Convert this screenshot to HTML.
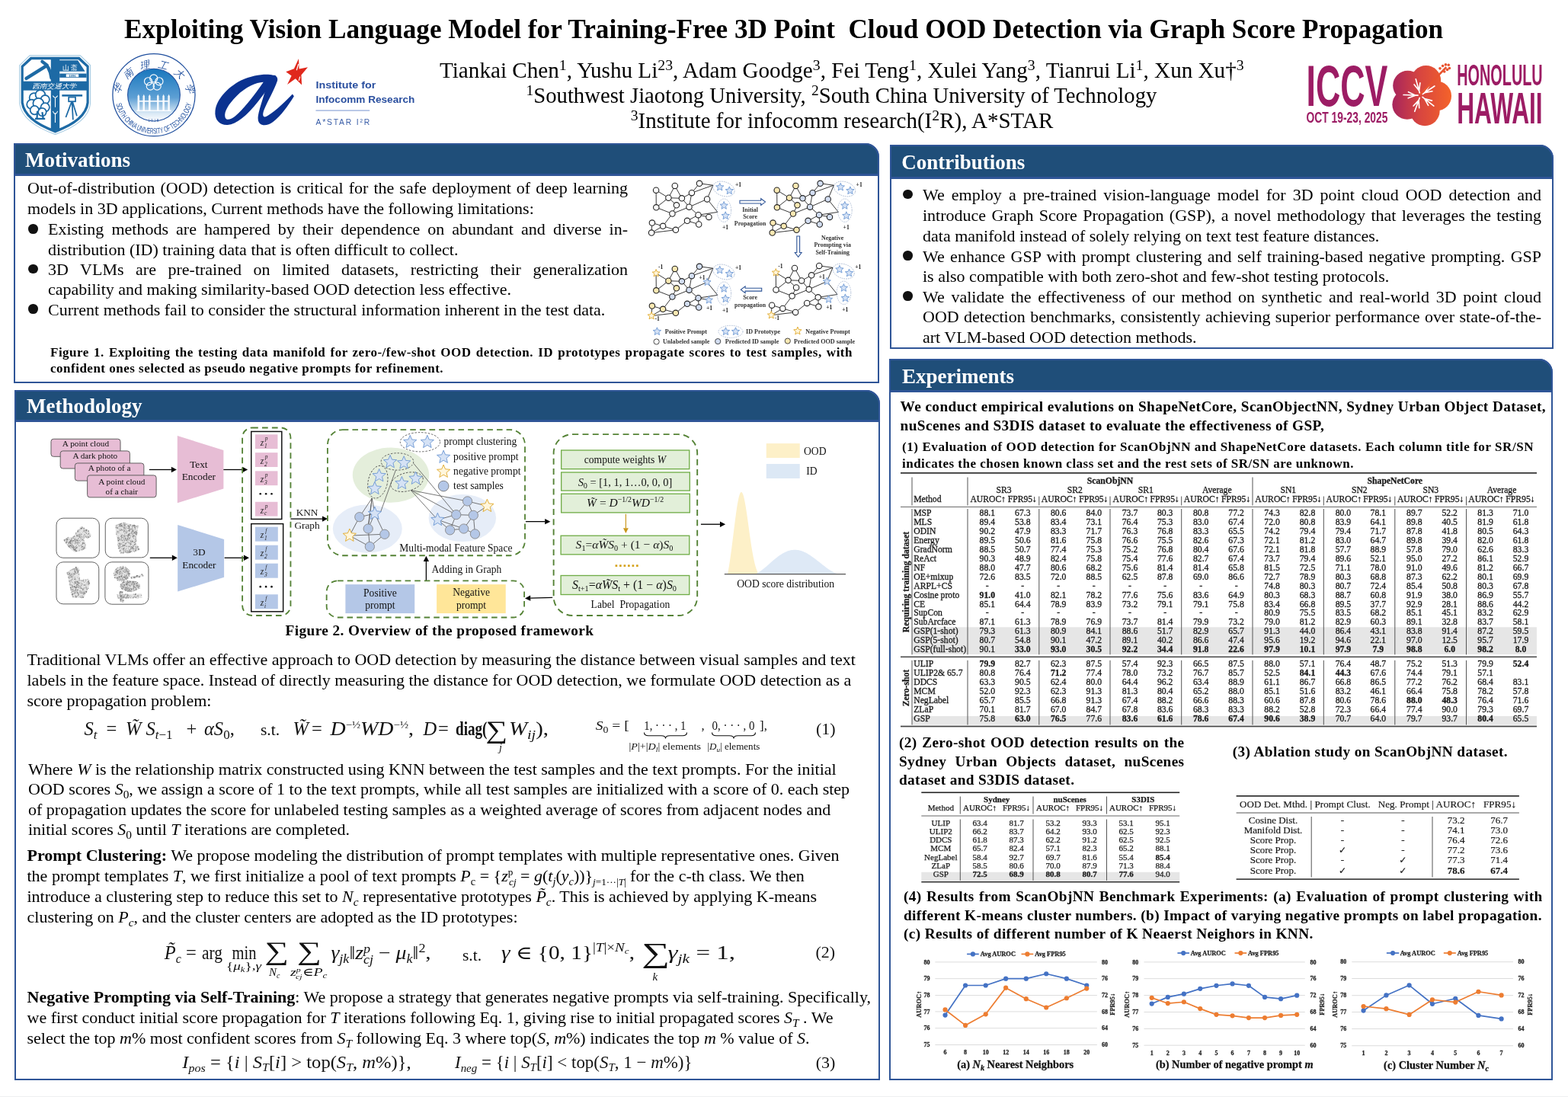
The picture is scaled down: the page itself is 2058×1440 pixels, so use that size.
<!DOCTYPE html><html><head><meta charset="utf-8"><title>GSP poster</title><style>

*{box-sizing:border-box;margin:0;padding:0}
html,body{width:2058px;height:1440px;overflow:hidden;background:#fff}
body{position:relative;font-family:"Liberation Serif", "DejaVu Serif", serif;color:#000}
.l{position:absolute;white-space:nowrap;line-height:1}
.box{position:absolute;border:2px solid #2f5597;background:#fff}
.hdr{position:absolute;background:#1f4e79;border:2px solid #2f5597;border-bottom-width:3px}
.bul{position:absolute;width:12.6px;height:12.6px;border-radius:50%;background:#111}
sub,sup{line-height:0}
.sv{position:absolute;overflow:visible}
i{font-style:italic}
.tbt1 text{stroke:#1a1a1a;stroke-width:0.3px}
.tbt2 text{stroke:#1a1a1a;stroke-width:0.25px}
.tbt3 text{stroke:#1a1a1a;stroke-width:0.2px}

</style></head><body>
<div class="l" style="left:163.0px;top:20.62px;font-size:35.2px;font-weight:bold;">Exploiting Vision Language Model for Training-Free 3D Point&nbsp; Cloud OOD Detection via Graph Score Propagation</div>
<div class="l" style="left:577.0px;top:78.29px;font-size:29.15px;">Tiankai Chen<sup style="font-size:0.68em;vertical-align:0.5em">1</sup>, Yushu Li<sup style="font-size:0.68em;vertical-align:0.5em">23</sup>, Adam Goodge<sup style="font-size:0.68em;vertical-align:0.5em">3</sup>, Fei Teng<sup style="font-size:0.68em;vertical-align:0.5em">1</sup>, Xulei Yang<sup style="font-size:0.68em;vertical-align:0.5em">3</sup>, Tianrui Li<sup style="font-size:0.68em;vertical-align:0.5em">1</sup>, Xun Xu&dagger;<sup style="font-size:0.68em;vertical-align:0.5em">3</sup></div>
<div class="l" style="left:690.5px;top:111.36px;font-size:28.7px;"><sup style="font-size:0.68em;vertical-align:0.5em">1</sup>Southwest Jiaotong University, <sup style="font-size:0.68em;vertical-align:0.5em">2</sup>South China University of Technology</div>
<div class="l" style="left:0.0px;top:143.51px;font-size:29.0px;width:2210.0px;text-align:center;"><sup style="font-size:0.68em;vertical-align:0.5em">3</sup>Institute for infocomm research(I<sup style="font-size:0.68em;vertical-align:0.5em">2</sup>R), A*STAR</div>
<div class="box" style="left:18px;top:188px;width:1136px;height:315px;border-top-right-radius:18px"></div>
<div class="hdr" style="left:18px;top:188px;width:1136px;height:43px;border-top-right-radius:18px"></div>
<div class="l" style="left:33.0px;top:197.29px;font-size:27px;font-weight:bold;color:#fff;">Motivations</div>
<div class="box" style="left:19px;top:512px;width:1136px;height:906px;border-top-right-radius:18px"></div>
<div class="hdr" style="left:19px;top:512px;width:1136px;height:42px;border-top-right-radius:18px"></div>
<div class="l" style="left:35.0px;top:519.69px;font-size:27px;font-weight:bold;color:#fff;">Methodology</div>
<div class="box" style="left:1168px;top:190px;width:871px;height:268px;border-top-right-radius:18px"></div>
<div class="hdr" style="left:1168px;top:190px;width:871px;height:45px;border-top-right-radius:18px"></div>
<div class="l" style="left:1183.2px;top:200.09px;font-size:27px;font-weight:bold;color:#fff;">Contributions</div>
<div class="box" style="left:1167px;top:471px;width:871px;height:947px;border-top-right-radius:18px"></div>
<div class="hdr" style="left:1167px;top:471px;width:871px;height:44px;border-top-right-radius:18px"></div>
<div class="l" style="left:1184.0px;top:480.89px;font-size:27px;font-weight:bold;color:#fff;">Experiments</div>
<div class="l" style="left:36.0px;top:236.38px;font-size:22px;width:788.0px;text-align:justify;text-align-last:justify;">Out-of-distribution (OOD) detection is critical for the safe deployment of deep learning</div>
<div class="l" style="left:36.0px;top:263.38px;font-size:22px;">models in 3D applications, Current methods have the following limitations:</div>
<div class="bul" style="left:37.3px;top:294.0px"></div>
<div class="l" style="left:63.0px;top:290.47px;font-size:22px;width:761.0px;text-align:justify;text-align-last:justify;">Existing methods are hampered by their dependence on abundant and diverse in-</div>
<div class="l" style="left:63.0px;top:316.57px;font-size:22px;">distribution (ID) training data that is often difficult to collect.</div>
<div class="bul" style="left:37.3px;top:346.6px"></div>
<div class="l" style="left:63.0px;top:343.07px;font-size:22px;width:761.0px;text-align:justify;text-align-last:justify;">3D VLMs are pre-trained on limited datasets, restricting their generalization</div>
<div class="l" style="left:63.0px;top:369.27px;font-size:22px;">capability and making similarity-based OOD detection less effective.</div>
<div class="bul" style="left:37.3px;top:399.4px"></div>
<div class="l" style="left:63.0px;top:395.88px;font-size:22px;">Current methods fail to consider the structural information inherent in the test data.</div>
<div class="l" style="left:66.0px;top:454.26px;font-size:17.0px;width:1053.0px;text-align:justify;text-align-last:justify;font-weight:bold;letter-spacing:0.5px;">Figure 1. Exploiting the testing data manifold for zero-/few-shot OOD detection. ID prototypes propagate scores to test samples, with</div>
<div class="l" style="left:66.0px;top:475.26px;font-size:17.0px;font-weight:bold;letter-spacing:0.5px;">confident ones selected as pseudo negative prompts for refinement.</div>
<div class="bul" style="left:1185px;top:248.9px"></div>
<div class="l" style="left:1211.0px;top:245.38px;font-size:22px;width:812.0px;text-align:justify;text-align-last:justify;">We employ a pre-trained vision-language model for 3D point cloud OOD detection and</div>
<div class="l" style="left:1211.0px;top:272.18px;font-size:22px;width:812.0px;text-align:justify;text-align-last:justify;">introduce Graph Score Propagation (GSP), a novel methodology that leverages the testing</div>
<div class="l" style="left:1211.0px;top:298.88px;font-size:22px;">data manifold instead of solely relying on text test feature distances.</div>
<div class="bul" style="left:1185px;top:329.1px"></div>
<div class="l" style="left:1211.0px;top:325.57px;font-size:22px;width:812.0px;text-align:justify;text-align-last:justify;">We enhance GSP with prompt clustering and self training-based negative prompting. GSP</div>
<div class="l" style="left:1211.0px;top:352.18px;font-size:22px;">is also compatible with both zero-shot and few-shot testing protocols.</div>
<div class="bul" style="left:1185px;top:382.1px"></div>
<div class="l" style="left:1211.0px;top:378.57px;font-size:22px;width:812.0px;text-align:justify;text-align-last:justify;">We validate the effectiveness of our method on synthetic and real-world 3D point cloud</div>
<div class="l" style="left:1211.0px;top:405.18px;font-size:22px;width:812.0px;text-align:justify;text-align-last:justify;">OOD detection benchmarks, consistently achieving superior performance over state-of-the-</div>
<div class="l" style="left:1211.0px;top:431.88px;font-size:22px;">art VLM-based OOD detection methods.</div>
<div class="l" style="left:374.5px;top:817.64px;font-size:19.3px;font-weight:bold;letter-spacing:0.42px;">Figure 2. Overview of the proposed framework</div>
<div class="l" style="left:35.5px;top:855.18px;font-size:22px;">Traditional VLMs offer an effective approach to OOD detection by measuring the distance between visual samples and text</div>
<div class="l" style="left:35.5px;top:882.18px;font-size:22px;">labels in the feature space. Instead of directly measuring the distance for OOD detection, we formulate OOD detection as a</div>
<div class="l" style="left:35.5px;top:909.18px;font-size:22px;">score propagation problem:</div>
<div class="l" style="left:37.0px;top:998.78px;font-size:22px;">Where <i>W</i> is the relationship matrix constructed using KNN between the test samples and the text prompts. For the initial</div>
<div class="l" style="left:37.0px;top:1025.17px;font-size:22px;">OOD scores <i>S</i><sub style="font-size:0.7em">0</sub>, we assign a score of 1 to the text prompts, while all test samples are initialized with a score of 0. each step</div>
<div class="l" style="left:37.0px;top:1051.58px;font-size:22px;">of propagation updates the score for unlabeled testing samples as a weighted average of scores from adjacent nodes and</div>
<div class="l" style="left:37.0px;top:1077.88px;font-size:22px;">initial scores <i>S</i><sub style="font-size:0.7em">0</sub> until <i>T</i> iterations are completed.</div>
<div class="l" style="left:35.5px;top:1112.17px;font-size:22px;"><b>Prompt Clustering:</b> We propose modeling the distribution of prompt templates with multiple representative ones. Given</div>
<div class="l" style="left:35.5px;top:1138.78px;font-size:22px;">the prompt templates <i>T</i>, we first initialize a pool of text prompts <i>P</i><sub style="font-size:.65em">c</sub> = {<i>z</i><sup style="font-size:.6em">p</sup><sub style="font-size:.6em;margin-left:-0.4em"><i>cj</i></sub> = <i>g</i>(<i>t<sub style="font-size:.65em">j</sub></i>(<i>y<sub style="font-size:.65em">c</sub></i>))}<sub style="font-size:.6em"><i>j</i>=1&middot;&middot;&middot;|<i>T</i>|</sub> for the c-th class. We then</div>
<div class="l" style="left:35.5px;top:1165.58px;font-size:22px;">introduce a clustering step to reduce this set to <i>N<sub style="font-size:.7em">c</sub></i> representative prototypes <i>P&#771;<sub style="font-size:.7em">c</sub></i>. This is achieved by applying K-means</div>
<div class="l" style="left:35.5px;top:1192.78px;font-size:22px;">clustering on <i>P<sub style="font-size:.7em">c</sub></i>, and the cluster centers are adopted as the ID prototypes:</div>
<div class="l" style="left:35.5px;top:1298.08px;font-size:22px;"><b>Negative Prompting via Self-Training</b>: We propose a strategy that generates negative prompts via self-training. Specifically,</div>
<div class="l" style="left:35.5px;top:1324.88px;font-size:22px;">we first conduct initial score propagation for <i>T</i> iterations following Eq. 1, giving rise to initial propagated scores <i>S<sub style="font-size:.7em">T</sub></i> . We</div>
<div class="l" style="left:35.5px;top:1351.88px;font-size:22px;">select the top <i>m</i>% most confident scores from <i>S<sub style="font-size:.7em">T</sub></i> following Eq. 3 where top(<i>S</i>, <i>m</i>%) indicates the top <i>m</i> % value of <i>S</i>.</div>
<div class="l" style="left:1181.6px;top:524.44px;font-size:19.3px;font-weight:bold;letter-spacing:0.4px;">We conduct empirical evalutions on ShapeNetCore, ScanObjectNN, Sydney Urban Object Dataset,</div>
<div class="l" style="left:1181.6px;top:549.34px;font-size:19.3px;font-weight:bold;letter-spacing:0.39px;">nuScenes and S3DIS dataset to evaluate the effectiveness of GSP,</div>
<div class="l" style="left:1184.0px;top:578.16px;font-size:17.0px;font-weight:bold;letter-spacing:0.58px;">(1) Evaluation of OOD detection for ScanObjNN and ShapeNetCore datasets. Each column title for SR/SN</div>
<div class="l" style="left:1184.0px;top:599.56px;font-size:17.0px;font-weight:bold;letter-spacing:0.49px;">indicates the chosen known class set and the rest sets of SR/SN are unknown.</div>
<div class="l" style="left:1180.0px;top:964.94px;font-size:19.3px;width:374.5px;text-align:justify;text-align-last:justify;font-weight:bold;letter-spacing:0.37px;">(2) Zero-shot OOD detection results on the</div>
<div class="l" style="left:1180.0px;top:989.94px;font-size:19.3px;width:374.5px;text-align:justify;text-align-last:justify;font-weight:bold;letter-spacing:0.37px;">Sydney Urban Objects dataset, nuScenes</div>
<div class="l" style="left:1180.0px;top:1013.74px;font-size:19.3px;font-weight:bold;letter-spacing:0.37px;">dataset and S3DIS dataset.</div>
<div class="l" style="left:1617.8px;top:977.04px;font-size:19.3px;font-weight:bold;letter-spacing:0.38px;">(3) Ablation study on ScanObjNN dataset.</div>
<div class="l" style="left:1186.0px;top:1167.04px;font-size:19.3px;width:838.6px;text-align:justify;text-align-last:justify;font-weight:bold;letter-spacing:0.39px;">(4) Results from ScanObjNN Benchmark Experiments: (a) Evaluation of prompt clustering with</div>
<div class="l" style="left:1186.0px;top:1191.94px;font-size:19.3px;font-weight:bold;letter-spacing:0.39px;">different K-means cluster numbers. (b) Impact of varying negative prompts on label propagation.</div>
<div class="l" style="left:1186.0px;top:1215.74px;font-size:19.3px;font-weight:bold;letter-spacing:0.39px;">(c) Results of different number of K Neaerst Neighors in KNN.</div>
<svg class="sv" style="left:840px;top:230px" width="310" height="230" viewBox="840 230 310 230"><style>.f1n{font:bold 7.6px "Liberation Serif",serif;fill:#222}.f1b{font:bold 7.9px "Liberation Serif",serif;fill:#333;text-anchor:middle}.f1l{font:bold 8.1px "Liberation Serif",serif;fill:#333}</style><g stroke="#222" stroke-width="0.9"><line x1="861.1" y1="249.7" x2="861.3" y2="272.3"/><line x1="861.1" y1="249.7" x2="877.4" y2="259.7"/><line x1="885.8" y1="243.9" x2="877.4" y2="259.7"/><line x1="885.8" y1="243.9" x2="894.9" y2="260.3"/><line x1="877.4" y1="259.7" x2="894.9" y2="260.3"/><line x1="877.4" y1="259.7" x2="861.3" y2="272.3"/><line x1="877.4" y1="259.7" x2="887.9" y2="269.3"/><line x1="894.9" y1="260.3" x2="907.9" y2="253.2"/><line x1="894.9" y1="260.3" x2="904.5" y2="271.7"/><line x1="907.9" y1="253.2" x2="904.5" y2="271.7"/><line x1="907.9" y1="253.2" x2="918.0" y2="240.8"/><line x1="887.9" y1="269.3" x2="882.4" y2="280.5"/><line x1="861.3" y1="272.3" x2="882.4" y2="280.5"/><line x1="904.5" y1="271.7" x2="882.4" y2="280.5"/><line x1="904.5" y1="271.7" x2="928.1" y2="261.4"/><line x1="904.5" y1="271.7" x2="916.5" y2="282.2"/><line x1="882.4" y1="280.5" x2="870.1" y2="296.8"/><line x1="916.5" y1="282.2" x2="930.4" y2="284.9"/><line x1="916.5" y1="282.2" x2="902.0" y2="289.8"/><line x1="916.5" y1="282.2" x2="917.2" y2="294.5"/><line x1="902.0" y1="289.8" x2="917.2" y2="294.5"/><line x1="902.0" y1="289.8" x2="886.9" y2="301.8"/><line x1="855.9" y1="292.6" x2="870.1" y2="296.8"/><line x1="855.9" y1="292.6" x2="855.1" y2="305.6"/><line x1="870.1" y1="296.8" x2="855.1" y2="305.6"/><line x1="870.1" y1="296.8" x2="886.9" y2="301.8"/><line x1="855.1" y1="305.6" x2="886.9" y2="301.8"/><line x1="918.0" y1="240.8" x2="935.8" y2="243.2"/><line x1="907.9" y1="253.2" x2="935.8" y2="243.2"/><line x1="928.1" y1="261.4" x2="935.8" y2="243.2"/><line x1="928.1" y1="261.4" x2="941.8" y2="278.4"/><line x1="916.5" y1="282.2" x2="941.8" y2="278.4"/></g><g stroke="#222" stroke-width="1.1"><circle cx="861.1" cy="249.7" r="3.7" fill="#ffffff"/><circle cx="885.8" cy="243.9" r="3.7" fill="#ffffff"/><circle cx="918.0" cy="240.8" r="3.7" fill="#ffffff"/><circle cx="877.4" cy="259.7" r="3.7" fill="#ffffff"/><circle cx="894.9" cy="260.3" r="3.7" fill="#ffffff"/><circle cx="907.9" cy="253.2" r="3.7" fill="#ffffff"/><circle cx="887.9" cy="269.3" r="3.7" fill="#ffffff"/><circle cx="861.3" cy="272.3" r="3.7" fill="#ffffff"/><circle cx="904.5" cy="271.7" r="3.7" fill="#ffffff"/><circle cx="928.1" cy="261.4" r="3.7" fill="#ffffff"/><circle cx="882.4" cy="280.5" r="3.7" fill="#ffffff"/><circle cx="916.5" cy="282.2" r="3.7" fill="#ffffff"/><circle cx="930.4" cy="284.9" r="3.7" fill="#ffffff"/><circle cx="855.9" cy="292.6" r="3.7" fill="#ffffff"/><circle cx="870.1" cy="296.8" r="3.7" fill="#ffffff"/><circle cx="902.0" cy="289.8" r="3.7" fill="#ffffff"/><circle cx="917.2" cy="294.5" r="3.7" fill="#ffffff"/><circle cx="855.1" cy="305.6" r="3.7" fill="#ffffff"/><circle cx="886.9" cy="301.8" r="3.7" fill="#ffffff"/></g><ellipse cx="950.0" cy="248.0" rx="14.5" ry="9.3" transform="rotate(18 950.0 248.0)" fill="none" stroke="#8fa3c4" stroke-width="0.7" stroke-dasharray="1.6 1.2"/><ellipse cx="950.3" cy="276.2" rx="9.3" ry="15.2" fill="none" stroke="#8fa3c4" stroke-width="0.7" stroke-dasharray="1.6 1.2"/><polygon points="944.70,240.20 946.13,243.63 949.84,243.93 947.01,246.35 947.87,249.97 944.70,248.03 941.53,249.97 942.39,246.35 939.56,243.93 943.27,243.63" fill="#d5e2f5" stroke="#6d98d4" stroke-width="0.9" stroke-linejoin="miter"/><polygon points="957.30,244.90 958.73,248.33 962.44,248.63 959.61,251.05 960.47,254.67 957.30,252.73 954.13,254.67 954.99,251.05 952.16,248.63 955.87,248.33" fill="#d5e2f5" stroke="#6d98d4" stroke-width="0.9" stroke-linejoin="miter"/><polygon points="950.20,264.50 951.63,267.93 955.34,268.23 952.51,270.65 953.37,274.27 950.20,272.33 947.03,274.27 947.89,270.65 945.06,268.23 948.77,267.93" fill="#d5e2f5" stroke="#6d98d4" stroke-width="0.9" stroke-linejoin="miter"/><polygon points="952.20,277.80 953.63,281.23 957.34,281.53 954.51,283.95 955.37,287.57 952.20,285.63 949.03,287.57 949.89,283.95 947.06,281.53 950.77,281.23" fill="#d5e2f5" stroke="#6d98d4" stroke-width="0.9" stroke-linejoin="miter"/><text x="965.0" y="244.5" class="f1n">+1</text><text x="948.0" y="300.5" class="f1n">+1</text><g stroke="#222" stroke-width="0.9"><line x1="1019.7" y1="249.7" x2="1019.9" y2="272.3"/><line x1="1019.7" y1="249.7" x2="1036.0" y2="259.7"/><line x1="1044.4" y1="243.9" x2="1036.0" y2="259.7"/><line x1="1044.4" y1="243.9" x2="1053.5" y2="260.3"/><line x1="1036.0" y1="259.7" x2="1053.5" y2="260.3"/><line x1="1036.0" y1="259.7" x2="1019.9" y2="272.3"/><line x1="1036.0" y1="259.7" x2="1046.5" y2="269.3"/><line x1="1053.5" y1="260.3" x2="1066.5" y2="253.2"/><line x1="1053.5" y1="260.3" x2="1063.1" y2="271.7"/><line x1="1066.5" y1="253.2" x2="1063.1" y2="271.7"/><line x1="1066.5" y1="253.2" x2="1076.6" y2="240.8"/><line x1="1046.5" y1="269.3" x2="1041.0" y2="280.5"/><line x1="1019.9" y1="272.3" x2="1041.0" y2="280.5"/><line x1="1063.1" y1="271.7" x2="1041.0" y2="280.5"/><line x1="1063.1" y1="271.7" x2="1086.7" y2="261.4"/><line x1="1063.1" y1="271.7" x2="1075.1" y2="282.2"/><line x1="1041.0" y1="280.5" x2="1028.7" y2="296.8"/><line x1="1075.1" y1="282.2" x2="1089.0" y2="284.9"/><line x1="1075.1" y1="282.2" x2="1060.6" y2="289.8"/><line x1="1075.1" y1="282.2" x2="1075.8" y2="294.5"/><line x1="1060.6" y1="289.8" x2="1075.8" y2="294.5"/><line x1="1060.6" y1="289.8" x2="1045.5" y2="301.8"/><line x1="1014.5" y1="292.6" x2="1028.7" y2="296.8"/><line x1="1014.5" y1="292.6" x2="1013.7" y2="305.6"/><line x1="1028.7" y1="296.8" x2="1013.7" y2="305.6"/><line x1="1028.7" y1="296.8" x2="1045.5" y2="301.8"/><line x1="1013.7" y1="305.6" x2="1045.5" y2="301.8"/><line x1="1076.6" y1="240.8" x2="1094.4" y2="243.2"/><line x1="1066.5" y1="253.2" x2="1094.4" y2="243.2"/><line x1="1086.7" y1="261.4" x2="1094.4" y2="243.2"/><line x1="1086.7" y1="261.4" x2="1100.4" y2="278.4"/><line x1="1075.1" y1="282.2" x2="1100.4" y2="278.4"/></g><g stroke="#222" stroke-width="1.1"><circle cx="1019.7" cy="249.7" r="3.7" fill="#fbe9b3"/><circle cx="1044.4" cy="243.9" r="3.7" fill="#fbe9b3"/><circle cx="1076.6" cy="240.8" r="3.7" fill="#d3def2"/><circle cx="1036.0" cy="259.7" r="3.7" fill="#fbe9b3"/><circle cx="1053.5" cy="260.3" r="3.7" fill="#d3def2"/><circle cx="1066.5" cy="253.2" r="3.7" fill="#d3def2"/><circle cx="1046.5" cy="269.3" r="3.7" fill="#fbe9b3"/><circle cx="1019.9" cy="272.3" r="3.7" fill="#fbe9b3"/><circle cx="1063.1" cy="271.7" r="3.7" fill="#d3def2"/><circle cx="1086.7" cy="261.4" r="3.7" fill="#d3def2"/><circle cx="1041.0" cy="280.5" r="3.7" fill="#fbe9b3"/><circle cx="1075.1" cy="282.2" r="3.7" fill="#d3def2"/><circle cx="1089.0" cy="284.9" r="3.7" fill="#d3def2"/><circle cx="1014.5" cy="292.6" r="3.7" fill="#fbe9b3"/><circle cx="1028.7" cy="296.8" r="3.7" fill="#fbe9b3"/><circle cx="1060.6" cy="289.8" r="3.7" fill="#d3def2"/><circle cx="1075.8" cy="294.5" r="3.7" fill="#d3def2"/><circle cx="1013.7" cy="305.6" r="3.7" fill="#fbe9b3"/><circle cx="1045.5" cy="301.8" r="3.7" fill="#fbe9b3"/></g><ellipse cx="1108.6" cy="248.0" rx="14.5" ry="9.3" transform="rotate(18 1108.6 248.0)" fill="none" stroke="#8fa3c4" stroke-width="0.7" stroke-dasharray="1.6 1.2"/><ellipse cx="1108.9" cy="276.2" rx="9.3" ry="15.2" fill="none" stroke="#8fa3c4" stroke-width="0.7" stroke-dasharray="1.6 1.2"/><polygon points="1103.30,240.20 1104.73,243.63 1108.44,243.93 1105.61,246.35 1106.47,249.97 1103.30,248.03 1100.13,249.97 1100.99,246.35 1098.16,243.93 1101.87,243.63" fill="#d5e2f5" stroke="#6d98d4" stroke-width="0.9" stroke-linejoin="miter"/><polygon points="1115.90,244.90 1117.33,248.33 1121.04,248.63 1118.21,251.05 1119.07,254.67 1115.90,252.73 1112.73,254.67 1113.59,251.05 1110.76,248.63 1114.47,248.33" fill="#d5e2f5" stroke="#6d98d4" stroke-width="0.9" stroke-linejoin="miter"/><polygon points="1108.80,264.50 1110.23,267.93 1113.94,268.23 1111.11,270.65 1111.97,274.27 1108.80,272.33 1105.63,274.27 1106.49,270.65 1103.66,268.23 1107.37,267.93" fill="#d5e2f5" stroke="#6d98d4" stroke-width="0.9" stroke-linejoin="miter"/><polygon points="1110.80,277.80 1112.23,281.23 1115.94,281.53 1113.11,283.95 1113.97,287.57 1110.80,285.63 1107.63,287.57 1108.49,283.95 1105.66,281.53 1109.37,281.23" fill="#d5e2f5" stroke="#6d98d4" stroke-width="0.9" stroke-linejoin="miter"/><text x="1123.6" y="244.5" class="f1n">+1</text><text x="1106.6" y="300.5" class="f1n">+1</text><g stroke="#222" stroke-width="0.9"><line x1="861.1" y1="358.7" x2="861.3" y2="381.3"/><line x1="861.1" y1="358.7" x2="877.4" y2="368.7"/><line x1="885.8" y1="352.9" x2="877.4" y2="368.7"/><line x1="885.8" y1="352.9" x2="894.9" y2="369.3"/><line x1="877.4" y1="368.7" x2="894.9" y2="369.3"/><line x1="877.4" y1="368.7" x2="861.3" y2="381.3"/><line x1="877.4" y1="368.7" x2="887.9" y2="378.3"/><line x1="894.9" y1="369.3" x2="907.9" y2="362.2"/><line x1="894.9" y1="369.3" x2="904.5" y2="380.7"/><line x1="907.9" y1="362.2" x2="904.5" y2="380.7"/><line x1="907.9" y1="362.2" x2="918.0" y2="349.8"/><line x1="887.9" y1="378.3" x2="882.4" y2="389.5"/><line x1="861.3" y1="381.3" x2="882.4" y2="389.5"/><line x1="904.5" y1="380.7" x2="882.4" y2="389.5"/><line x1="904.5" y1="380.7" x2="928.1" y2="370.4"/><line x1="904.5" y1="380.7" x2="916.5" y2="391.2"/><line x1="882.4" y1="389.5" x2="870.1" y2="405.8"/><line x1="916.5" y1="391.2" x2="930.4" y2="393.9"/><line x1="916.5" y1="391.2" x2="902.0" y2="398.8"/><line x1="916.5" y1="391.2" x2="917.2" y2="403.5"/><line x1="902.0" y1="398.8" x2="917.2" y2="403.5"/><line x1="902.0" y1="398.8" x2="886.9" y2="410.8"/><line x1="855.9" y1="401.6" x2="870.1" y2="405.8"/><line x1="855.9" y1="401.6" x2="855.1" y2="414.6"/><line x1="870.1" y1="405.8" x2="855.1" y2="414.6"/><line x1="870.1" y1="405.8" x2="886.9" y2="410.8"/><line x1="855.1" y1="414.6" x2="886.9" y2="410.8"/><line x1="918.0" y1="349.8" x2="935.8" y2="352.2"/><line x1="907.9" y1="362.2" x2="935.8" y2="352.2"/><line x1="928.1" y1="370.4" x2="935.8" y2="352.2"/><line x1="928.1" y1="370.4" x2="941.8" y2="387.4"/><line x1="916.5" y1="391.2" x2="941.8" y2="387.4"/></g><g stroke="#222" stroke-width="1.1"><circle cx="885.8" cy="352.9" r="3.7" fill="#fbe9b3"/><circle cx="918.0" cy="349.8" r="3.7" fill="#d3def2"/><circle cx="877.4" cy="368.7" r="3.7" fill="#fbe9b3"/><circle cx="894.9" cy="369.3" r="3.7" fill="#d3def2"/><circle cx="907.9" cy="362.2" r="3.7" fill="#d3def2"/><circle cx="887.9" cy="378.3" r="3.7" fill="#fbe9b3"/><circle cx="861.3" cy="381.3" r="3.7" fill="#fbe9b3"/><circle cx="904.5" cy="380.7" r="3.7" fill="#d3def2"/><circle cx="882.4" cy="389.5" r="3.7" fill="#d3def2"/><circle cx="916.5" cy="391.2" r="3.7" fill="#d3def2"/><circle cx="855.9" cy="401.6" r="3.7" fill="#fbe9b3"/><circle cx="870.1" cy="405.8" r="3.7" fill="#fbe9b3"/><circle cx="902.0" cy="398.8" r="3.7" fill="#d3def2"/><circle cx="917.2" cy="403.5" r="3.7" fill="#d3def2"/><circle cx="886.9" cy="410.8" r="3.7" fill="#fbe9b3"/></g><polygon points="861.10,353.50 862.48,356.81 866.05,357.09 863.33,359.42 864.16,362.91 861.10,361.04 858.04,362.91 858.87,359.42 856.15,357.09 859.72,356.81" fill="#fff6dc" stroke="#e0a82a" stroke-width="0.9" stroke-linejoin="miter"/><polygon points="855.10,409.40 856.48,412.71 860.05,412.99 857.33,415.32 858.16,418.81 855.10,416.94 852.04,418.81 852.87,415.32 850.15,412.99 853.72,412.71" fill="#fff6dc" stroke="#e0a82a" stroke-width="0.9" stroke-linejoin="miter"/><polygon points="928.10,365.20 929.48,368.51 933.05,368.79 930.33,371.12 931.16,374.61 928.10,372.74 925.04,374.61 925.87,371.12 923.15,368.79 926.72,368.51" fill="#d5e2f5" stroke="#6d98d4" stroke-width="0.9" stroke-linejoin="miter"/><polygon points="930.40,388.70 931.78,392.01 935.35,392.29 932.63,394.62 933.46,398.11 930.40,396.24 927.34,398.11 928.17,394.62 925.45,392.29 929.02,392.01" fill="#d5e2f5" stroke="#6d98d4" stroke-width="0.9" stroke-linejoin="miter"/><ellipse cx="950.0" cy="357.0" rx="14.5" ry="9.3" transform="rotate(18 950.0 357.0)" fill="none" stroke="#8fa3c4" stroke-width="0.7" stroke-dasharray="1.6 1.2"/><ellipse cx="950.3" cy="385.2" rx="9.3" ry="15.2" fill="none" stroke="#8fa3c4" stroke-width="0.7" stroke-dasharray="1.6 1.2"/><polygon points="944.70,349.20 946.13,352.63 949.84,352.93 947.01,355.35 947.87,358.97 944.70,357.03 941.53,358.97 942.39,355.35 939.56,352.93 943.27,352.63" fill="#d5e2f5" stroke="#6d98d4" stroke-width="0.9" stroke-linejoin="miter"/><polygon points="957.30,353.90 958.73,357.33 962.44,357.63 959.61,360.05 960.47,363.67 957.30,361.73 954.13,363.67 954.99,360.05 952.16,357.63 955.87,357.33" fill="#d5e2f5" stroke="#6d98d4" stroke-width="0.9" stroke-linejoin="miter"/><polygon points="950.20,373.50 951.63,376.93 955.34,377.23 952.51,379.65 953.37,383.27 950.20,381.33 947.03,383.27 947.89,379.65 945.06,377.23 948.77,376.93" fill="#d5e2f5" stroke="#6d98d4" stroke-width="0.9" stroke-linejoin="miter"/><polygon points="952.20,386.80 953.63,390.23 957.34,390.53 954.51,392.95 955.37,396.57 952.20,394.63 949.03,396.57 949.89,392.95 947.06,390.53 950.77,390.23" fill="#d5e2f5" stroke="#6d98d4" stroke-width="0.9" stroke-linejoin="miter"/><text x="965.0" y="353.5" class="f1n">+1</text><text x="948.0" y="409.5" class="f1n">+1</text><text x="864.0" y="353.3" class="f1n">-1</text><text x="859.5" y="421.0" class="f1n">-1</text><text x="917.5" y="366.8" class="f1n">+1</text><text x="927.0" y="406.5" class="f1n">+1</text><g stroke="#222" stroke-width="0.9"><line x1="1018.3" y1="357.8" x2="1018.5" y2="380.4"/><line x1="1018.3" y1="357.8" x2="1034.6" y2="367.8"/><line x1="1043.0" y1="352.0" x2="1034.6" y2="367.8"/><line x1="1043.0" y1="352.0" x2="1052.1" y2="368.4"/><line x1="1034.6" y1="367.8" x2="1052.1" y2="368.4"/><line x1="1034.6" y1="367.8" x2="1018.5" y2="380.4"/><line x1="1034.6" y1="367.8" x2="1045.1" y2="377.4"/><line x1="1052.1" y1="368.4" x2="1065.1" y2="361.3"/><line x1="1052.1" y1="368.4" x2="1061.7" y2="379.8"/><line x1="1065.1" y1="361.3" x2="1061.7" y2="379.8"/><line x1="1065.1" y1="361.3" x2="1075.2" y2="348.9"/><line x1="1045.1" y1="377.4" x2="1039.6" y2="388.6"/><line x1="1018.5" y1="380.4" x2="1039.6" y2="388.6"/><line x1="1061.7" y1="379.8" x2="1039.6" y2="388.6"/><line x1="1061.7" y1="379.8" x2="1085.3" y2="369.5"/><line x1="1061.7" y1="379.8" x2="1073.7" y2="390.3"/><line x1="1039.6" y1="388.6" x2="1027.3" y2="404.9"/><line x1="1073.7" y1="390.3" x2="1087.6" y2="393.0"/><line x1="1073.7" y1="390.3" x2="1059.2" y2="397.9"/><line x1="1073.7" y1="390.3" x2="1074.4" y2="402.6"/><line x1="1059.2" y1="397.9" x2="1074.4" y2="402.6"/><line x1="1059.2" y1="397.9" x2="1044.1" y2="409.9"/><line x1="1013.1" y1="400.7" x2="1027.3" y2="404.9"/><line x1="1013.1" y1="400.7" x2="1012.3" y2="413.7"/><line x1="1027.3" y1="404.9" x2="1012.3" y2="413.7"/><line x1="1027.3" y1="404.9" x2="1044.1" y2="409.9"/><line x1="1012.3" y1="413.7" x2="1044.1" y2="409.9"/><line x1="1075.2" y1="348.9" x2="1093.0" y2="351.3"/><line x1="1065.1" y1="361.3" x2="1093.0" y2="351.3"/><line x1="1085.3" y1="369.5" x2="1093.0" y2="351.3"/><line x1="1085.3" y1="369.5" x2="1099.0" y2="386.5"/><line x1="1073.7" y1="390.3" x2="1099.0" y2="386.5"/></g><g stroke="#222" stroke-width="1.1"><circle cx="1043.0" cy="352.0" r="3.7" fill="#ffffff"/><circle cx="1075.2" cy="348.9" r="3.7" fill="#ffffff"/><circle cx="1034.6" cy="367.8" r="3.7" fill="#ffffff"/><circle cx="1052.1" cy="368.4" r="3.7" fill="#ffffff"/><circle cx="1065.1" cy="361.3" r="3.7" fill="#ffffff"/><circle cx="1045.1" cy="377.4" r="3.7" fill="#ffffff"/><circle cx="1018.5" cy="380.4" r="3.7" fill="#ffffff"/><circle cx="1061.7" cy="379.8" r="3.7" fill="#ffffff"/><circle cx="1039.6" cy="388.6" r="3.7" fill="#ffffff"/><circle cx="1073.7" cy="390.3" r="3.7" fill="#ffffff"/><circle cx="1013.1" cy="400.7" r="3.7" fill="#ffffff"/><circle cx="1027.3" cy="404.9" r="3.7" fill="#ffffff"/><circle cx="1059.2" cy="397.9" r="3.7" fill="#ffffff"/><circle cx="1074.4" cy="402.6" r="3.7" fill="#ffffff"/><circle cx="1044.1" cy="409.9" r="3.7" fill="#ffffff"/></g><polygon points="1018.30,352.60 1019.68,355.91 1023.25,356.19 1020.53,358.52 1021.36,362.01 1018.30,360.14 1015.24,362.01 1016.07,358.52 1013.35,356.19 1016.92,355.91" fill="#fff6dc" stroke="#e0a82a" stroke-width="0.9" stroke-linejoin="miter"/><polygon points="1012.30,408.50 1013.68,411.81 1017.25,412.09 1014.53,414.42 1015.36,417.91 1012.30,416.04 1009.24,417.91 1010.07,414.42 1007.35,412.09 1010.92,411.81" fill="#fff6dc" stroke="#e0a82a" stroke-width="0.9" stroke-linejoin="miter"/><polygon points="1085.30,364.30 1086.68,367.61 1090.25,367.89 1087.53,370.22 1088.36,373.71 1085.30,371.84 1082.24,373.71 1083.07,370.22 1080.35,367.89 1083.92,367.61" fill="#d5e2f5" stroke="#6d98d4" stroke-width="0.9" stroke-linejoin="miter"/><polygon points="1087.60,387.80 1088.98,391.11 1092.55,391.39 1089.83,393.72 1090.66,397.21 1087.60,395.34 1084.54,397.21 1085.37,393.72 1082.65,391.39 1086.22,391.11" fill="#d5e2f5" stroke="#6d98d4" stroke-width="0.9" stroke-linejoin="miter"/><ellipse cx="1107.2" cy="356.1" rx="14.5" ry="9.3" transform="rotate(18 1107.2 356.1)" fill="none" stroke="#8fa3c4" stroke-width="0.7" stroke-dasharray="1.6 1.2"/><ellipse cx="1107.5" cy="384.3" rx="9.3" ry="15.2" fill="none" stroke="#8fa3c4" stroke-width="0.7" stroke-dasharray="1.6 1.2"/><polygon points="1101.90,348.30 1103.33,351.73 1107.04,352.03 1104.21,354.45 1105.07,358.07 1101.90,356.13 1098.73,358.07 1099.59,354.45 1096.76,352.03 1100.47,351.73" fill="#d5e2f5" stroke="#6d98d4" stroke-width="0.9" stroke-linejoin="miter"/><polygon points="1114.50,353.00 1115.93,356.43 1119.64,356.73 1116.81,359.15 1117.67,362.77 1114.50,360.83 1111.33,362.77 1112.19,359.15 1109.36,356.73 1113.07,356.43" fill="#d5e2f5" stroke="#6d98d4" stroke-width="0.9" stroke-linejoin="miter"/><polygon points="1107.40,372.60 1108.83,376.03 1112.54,376.33 1109.71,378.75 1110.57,382.37 1107.40,380.43 1104.23,382.37 1105.09,378.75 1102.26,376.33 1105.97,376.03" fill="#d5e2f5" stroke="#6d98d4" stroke-width="0.9" stroke-linejoin="miter"/><polygon points="1109.40,385.90 1110.83,389.33 1114.54,389.63 1111.71,392.05 1112.57,395.67 1109.40,393.73 1106.23,395.67 1107.09,392.05 1104.26,389.63 1107.97,389.33" fill="#d5e2f5" stroke="#6d98d4" stroke-width="0.9" stroke-linejoin="miter"/><text x="1122.2" y="352.6" class="f1n">+1</text><text x="1105.2" y="408.6" class="f1n">+1</text><text x="1021.2" y="352.4" class="f1n">-1</text><text x="1016.7" y="420.1" class="f1n">-1</text><text x="1074.7" y="365.9" class="f1n">+1</text><text x="1084.2" y="405.6" class="f1n">+1</text><polygon points="971.0,263.2 998.7,263.2 998.7,260.7 1004.5,265.1 998.7,269.5 998.7,267.0 971.0,267.0" fill="#fff" stroke="#2f5597" stroke-width="1.1"/><polygon points="1045.8,310.0 1045.8,331.5 1043.3,331.5 1047.7,337.3 1052.1,331.5 1049.6,331.5 1049.6,310.0" fill="#fff" stroke="#2f5597" stroke-width="1.1"/><polygon points="999.7,378.3 978.1,378.3 978.1,375.8 972.3,380.2 978.1,384.6 978.1,382.1 999.7,382.1" fill="#fff" stroke="#2f5597" stroke-width="1.1"/><text x="984.6" y="277.6" class="f1b">Initial</text><text x="984.6" y="286.8" class="f1b">Score</text><text x="984.6" y="296.3" class="f1b">Propagation</text><text x="1092.7" y="314.7" class="f1b">Negative</text><text x="1092.7" y="324.2" class="f1b">Prompting via</text><text x="1092.7" y="333.5" class="f1b">Self-Training</text><text x="984.6" y="393.0" class="f1b">Score</text><text x="984.6" y="402.5" class="f1b">propagation</text><polygon points="862.40,429.80 863.83,433.23 867.54,433.53 864.71,435.95 865.57,439.57 862.40,437.63 859.23,439.57 860.09,435.95 857.26,433.53 860.97,433.23" fill="#d5e2f5" stroke="#6d98d4" stroke-width="0.9" stroke-linejoin="miter"/><text x="872.7" y="438.0" class="f1l">Positive Prompt</text><ellipse cx="959.0" cy="435.3" rx="16" ry="8" fill="none" stroke="#8fa3c4" stroke-width="0.7" stroke-dasharray="1.6 1.2"/><polygon points="952.50,429.80 953.93,433.23 957.64,433.53 954.81,435.95 955.67,439.57 952.50,437.63 949.33,439.57 950.19,435.95 947.36,433.53 951.07,433.23" fill="#d5e2f5" stroke="#6d98d4" stroke-width="0.9" stroke-linejoin="miter"/><polygon points="965.50,429.80 966.93,433.23 970.64,433.53 967.81,435.95 968.67,439.57 965.50,437.63 962.33,439.57 963.19,435.95 960.36,433.53 964.07,433.23" fill="#d5e2f5" stroke="#6d98d4" stroke-width="0.9" stroke-linejoin="miter"/><text x="979.0" y="438.0" class="f1l">ID Prototype</text><polygon points="1046.90,429.10 1048.33,432.53 1052.04,432.83 1049.21,435.25 1050.07,438.87 1046.90,436.93 1043.73,438.87 1044.59,435.25 1041.76,432.83 1045.47,432.53" fill="#fff6dc" stroke="#e0a82a" stroke-width="0.9" stroke-linejoin="miter"/><text x="1057.3" y="438.0" class="f1l">Negative Prompt</text><circle cx="861.6" cy="448.5" r="3.6" fill="#fff" stroke="#2a2a2a" stroke-width="0.85"/><text x="870.0" y="451.0" class="f1l">Unlabeled sample</text><circle cx="942.2" cy="448.1" r="3.6" fill="#d3def2" stroke="#2a2a2a" stroke-width="0.85"/><text x="951.8" y="451.0" class="f1l">Predicted ID sample</text><circle cx="1033.8" cy="447.6" r="3.6" fill="#fbe9b3" stroke="#2a2a2a" stroke-width="0.85"/><text x="1042.1" y="451.0" class="f1l">Predicted OOD sample</text></svg>
<svg class="sv" style="left:50px;top:555px" width="380" height="260" viewBox="0 0 2058 1408" preserveAspectRatio="none"><style>.ta{font:61px "Liberation Serif",serif;text-anchor:middle;fill:#111}.tb{font:72px "Liberation Serif",serif;text-anchor:middle;fill:#111}.zt{font:italic 62px "Liberation Serif",serif;fill:#222}.zs{font:italic 40px "Liberation Serif",serif;fill:#222}</style><rect x="92" y="115" width="493" height="125" rx="18" fill="#e7bdd5" stroke="#555" stroke-width="5"/><text x="338.5" y="170" class="ta">A point cloud</text><rect x="158" y="200" width="494" height="125" rx="18" fill="#e7bdd5" stroke="#555" stroke-width="5"/><text x="405.0" y="252" class="ta">A dark photo</text><rect x="262" y="287" width="490" height="125" rx="18" fill="#e7bdd5" stroke="#555" stroke-width="5"/><text x="507.0" y="340" class="ta">A photo of a</text><rect x="350" y="373" width="490" height="157" rx="18" fill="#e7bdd5" stroke="#555" stroke-width="5"/><text x="595.0" y="437" class="ta">A point cloud</text><text x="595.0" y="510" class="ta">of a chair</text><line x1="790" y1="333" x2="947.0" y2="333.0" stroke="#000" stroke-width="7"/><polygon points="985,333 947.0,353.0 947.0,313.0" fill="#000"/><polygon points="990,92 1318,195 1318,468 990,570" fill="#e7bdd5"/><text x="1142" y="318" class="tb">Text</text><text x="1142" y="405" class="tb">Encoder</text><line x1="1318" y1="333" x2="1452.0" y2="333.0" stroke="#000" stroke-width="7"/><polygon points="1490,333 1452.0,353.0 1452.0,313.0" fill="#000"/><rect x="130" y="678" width="305" height="282" rx="48" fill="#fff" stroke="#555" stroke-width="5"/><rect x="478" y="678" width="304" height="280" rx="48" fill="#fff" stroke="#555" stroke-width="5"/><rect x="130" y="990" width="302" height="298" rx="48" fill="#fff" stroke="#555" stroke-width="5"/><rect x="476" y="990" width="309" height="300" rx="48" fill="#fff" stroke="#555" stroke-width="5"/><polygon points="180,835 212,812 244,817 302,736 320,740 361,767 379,799 361,821 325,812 343,894 262,921 235,903 199,862" fill="#c4c4c4" fill-opacity="0.45"/><g fill="#606060" fill-opacity="0.5"><circle cx="310" cy="749" r="3.6"/><circle cx="345" cy="759" r="2.9"/><circle cx="295" cy="809" r="4.5"/><circle cx="343" cy="769" r="3.7"/><circle cx="307" cy="805" r="3.6"/><circle cx="221" cy="862" r="3.4"/><circle cx="243" cy="844" r="3.4"/><circle cx="240" cy="883" r="3.9"/><circle cx="229" cy="842" r="3.6"/><circle cx="331" cy="764" r="3.5"/><circle cx="354" cy="794" r="3.9"/><circle cx="299" cy="843" r="3.4"/><circle cx="275" cy="859" r="2.6"/><circle cx="320" cy="855" r="4.5"/><circle cx="344" cy="788" r="3.3"/><circle cx="313" cy="740" r="3.4"/><circle cx="258" cy="897" r="2.7"/><circle cx="270" cy="837" r="4.3"/><circle cx="252" cy="899" r="4.4"/><circle cx="277" cy="845" r="3.0"/><circle cx="254" cy="840" r="4.4"/><circle cx="318" cy="831" r="3.7"/><circle cx="315" cy="746" r="4.3"/><circle cx="339" cy="808" r="3.3"/><circle cx="201" cy="853" r="2.6"/><circle cx="233" cy="889" r="2.8"/><circle cx="285" cy="763" r="3.6"/><circle cx="186" cy="833" r="4.5"/><circle cx="214" cy="878" r="3.6"/><circle cx="335" cy="797" r="2.9"/><circle cx="226" cy="831" r="3.2"/><circle cx="269" cy="909" r="4.5"/><circle cx="370" cy="803" r="2.9"/><circle cx="221" cy="851" r="4.3"/><circle cx="310" cy="884" r="2.7"/><circle cx="312" cy="904" r="4.1"/><circle cx="247" cy="884" r="4.4"/><circle cx="259" cy="810" r="4.4"/><circle cx="324" cy="767" r="2.8"/><circle cx="341" cy="763" r="4.2"/><circle cx="250" cy="837" r="2.8"/><circle cx="310" cy="833" r="4.4"/><circle cx="267" cy="897" r="4.2"/><circle cx="297" cy="784" r="3.3"/><circle cx="251" cy="820" r="3.7"/><circle cx="360" cy="813" r="4.3"/><circle cx="280" cy="834" r="3.5"/><circle cx="339" cy="768" r="3.4"/><circle cx="325" cy="839" r="3.2"/><circle cx="283" cy="838" r="4.1"/><circle cx="202" cy="839" r="3.0"/><circle cx="235" cy="879" r="3.5"/><circle cx="292" cy="876" r="4.3"/><circle cx="269" cy="849" r="3.5"/><circle cx="282" cy="864" r="3.4"/><circle cx="286" cy="824" r="4.4"/><circle cx="319" cy="898" r="4.4"/><circle cx="232" cy="839" r="4.4"/><circle cx="347" cy="761" r="2.7"/><circle cx="313" cy="881" r="4.3"/><circle cx="211" cy="868" r="3.8"/><circle cx="370" cy="809" r="3.5"/><circle cx="213" cy="815" r="3.5"/><circle cx="244" cy="869" r="2.5"/><circle cx="291" cy="817" r="2.5"/><circle cx="246" cy="851" r="3.5"/><circle cx="264" cy="904" r="4.1"/><circle cx="320" cy="752" r="2.6"/><circle cx="317" cy="814" r="2.6"/><circle cx="248" cy="838" r="4.4"/><circle cx="285" cy="780" r="2.7"/><circle cx="241" cy="876" r="3.1"/><circle cx="280" cy="769" r="3.2"/><circle cx="290" cy="771" r="3.4"/><circle cx="343" cy="816" r="3.5"/><circle cx="346" cy="808" r="3.5"/><circle cx="249" cy="890" r="3.9"/><circle cx="307" cy="811" r="3.2"/><circle cx="239" cy="821" r="2.8"/><circle cx="269" cy="784" r="4.4"/><circle cx="275" cy="829" r="2.9"/><circle cx="227" cy="844" r="3.6"/><circle cx="330" cy="857" r="3.9"/><circle cx="355" cy="808" r="3.2"/><circle cx="324" cy="855" r="2.6"/><circle cx="305" cy="871" r="4.1"/><circle cx="208" cy="833" r="3.5"/><circle cx="318" cy="778" r="2.6"/><circle cx="291" cy="852" r="3.8"/><circle cx="316" cy="826" r="2.5"/><circle cx="280" cy="835" r="3.8"/><circle cx="233" cy="871" r="2.9"/><circle cx="279" cy="806" r="3.5"/><circle cx="316" cy="878" r="3.7"/><circle cx="308" cy="750" r="2.8"/><circle cx="231" cy="873" r="3.1"/><circle cx="314" cy="864" r="3.9"/><circle cx="238" cy="831" r="3.4"/><circle cx="358" cy="772" r="4.5"/><circle cx="272" cy="887" r="4.4"/><circle cx="270" cy="785" r="2.9"/><circle cx="296" cy="762" r="3.5"/><circle cx="270" cy="791" r="2.8"/><circle cx="330" cy="891" r="2.7"/><circle cx="360" cy="789" r="3.2"/><circle cx="298" cy="802" r="3.4"/><circle cx="282" cy="771" r="3.2"/><circle cx="290" cy="869" r="2.6"/><circle cx="326" cy="819" r="4.0"/><circle cx="308" cy="789" r="2.6"/><circle cx="274" cy="799" r="3.1"/><circle cx="232" cy="857" r="3.1"/><circle cx="291" cy="809" r="2.8"/><circle cx="232" cy="841" r="4.3"/><circle cx="329" cy="812" r="3.3"/><circle cx="285" cy="805" r="3.2"/><circle cx="280" cy="852" r="4.2"/><circle cx="269" cy="912" r="4.2"/><circle cx="258" cy="907" r="4.2"/><circle cx="211" cy="832" r="3.9"/><circle cx="309" cy="877" r="3.4"/><circle cx="336" cy="779" r="4.3"/><circle cx="309" cy="792" r="2.8"/><circle cx="231" cy="853" r="3.9"/><circle cx="285" cy="843" r="3.3"/><circle cx="225" cy="847" r="2.5"/><circle cx="240" cy="821" r="4.4"/><circle cx="309" cy="899" r="3.5"/><circle cx="279" cy="860" r="3.3"/><circle cx="232" cy="859" r="4.4"/><circle cx="248" cy="813" r="3.9"/><circle cx="220" cy="883" r="4.0"/><circle cx="281" cy="774" r="4.4"/><circle cx="242" cy="887" r="3.0"/><circle cx="224" cy="876" r="3.1"/><circle cx="263" cy="859" r="4.4"/><circle cx="366" cy="797" r="2.9"/><circle cx="256" cy="805" r="3.2"/><circle cx="251" cy="888" r="4.1"/><circle cx="275" cy="805" r="4.3"/><circle cx="262" cy="886" r="4.0"/><circle cx="232" cy="874" r="4.3"/><circle cx="233" cy="868" r="3.1"/><circle cx="275" cy="913" r="4.4"/><circle cx="266" cy="827" r="4.4"/><circle cx="327" cy="888" r="4.0"/><circle cx="301" cy="796" r="3.1"/><circle cx="252" cy="880" r="2.7"/><circle cx="220" cy="875" r="3.0"/><circle cx="290" cy="796" r="4.5"/><circle cx="200" cy="828" r="3.9"/><circle cx="263" cy="850" r="3.8"/><circle cx="329" cy="892" r="3.8"/><circle cx="239" cy="841" r="3.2"/><circle cx="327" cy="772" r="3.0"/><circle cx="226" cy="885" r="3.8"/><circle cx="275" cy="887" r="4.2"/><circle cx="296" cy="908" r="3.2"/><circle cx="353" cy="819" r="3.0"/><circle cx="202" cy="846" r="3.7"/><circle cx="231" cy="847" r="3.8"/><circle cx="245" cy="861" r="2.9"/><circle cx="259" cy="837" r="3.8"/><circle cx="319" cy="811" r="3.1"/><circle cx="243" cy="840" r="3.2"/><circle cx="263" cy="896" r="4.5"/><circle cx="325" cy="773" r="2.5"/><circle cx="360" cy="814" r="4.1"/><circle cx="261" cy="899" r="3.4"/><circle cx="290" cy="854" r="4.3"/><circle cx="198" cy="851" r="3.2"/><circle cx="237" cy="832" r="4.4"/><circle cx="202" cy="826" r="4.1"/><circle cx="258" cy="903" r="3.7"/><circle cx="344" cy="765" r="4.1"/><circle cx="260" cy="831" r="3.3"/><circle cx="189" cy="840" r="4.0"/><circle cx="204" cy="847" r="3.6"/><circle cx="305" cy="792" r="3.3"/><circle cx="296" cy="814" r="3.8"/><circle cx="269" cy="817" r="2.5"/><circle cx="303" cy="826" r="3.0"/><circle cx="332" cy="880" r="3.4"/><circle cx="216" cy="823" r="2.7"/><circle cx="307" cy="751" r="4.0"/><circle cx="191" cy="829" r="3.3"/><circle cx="326" cy="886" r="2.9"/><circle cx="250" cy="876" r="2.8"/><circle cx="359" cy="787" r="4.1"/><circle cx="209" cy="829" r="4.3"/><circle cx="281" cy="795" r="2.6"/><circle cx="358" cy="767" r="4.1"/><circle cx="203" cy="834" r="3.8"/><circle cx="252" cy="897" r="3.6"/><circle cx="296" cy="899" r="2.7"/><circle cx="259" cy="883" r="3.0"/><circle cx="252" cy="877" r="3.4"/><circle cx="216" cy="873" r="2.6"/><circle cx="343" cy="783" r="3.8"/><circle cx="312" cy="793" r="2.5"/><circle cx="303" cy="816" r="3.5"/><circle cx="226" cy="856" r="2.5"/><circle cx="225" cy="844" r="3.7"/><circle cx="221" cy="851" r="3.4"/><circle cx="200" cy="854" r="4.2"/><circle cx="336" cy="810" r="3.0"/><circle cx="292" cy="800" r="3.8"/><circle cx="269" cy="909" r="4.0"/><circle cx="189" cy="834" r="3.3"/><circle cx="290" cy="910" r="2.8"/><circle cx="220" cy="848" r="3.5"/><circle cx="308" cy="886" r="2.8"/><circle cx="336" cy="868" r="2.5"/><circle cx="273" cy="873" r="3.4"/><circle cx="247" cy="874" r="3.9"/><circle cx="233" cy="838" r="3.4"/><circle cx="233" cy="854" r="4.4"/><circle cx="227" cy="873" r="4.4"/><circle cx="329" cy="796" r="4.3"/><circle cx="318" cy="859" r="4.5"/><circle cx="274" cy="891" r="3.9"/><circle cx="351" cy="817" r="3.9"/><circle cx="294" cy="793" r="2.9"/><circle cx="304" cy="750" r="4.3"/><circle cx="318" cy="853" r="3.9"/><circle cx="327" cy="748" r="3.7"/><circle cx="253" cy="887" r="4.1"/><circle cx="323" cy="804" r="3.1"/><circle cx="267" cy="879" r="3.2"/><circle cx="320" cy="835" r="2.9"/><circle cx="343" cy="767" r="2.5"/><circle cx="221" cy="877" r="4.5"/><circle cx="278" cy="883" r="2.9"/><circle cx="279" cy="800" r="4.2"/><circle cx="319" cy="828" r="2.7"/><circle cx="307" cy="751" r="4.1"/><circle cx="319" cy="881" r="3.8"/><circle cx="251" cy="810" r="3.3"/><circle cx="256" cy="899" r="3.0"/><circle cx="272" cy="834" r="4.0"/><circle cx="330" cy="855" r="3.2"/><circle cx="328" cy="767" r="3.4"/><circle cx="206" cy="821" r="4.3"/><circle cx="240" cy="866" r="4.2"/><circle cx="284" cy="765" r="3.2"/><circle cx="325" cy="754" r="4.4"/><circle cx="219" cy="854" r="2.7"/><circle cx="280" cy="853" r="3.4"/><circle cx="209" cy="847" r="3.3"/><circle cx="266" cy="842" r="4.0"/><circle cx="324" cy="899" r="4.0"/><circle cx="320" cy="893" r="3.9"/><circle cx="308" cy="820" r="3.1"/><circle cx="305" cy="754" r="3.3"/><circle cx="336" cy="868" r="3.8"/><circle cx="271" cy="851" r="3.3"/><circle cx="217" cy="857" r="4.1"/><circle cx="258" cy="826" r="4.4"/><circle cx="188" cy="836" r="2.8"/><circle cx="295" cy="836" r="3.9"/></g><polygon points="546,727 605,709 713,731 695,853 727,903 672,921 582,930 569,885 555,785" fill="#c4c4c4" fill-opacity="0.45"/><g fill="#606060" fill-opacity="0.5"><circle cx="639" cy="850" r="4.2"/><circle cx="640" cy="799" r="4.4"/><circle cx="584" cy="860" r="3.3"/><circle cx="684" cy="736" r="4.5"/><circle cx="610" cy="721" r="3.0"/><circle cx="618" cy="712" r="3.3"/><circle cx="622" cy="863" r="3.2"/><circle cx="594" cy="758" r="4.0"/><circle cx="586" cy="886" r="3.3"/><circle cx="584" cy="737" r="4.1"/><circle cx="692" cy="849" r="3.4"/><circle cx="648" cy="759" r="4.4"/><circle cx="610" cy="850" r="4.1"/><circle cx="693" cy="812" r="3.1"/><circle cx="645" cy="736" r="4.2"/><circle cx="610" cy="897" r="3.0"/><circle cx="614" cy="765" r="3.4"/><circle cx="676" cy="771" r="3.0"/><circle cx="601" cy="815" r="3.4"/><circle cx="661" cy="854" r="3.2"/><circle cx="714" cy="898" r="2.6"/><circle cx="696" cy="909" r="4.1"/><circle cx="571" cy="892" r="3.8"/><circle cx="591" cy="731" r="2.8"/><circle cx="588" cy="880" r="3.2"/><circle cx="689" cy="746" r="4.3"/><circle cx="656" cy="881" r="3.8"/><circle cx="707" cy="883" r="4.2"/><circle cx="582" cy="862" r="3.6"/><circle cx="680" cy="806" r="4.3"/><circle cx="646" cy="767" r="3.0"/><circle cx="571" cy="818" r="2.6"/><circle cx="630" cy="741" r="3.5"/><circle cx="636" cy="828" r="4.2"/><circle cx="631" cy="833" r="3.8"/><circle cx="698" cy="792" r="3.3"/><circle cx="661" cy="849" r="2.6"/><circle cx="656" cy="860" r="4.4"/><circle cx="606" cy="926" r="3.5"/><circle cx="634" cy="907" r="2.6"/><circle cx="676" cy="847" r="3.2"/><circle cx="702" cy="790" r="3.4"/><circle cx="641" cy="879" r="2.9"/><circle cx="625" cy="802" r="3.6"/><circle cx="695" cy="773" r="4.2"/><circle cx="619" cy="820" r="3.0"/><circle cx="638" cy="924" r="3.8"/><circle cx="689" cy="782" r="3.1"/><circle cx="600" cy="838" r="3.8"/><circle cx="677" cy="904" r="3.6"/><circle cx="555" cy="775" r="2.5"/><circle cx="580" cy="912" r="3.7"/><circle cx="665" cy="883" r="4.3"/><circle cx="657" cy="845" r="3.8"/><circle cx="672" cy="840" r="3.9"/><circle cx="584" cy="856" r="3.4"/><circle cx="684" cy="731" r="2.9"/><circle cx="613" cy="890" r="4.1"/><circle cx="648" cy="766" r="3.1"/><circle cx="622" cy="779" r="3.4"/><circle cx="662" cy="915" r="2.6"/><circle cx="650" cy="912" r="3.4"/><circle cx="653" cy="916" r="4.5"/><circle cx="632" cy="800" r="2.7"/><circle cx="662" cy="756" r="2.8"/><circle cx="670" cy="736" r="4.4"/><circle cx="676" cy="762" r="4.0"/><circle cx="580" cy="720" r="4.0"/><circle cx="675" cy="898" r="4.0"/><circle cx="674" cy="810" r="4.4"/><circle cx="592" cy="922" r="3.9"/><circle cx="664" cy="889" r="2.7"/><circle cx="602" cy="870" r="2.8"/><circle cx="557" cy="790" r="3.6"/><circle cx="625" cy="858" r="2.8"/><circle cx="690" cy="789" r="3.8"/><circle cx="660" cy="801" r="3.3"/><circle cx="688" cy="834" r="3.1"/><circle cx="673" cy="892" r="3.2"/><circle cx="696" cy="842" r="3.1"/><circle cx="623" cy="905" r="3.3"/><circle cx="670" cy="842" r="4.3"/><circle cx="692" cy="771" r="2.5"/><circle cx="594" cy="802" r="3.7"/><circle cx="693" cy="905" r="2.6"/><circle cx="696" cy="888" r="4.2"/><circle cx="649" cy="769" r="4.2"/><circle cx="692" cy="860" r="4.3"/><circle cx="609" cy="727" r="3.6"/><circle cx="690" cy="753" r="4.0"/><circle cx="656" cy="858" r="3.4"/><circle cx="583" cy="765" r="4.0"/><circle cx="689" cy="810" r="2.7"/><circle cx="692" cy="879" r="3.0"/><circle cx="651" cy="907" r="4.3"/><circle cx="640" cy="814" r="3.7"/><circle cx="580" cy="751" r="2.9"/><circle cx="673" cy="789" r="3.6"/><circle cx="619" cy="823" r="2.8"/><circle cx="614" cy="732" r="3.8"/><circle cx="688" cy="743" r="3.7"/><circle cx="608" cy="823" r="2.5"/><circle cx="648" cy="766" r="4.1"/><circle cx="623" cy="918" r="4.0"/><circle cx="592" cy="717" r="2.9"/><circle cx="579" cy="727" r="2.6"/><circle cx="647" cy="901" r="3.4"/><circle cx="618" cy="735" r="4.4"/><circle cx="593" cy="833" r="3.8"/><circle cx="617" cy="808" r="2.8"/><circle cx="586" cy="717" r="3.0"/><circle cx="610" cy="908" r="4.3"/><circle cx="688" cy="865" r="3.8"/><circle cx="572" cy="876" r="4.4"/><circle cx="668" cy="775" r="3.7"/><circle cx="683" cy="732" r="3.1"/><circle cx="592" cy="736" r="3.5"/><circle cx="577" cy="761" r="2.8"/><circle cx="676" cy="752" r="2.6"/><circle cx="715" cy="900" r="4.3"/><circle cx="571" cy="807" r="2.7"/><circle cx="714" cy="895" r="3.8"/><circle cx="628" cy="784" r="4.1"/><circle cx="632" cy="847" r="2.8"/><circle cx="586" cy="721" r="3.9"/><circle cx="646" cy="741" r="4.2"/><circle cx="594" cy="800" r="2.8"/><circle cx="595" cy="894" r="3.2"/><circle cx="576" cy="817" r="3.1"/><circle cx="709" cy="734" r="4.5"/><circle cx="667" cy="755" r="3.5"/><circle cx="598" cy="766" r="2.9"/><circle cx="564" cy="773" r="4.3"/><circle cx="599" cy="925" r="2.5"/><circle cx="692" cy="784" r="2.8"/><circle cx="641" cy="750" r="3.4"/><circle cx="649" cy="739" r="2.9"/><circle cx="685" cy="866" r="2.9"/><circle cx="560" cy="728" r="3.7"/><circle cx="636" cy="769" r="2.9"/><circle cx="657" cy="865" r="4.1"/><circle cx="651" cy="753" r="2.6"/><circle cx="678" cy="799" r="3.9"/><circle cx="607" cy="895" r="4.2"/><circle cx="703" cy="767" r="2.9"/><circle cx="696" cy="790" r="2.8"/><circle cx="613" cy="840" r="2.5"/><circle cx="640" cy="807" r="3.5"/><circle cx="568" cy="867" r="4.1"/><circle cx="702" cy="780" r="3.9"/><circle cx="615" cy="875" r="2.6"/><circle cx="635" cy="822" r="3.6"/><circle cx="579" cy="731" r="3.0"/><circle cx="654" cy="836" r="3.5"/><circle cx="673" cy="731" r="4.2"/><circle cx="568" cy="818" r="3.5"/><circle cx="597" cy="736" r="3.3"/><circle cx="571" cy="839" r="4.2"/><circle cx="573" cy="835" r="4.0"/><circle cx="576" cy="891" r="4.4"/><circle cx="616" cy="802" r="4.2"/><circle cx="641" cy="796" r="4.4"/><circle cx="686" cy="783" r="3.0"/><circle cx="607" cy="805" r="4.5"/><circle cx="691" cy="910" r="4.1"/><circle cx="639" cy="920" r="4.4"/><circle cx="591" cy="802" r="3.8"/><circle cx="612" cy="826" r="2.6"/><circle cx="624" cy="820" r="2.5"/><circle cx="686" cy="916" r="3.8"/><circle cx="692" cy="904" r="4.3"/><circle cx="594" cy="859" r="3.0"/><circle cx="644" cy="913" r="3.7"/><circle cx="591" cy="824" r="3.4"/><circle cx="601" cy="852" r="2.7"/><circle cx="653" cy="920" r="3.5"/><circle cx="595" cy="812" r="3.6"/><circle cx="573" cy="736" r="2.8"/><circle cx="599" cy="798" r="3.1"/><circle cx="590" cy="728" r="3.6"/><circle cx="649" cy="852" r="2.9"/><circle cx="674" cy="811" r="3.6"/><circle cx="657" cy="812" r="3.1"/><circle cx="590" cy="758" r="3.5"/><circle cx="615" cy="838" r="2.5"/><circle cx="610" cy="899" r="3.0"/><circle cx="647" cy="817" r="3.1"/><circle cx="685" cy="744" r="2.6"/><circle cx="557" cy="794" r="3.4"/><circle cx="679" cy="733" r="3.0"/><circle cx="574" cy="783" r="3.2"/><circle cx="668" cy="845" r="4.2"/><circle cx="694" cy="823" r="4.0"/><circle cx="680" cy="877" r="3.5"/><circle cx="688" cy="865" r="4.3"/><circle cx="652" cy="819" r="4.4"/><circle cx="649" cy="801" r="4.1"/><circle cx="615" cy="809" r="3.4"/><circle cx="677" cy="773" r="3.3"/><circle cx="646" cy="794" r="3.1"/><circle cx="688" cy="896" r="3.5"/><circle cx="626" cy="749" r="3.1"/><circle cx="572" cy="836" r="3.7"/><circle cx="605" cy="895" r="4.2"/><circle cx="623" cy="910" r="2.5"/><circle cx="636" cy="912" r="4.0"/><circle cx="639" cy="823" r="3.9"/><circle cx="616" cy="788" r="3.7"/><circle cx="609" cy="918" r="3.9"/><circle cx="641" cy="730" r="3.2"/><circle cx="618" cy="833" r="3.6"/><circle cx="634" cy="806" r="3.7"/><circle cx="642" cy="889" r="2.8"/><circle cx="604" cy="925" r="4.2"/><circle cx="639" cy="733" r="4.3"/><circle cx="671" cy="890" r="4.5"/><circle cx="574" cy="773" r="3.5"/><circle cx="637" cy="750" r="2.9"/><circle cx="660" cy="842" r="3.2"/><circle cx="688" cy="776" r="3.9"/><circle cx="667" cy="752" r="3.5"/><circle cx="646" cy="767" r="3.8"/><circle cx="650" cy="799" r="2.7"/><circle cx="574" cy="877" r="2.7"/><circle cx="564" cy="746" r="3.5"/><circle cx="695" cy="844" r="4.1"/><circle cx="685" cy="780" r="3.9"/><circle cx="610" cy="746" r="3.0"/><circle cx="651" cy="786" r="3.4"/><circle cx="616" cy="721" r="4.3"/><circle cx="651" cy="921" r="3.4"/><circle cx="658" cy="764" r="2.6"/><circle cx="714" cy="898" r="3.1"/><circle cx="708" cy="889" r="3.1"/><circle cx="655" cy="921" r="3.5"/><circle cx="616" cy="867" r="2.9"/><circle cx="602" cy="902" r="3.5"/><circle cx="689" cy="762" r="2.8"/><circle cx="611" cy="750" r="4.4"/><circle cx="599" cy="833" r="2.7"/><circle cx="642" cy="794" r="3.3"/><circle cx="558" cy="736" r="4.2"/><circle cx="610" cy="763" r="2.9"/><circle cx="597" cy="761" r="2.6"/><circle cx="666" cy="784" r="2.8"/><circle cx="674" cy="729" r="3.0"/><circle cx="697" cy="737" r="3.4"/><circle cx="697" cy="887" r="2.8"/><circle cx="610" cy="868" r="3.3"/><circle cx="587" cy="809" r="2.8"/><circle cx="674" cy="766" r="4.3"/><circle cx="652" cy="790" r="3.0"/><circle cx="656" cy="756" r="4.2"/><circle cx="568" cy="822" r="3.6"/><circle cx="595" cy="879" r="3.3"/><circle cx="665" cy="834" r="3.1"/><circle cx="616" cy="728" r="2.9"/><circle cx="700" cy="780" r="3.8"/><circle cx="566" cy="833" r="3.2"/><circle cx="636" cy="774" r="2.6"/><circle cx="602" cy="759" r="2.8"/><circle cx="675" cy="771" r="3.3"/><circle cx="710" cy="880" r="4.3"/><circle cx="702" cy="738" r="3.1"/><circle cx="666" cy="786" r="3.3"/><circle cx="665" cy="863" r="3.0"/><circle cx="699" cy="786" r="3.8"/><circle cx="579" cy="734" r="4.3"/><circle cx="679" cy="866" r="2.6"/><circle cx="553" cy="744" r="2.9"/><circle cx="601" cy="793" r="2.6"/><circle cx="602" cy="850" r="2.9"/><circle cx="698" cy="835" r="3.9"/><circle cx="592" cy="805" r="3.9"/><circle cx="697" cy="880" r="3.1"/><circle cx="590" cy="733" r="4.1"/><circle cx="584" cy="911" r="4.0"/><circle cx="617" cy="874" r="4.2"/><circle cx="597" cy="728" r="4.4"/><circle cx="623" cy="914" r="3.9"/><circle cx="679" cy="892" r="3.8"/><circle cx="628" cy="721" r="3.9"/><circle cx="623" cy="822" r="4.4"/><circle cx="569" cy="877" r="2.6"/><circle cx="673" cy="887" r="3.0"/><circle cx="645" cy="923" r="3.8"/><circle cx="644" cy="764" r="2.6"/><circle cx="611" cy="800" r="2.9"/><circle cx="602" cy="739" r="3.9"/><circle cx="667" cy="761" r="3.0"/><circle cx="639" cy="807" r="4.4"/><circle cx="610" cy="775" r="4.3"/><circle cx="572" cy="833" r="3.2"/><circle cx="693" cy="830" r="4.0"/><circle cx="577" cy="856" r="3.7"/><circle cx="629" cy="878" r="4.2"/><circle cx="567" cy="773" r="3.2"/><circle cx="583" cy="722" r="3.1"/><circle cx="582" cy="864" r="3.4"/><circle cx="566" cy="780" r="3.4"/><circle cx="612" cy="746" r="2.6"/><circle cx="682" cy="727" r="3.9"/><circle cx="566" cy="817" r="3.4"/><circle cx="580" cy="829" r="2.5"/><circle cx="659" cy="915" r="3.8"/><circle cx="591" cy="763" r="2.8"/><circle cx="698" cy="774" r="2.9"/><circle cx="661" cy="896" r="4.4"/><circle cx="577" cy="882" r="4.2"/><circle cx="680" cy="781" r="2.9"/><circle cx="695" cy="779" r="3.2"/><circle cx="646" cy="790" r="4.2"/><circle cx="589" cy="718" r="3.6"/><circle cx="659" cy="890" r="3.9"/><circle cx="635" cy="819" r="2.8"/><circle cx="600" cy="837" r="2.7"/><circle cx="670" cy="745" r="3.4"/><circle cx="581" cy="868" r="2.5"/><circle cx="698" cy="898" r="4.1"/><circle cx="623" cy="771" r="3.8"/><circle cx="639" cy="802" r="3.2"/><circle cx="625" cy="856" r="4.2"/><circle cx="709" cy="745" r="3.1"/><circle cx="626" cy="833" r="3.2"/><circle cx="581" cy="727" r="3.1"/><circle cx="629" cy="923" r="4.3"/><circle cx="668" cy="843" r="3.1"/><circle cx="649" cy="919" r="3.5"/><circle cx="663" cy="775" r="3.2"/><circle cx="580" cy="859" r="3.4"/><circle cx="613" cy="837" r="3.3"/><circle cx="642" cy="833" r="3.3"/><circle cx="567" cy="749" r="4.3"/><circle cx="645" cy="733" r="4.2"/><circle cx="592" cy="730" r="3.6"/><circle cx="592" cy="817" r="3.6"/><circle cx="587" cy="835" r="2.7"/><circle cx="639" cy="839" r="2.7"/><circle cx="620" cy="725" r="3.4"/><circle cx="675" cy="876" r="2.7"/><circle cx="617" cy="746" r="4.4"/><circle cx="648" cy="880" r="2.8"/><circle cx="589" cy="791" r="2.5"/><circle cx="653" cy="756" r="3.1"/><circle cx="674" cy="803" r="4.3"/><circle cx="658" cy="901" r="3.6"/><circle cx="712" cy="901" r="2.8"/><circle cx="681" cy="784" r="4.0"/><circle cx="669" cy="891" r="2.7"/><circle cx="613" cy="872" r="4.4"/><circle cx="655" cy="731" r="3.6"/><circle cx="691" cy="734" r="4.4"/><circle cx="668" cy="765" r="2.9"/><circle cx="627" cy="894" r="3.7"/><circle cx="580" cy="831" r="3.1"/><circle cx="670" cy="793" r="2.8"/><circle cx="671" cy="887" r="4.4"/><circle cx="573" cy="820" r="4.2"/><circle cx="579" cy="890" r="3.9"/><circle cx="617" cy="814" r="2.8"/><circle cx="699" cy="796" r="4.2"/><circle cx="656" cy="725" r="3.2"/><circle cx="585" cy="906" r="3.7"/><circle cx="554" cy="746" r="3.2"/><circle cx="631" cy="836" r="3.3"/><circle cx="610" cy="710" r="3.7"/><circle cx="606" cy="713" r="3.4"/><circle cx="572" cy="857" r="3.0"/><circle cx="595" cy="819" r="3.0"/><circle cx="649" cy="825" r="4.4"/><circle cx="647" cy="879" r="4.2"/><circle cx="686" cy="849" r="3.8"/><circle cx="612" cy="771" r="4.1"/><circle cx="669" cy="776" r="4.0"/><circle cx="680" cy="821" r="3.8"/><circle cx="609" cy="830" r="3.3"/><circle cx="557" cy="783" r="3.1"/><circle cx="612" cy="762" r="3.0"/><circle cx="609" cy="739" r="2.5"/><circle cx="627" cy="834" r="3.1"/><circle cx="577" cy="723" r="3.1"/><circle cx="602" cy="869" r="3.6"/><circle cx="561" cy="748" r="3.7"/><circle cx="686" cy="803" r="4.2"/><circle cx="593" cy="714" r="2.8"/><circle cx="594" cy="864" r="2.9"/><circle cx="618" cy="753" r="3.7"/><circle cx="582" cy="871" r="4.4"/><circle cx="655" cy="726" r="4.1"/><circle cx="704" cy="784" r="2.8"/><circle cx="580" cy="827" r="4.3"/><circle cx="662" cy="913" r="2.9"/><circle cx="605" cy="874" r="3.8"/><circle cx="619" cy="859" r="3.2"/><circle cx="606" cy="818" r="3.7"/><circle cx="592" cy="811" r="2.5"/><circle cx="657" cy="869" r="3.2"/><circle cx="563" cy="743" r="2.8"/><circle cx="685" cy="728" r="4.1"/><circle cx="622" cy="828" r="3.7"/><circle cx="646" cy="854" r="3.7"/><circle cx="606" cy="872" r="3.0"/><circle cx="675" cy="877" r="4.1"/><circle cx="602" cy="879" r="4.5"/><circle cx="628" cy="770" r="3.5"/><circle cx="664" cy="880" r="3.2"/><circle cx="683" cy="728" r="2.6"/><circle cx="570" cy="722" r="3.5"/><circle cx="646" cy="749" r="4.4"/><circle cx="612" cy="742" r="2.9"/><circle cx="679" cy="912" r="2.8"/><circle cx="590" cy="926" r="3.5"/><circle cx="661" cy="785" r="4.1"/><circle cx="629" cy="780" r="4.3"/><circle cx="619" cy="900" r="2.6"/><circle cx="648" cy="799" r="4.3"/><circle cx="587" cy="764" r="3.0"/><circle cx="624" cy="760" r="2.9"/><circle cx="683" cy="851" r="3.1"/><circle cx="649" cy="743" r="4.2"/></g><polygon points="205,1061 271,1024 289,1029 298,1115 356,1110 370,1146 325,1246 244,1241 226,1169" fill="#c4c4c4" fill-opacity="0.45"/><g fill="#606060" fill-opacity="0.5"><circle cx="329" cy="1206" r="3.1"/><circle cx="260" cy="1132" r="4.3"/><circle cx="232" cy="1175" r="3.7"/><circle cx="280" cy="1153" r="4.3"/><circle cx="240" cy="1220" r="3.2"/><circle cx="334" cy="1215" r="2.9"/><circle cx="221" cy="1062" r="3.9"/><circle cx="220" cy="1100" r="4.3"/><circle cx="323" cy="1219" r="4.5"/><circle cx="211" cy="1076" r="4.1"/><circle cx="288" cy="1076" r="3.4"/><circle cx="286" cy="1055" r="3.4"/><circle cx="235" cy="1176" r="2.8"/><circle cx="327" cy="1135" r="2.7"/><circle cx="264" cy="1134" r="4.3"/><circle cx="263" cy="1072" r="4.4"/><circle cx="351" cy="1186" r="3.0"/><circle cx="234" cy="1083" r="2.6"/><circle cx="273" cy="1148" r="3.2"/><circle cx="313" cy="1145" r="3.6"/><circle cx="319" cy="1242" r="4.2"/><circle cx="324" cy="1113" r="3.1"/><circle cx="274" cy="1240" r="3.3"/><circle cx="269" cy="1115" r="2.8"/><circle cx="305" cy="1229" r="3.0"/><circle cx="245" cy="1068" r="2.7"/><circle cx="344" cy="1198" r="4.3"/><circle cx="259" cy="1167" r="3.6"/><circle cx="257" cy="1239" r="2.5"/><circle cx="328" cy="1213" r="3.5"/><circle cx="244" cy="1164" r="4.0"/><circle cx="268" cy="1182" r="3.3"/><circle cx="292" cy="1160" r="3.9"/><circle cx="258" cy="1164" r="3.6"/><circle cx="242" cy="1160" r="3.0"/><circle cx="355" cy="1129" r="3.9"/><circle cx="291" cy="1130" r="2.9"/><circle cx="292" cy="1140" r="3.6"/><circle cx="281" cy="1166" r="4.2"/><circle cx="342" cy="1205" r="2.7"/><circle cx="231" cy="1080" r="2.7"/><circle cx="264" cy="1202" r="3.5"/><circle cx="280" cy="1044" r="3.3"/><circle cx="279" cy="1130" r="4.1"/><circle cx="291" cy="1077" r="3.2"/><circle cx="261" cy="1109" r="2.5"/><circle cx="238" cy="1151" r="2.6"/><circle cx="235" cy="1183" r="3.0"/><circle cx="259" cy="1078" r="4.2"/><circle cx="275" cy="1200" r="3.7"/><circle cx="267" cy="1034" r="3.4"/><circle cx="266" cy="1182" r="3.1"/><circle cx="272" cy="1168" r="4.1"/><circle cx="263" cy="1110" r="3.7"/><circle cx="267" cy="1172" r="3.2"/><circle cx="268" cy="1141" r="3.5"/><circle cx="281" cy="1127" r="4.2"/><circle cx="274" cy="1129" r="4.3"/><circle cx="278" cy="1133" r="3.5"/><circle cx="341" cy="1173" r="4.0"/><circle cx="271" cy="1033" r="3.9"/><circle cx="297" cy="1195" r="4.0"/><circle cx="225" cy="1073" r="2.7"/><circle cx="317" cy="1182" r="3.5"/><circle cx="274" cy="1154" r="4.5"/><circle cx="229" cy="1098" r="3.5"/><circle cx="251" cy="1083" r="3.1"/><circle cx="247" cy="1214" r="3.6"/><circle cx="289" cy="1117" r="2.6"/><circle cx="255" cy="1216" r="4.1"/><circle cx="294" cy="1107" r="3.4"/><circle cx="286" cy="1154" r="3.2"/><circle cx="357" cy="1147" r="2.6"/><circle cx="257" cy="1142" r="3.3"/><circle cx="250" cy="1201" r="3.1"/><circle cx="322" cy="1202" r="3.7"/><circle cx="280" cy="1231" r="3.4"/><circle cx="277" cy="1166" r="2.6"/><circle cx="357" cy="1149" r="4.1"/><circle cx="287" cy="1173" r="3.8"/><circle cx="254" cy="1071" r="4.2"/><circle cx="239" cy="1047" r="2.7"/><circle cx="274" cy="1170" r="3.0"/><circle cx="354" cy="1176" r="2.8"/><circle cx="254" cy="1076" r="3.7"/><circle cx="258" cy="1148" r="2.8"/><circle cx="270" cy="1032" r="3.3"/><circle cx="282" cy="1186" r="3.4"/><circle cx="360" cy="1141" r="3.1"/><circle cx="263" cy="1190" r="3.5"/><circle cx="285" cy="1216" r="3.7"/><circle cx="228" cy="1084" r="4.3"/><circle cx="304" cy="1238" r="3.2"/><circle cx="214" cy="1098" r="3.4"/><circle cx="246" cy="1189" r="2.9"/><circle cx="335" cy="1156" r="3.4"/><circle cx="227" cy="1152" r="3.2"/><circle cx="267" cy="1171" r="2.8"/><circle cx="260" cy="1211" r="4.2"/><circle cx="284" cy="1057" r="2.7"/><circle cx="287" cy="1143" r="2.7"/><circle cx="282" cy="1061" r="3.6"/><circle cx="289" cy="1106" r="2.9"/><circle cx="272" cy="1069" r="2.8"/><circle cx="245" cy="1217" r="3.5"/><circle cx="361" cy="1132" r="4.1"/><circle cx="299" cy="1177" r="3.0"/><circle cx="270" cy="1139" r="3.1"/><circle cx="303" cy="1198" r="3.9"/><circle cx="216" cy="1079" r="3.7"/><circle cx="307" cy="1177" r="4.1"/><circle cx="262" cy="1204" r="3.4"/><circle cx="272" cy="1044" r="3.0"/><circle cx="326" cy="1175" r="2.8"/><circle cx="262" cy="1056" r="2.9"/><circle cx="241" cy="1098" r="4.5"/><circle cx="284" cy="1134" r="4.1"/><circle cx="308" cy="1211" r="4.1"/><circle cx="263" cy="1060" r="4.4"/><circle cx="316" cy="1189" r="2.8"/><circle cx="342" cy="1202" r="3.7"/><circle cx="277" cy="1207" r="4.1"/><circle cx="364" cy="1142" r="4.4"/><circle cx="238" cy="1126" r="3.0"/><circle cx="286" cy="1225" r="3.9"/><circle cx="334" cy="1200" r="3.9"/><circle cx="272" cy="1044" r="3.8"/><circle cx="303" cy="1209" r="4.1"/><circle cx="339" cy="1117" r="3.7"/><circle cx="281" cy="1099" r="2.9"/><circle cx="264" cy="1211" r="3.7"/><circle cx="253" cy="1044" r="3.0"/><circle cx="321" cy="1122" r="3.8"/><circle cx="250" cy="1236" r="3.2"/><circle cx="242" cy="1221" r="3.7"/><circle cx="353" cy="1112" r="3.5"/><circle cx="363" cy="1137" r="4.5"/><circle cx="237" cy="1208" r="2.8"/><circle cx="280" cy="1203" r="3.0"/><circle cx="263" cy="1047" r="3.6"/><circle cx="347" cy="1138" r="3.3"/><circle cx="308" cy="1123" r="4.4"/><circle cx="265" cy="1171" r="3.8"/><circle cx="267" cy="1140" r="3.9"/><circle cx="355" cy="1135" r="3.2"/><circle cx="343" cy="1176" r="3.6"/><circle cx="279" cy="1191" r="4.3"/><circle cx="325" cy="1190" r="2.6"/><circle cx="259" cy="1055" r="4.4"/><circle cx="302" cy="1152" r="2.6"/><circle cx="270" cy="1190" r="3.8"/><circle cx="252" cy="1193" r="3.1"/><circle cx="295" cy="1118" r="4.5"/><circle cx="312" cy="1202" r="3.9"/><circle cx="268" cy="1237" r="3.9"/><circle cx="232" cy="1152" r="4.2"/><circle cx="228" cy="1139" r="4.3"/><circle cx="232" cy="1188" r="2.8"/><circle cx="257" cy="1036" r="3.1"/><circle cx="268" cy="1238" r="4.4"/><circle cx="236" cy="1093" r="4.4"/><circle cx="238" cy="1095" r="3.4"/><circle cx="223" cy="1082" r="3.3"/><circle cx="269" cy="1238" r="3.0"/><circle cx="279" cy="1210" r="3.8"/><circle cx="283" cy="1148" r="3.8"/><circle cx="265" cy="1227" r="3.6"/><circle cx="253" cy="1164" r="3.0"/><circle cx="341" cy="1150" r="3.2"/><circle cx="245" cy="1040" r="3.6"/><circle cx="329" cy="1174" r="3.3"/><circle cx="256" cy="1167" r="4.4"/><circle cx="310" cy="1178" r="4.0"/><circle cx="270" cy="1232" r="4.0"/><circle cx="262" cy="1111" r="4.1"/><circle cx="263" cy="1066" r="4.2"/><circle cx="293" cy="1140" r="3.8"/><circle cx="261" cy="1039" r="3.3"/><circle cx="288" cy="1213" r="3.8"/><circle cx="344" cy="1199" r="4.2"/><circle cx="230" cy="1173" r="4.0"/><circle cx="288" cy="1223" r="4.3"/><circle cx="328" cy="1206" r="3.8"/><circle cx="321" cy="1180" r="3.7"/><circle cx="251" cy="1039" r="3.7"/><circle cx="240" cy="1074" r="2.7"/><circle cx="317" cy="1240" r="4.1"/><circle cx="265" cy="1179" r="2.6"/><circle cx="228" cy="1085" r="2.6"/><circle cx="279" cy="1147" r="4.1"/><circle cx="224" cy="1074" r="3.8"/><circle cx="261" cy="1098" r="3.6"/><circle cx="241" cy="1200" r="2.9"/><circle cx="344" cy="1203" r="3.6"/><circle cx="275" cy="1038" r="3.8"/><circle cx="325" cy="1154" r="3.3"/><circle cx="290" cy="1155" r="3.0"/><circle cx="227" cy="1125" r="3.9"/><circle cx="322" cy="1125" r="3.2"/><circle cx="237" cy="1114" r="3.1"/><circle cx="237" cy="1187" r="3.5"/><circle cx="278" cy="1068" r="3.9"/><circle cx="238" cy="1083" r="3.6"/><circle cx="321" cy="1240" r="4.0"/><circle cx="324" cy="1184" r="2.6"/><circle cx="348" cy="1184" r="3.8"/><circle cx="249" cy="1103" r="2.8"/><circle cx="309" cy="1244" r="3.1"/><circle cx="213" cy="1063" r="3.2"/><circle cx="280" cy="1047" r="2.7"/><circle cx="284" cy="1206" r="2.8"/><circle cx="223" cy="1149" r="3.5"/><circle cx="240" cy="1080" r="2.5"/><circle cx="277" cy="1186" r="3.3"/><circle cx="339" cy="1211" r="2.8"/><circle cx="207" cy="1072" r="3.7"/><circle cx="268" cy="1027" r="4.2"/><circle cx="335" cy="1127" r="2.6"/><circle cx="352" cy="1143" r="2.6"/><circle cx="259" cy="1163" r="4.3"/><circle cx="285" cy="1166" r="2.9"/><circle cx="245" cy="1225" r="3.3"/><circle cx="226" cy="1069" r="3.4"/><circle cx="302" cy="1165" r="3.9"/><circle cx="278" cy="1039" r="3.9"/><circle cx="271" cy="1173" r="3.9"/><circle cx="245" cy="1168" r="3.9"/><circle cx="283" cy="1056" r="4.3"/><circle cx="243" cy="1111" r="4.1"/><circle cx="341" cy="1165" r="4.0"/><circle cx="245" cy="1230" r="2.9"/><circle cx="316" cy="1230" r="3.8"/><circle cx="236" cy="1203" r="2.8"/><circle cx="290" cy="1048" r="4.1"/><circle cx="297" cy="1206" r="3.5"/><circle cx="307" cy="1156" r="4.1"/><circle cx="271" cy="1026" r="4.0"/><circle cx="339" cy="1126" r="2.7"/><circle cx="276" cy="1049" r="4.5"/><circle cx="295" cy="1102" r="2.7"/><circle cx="326" cy="1212" r="4.2"/><circle cx="222" cy="1106" r="3.1"/><circle cx="305" cy="1241" r="4.0"/><circle cx="304" cy="1139" r="3.4"/><circle cx="272" cy="1160" r="3.8"/><circle cx="343" cy="1183" r="2.6"/><circle cx="317" cy="1212" r="3.4"/><circle cx="361" cy="1122" r="3.9"/><circle cx="247" cy="1091" r="3.2"/><circle cx="259" cy="1045" r="3.4"/><circle cx="246" cy="1116" r="2.5"/><circle cx="243" cy="1220" r="4.3"/><circle cx="259" cy="1195" r="4.0"/><circle cx="294" cy="1238" r="2.8"/><circle cx="293" cy="1168" r="3.6"/><circle cx="356" cy="1177" r="4.4"/><circle cx="220" cy="1071" r="3.1"/><circle cx="248" cy="1183" r="4.5"/><circle cx="234" cy="1121" r="3.9"/><circle cx="319" cy="1189" r="4.0"/><circle cx="246" cy="1081" r="2.6"/><circle cx="248" cy="1238" r="3.8"/><circle cx="303" cy="1170" r="3.7"/><circle cx="229" cy="1049" r="3.5"/><circle cx="250" cy="1195" r="2.9"/><circle cx="222" cy="1092" r="3.3"/><circle cx="319" cy="1123" r="4.0"/><circle cx="262" cy="1209" r="2.6"/><circle cx="207" cy="1066" r="4.3"/><circle cx="231" cy="1170" r="3.7"/><circle cx="313" cy="1150" r="2.9"/><circle cx="266" cy="1140" r="2.7"/><circle cx="246" cy="1200" r="3.1"/><circle cx="268" cy="1194" r="2.9"/><circle cx="237" cy="1073" r="3.3"/><circle cx="265" cy="1166" r="3.4"/><circle cx="315" cy="1209" r="3.0"/><circle cx="224" cy="1126" r="3.9"/><circle cx="284" cy="1063" r="3.0"/><circle cx="278" cy="1051" r="2.6"/><circle cx="265" cy="1128" r="4.4"/><circle cx="242" cy="1189" r="3.6"/><circle cx="361" cy="1141" r="3.0"/><circle cx="240" cy="1043" r="3.0"/><circle cx="357" cy="1126" r="4.0"/><circle cx="218" cy="1125" r="3.1"/><circle cx="239" cy="1171" r="3.2"/><circle cx="285" cy="1064" r="2.5"/><circle cx="313" cy="1138" r="2.5"/><circle cx="283" cy="1188" r="3.6"/><circle cx="244" cy="1135" r="3.7"/><circle cx="327" cy="1214" r="3.2"/><circle cx="243" cy="1157" r="4.3"/><circle cx="219" cy="1072" r="2.6"/><circle cx="278" cy="1056" r="2.9"/><circle cx="329" cy="1153" r="4.4"/><circle cx="272" cy="1175" r="2.5"/><circle cx="284" cy="1138" r="4.4"/><circle cx="258" cy="1114" r="3.2"/><circle cx="267" cy="1060" r="4.2"/></g><polygon points="654,1074 652,1088 647,1101 637,1112 625,1121 611,1126 596,1128 581,1126 566,1121 554,1112 545,1101 539,1088 537,1074 539,1060 545,1047 554,1036 566,1027 581,1022 596,1020 611,1022 625,1027 637,1036 647,1047 652,1060" fill="#c4c4c4" fill-opacity="0.45"/><g fill="#606060" fill-opacity="0.5"><circle cx="567" cy="1069" r="3.6"/><circle cx="621" cy="1035" r="3.0"/><circle cx="598" cy="1083" r="4.3"/><circle cx="557" cy="1083" r="3.4"/><circle cx="585" cy="1116" r="3.8"/><circle cx="585" cy="1025" r="4.3"/><circle cx="571" cy="1051" r="4.4"/><circle cx="639" cy="1065" r="3.6"/><circle cx="637" cy="1107" r="3.8"/><circle cx="597" cy="1033" r="3.0"/><circle cx="614" cy="1083" r="4.1"/><circle cx="642" cy="1082" r="2.9"/><circle cx="618" cy="1048" r="3.0"/><circle cx="580" cy="1077" r="3.9"/><circle cx="546" cy="1100" r="3.7"/><circle cx="592" cy="1093" r="4.1"/><circle cx="538" cy="1071" r="3.9"/><circle cx="620" cy="1090" r="2.9"/><circle cx="564" cy="1067" r="4.4"/><circle cx="561" cy="1064" r="4.4"/><circle cx="643" cy="1045" r="4.0"/><circle cx="579" cy="1092" r="4.0"/><circle cx="552" cy="1044" r="2.9"/><circle cx="553" cy="1064" r="3.3"/><circle cx="546" cy="1083" r="4.4"/><circle cx="605" cy="1058" r="3.9"/><circle cx="588" cy="1039" r="3.5"/><circle cx="556" cy="1060" r="4.4"/><circle cx="627" cy="1110" r="3.8"/><circle cx="612" cy="1096" r="4.4"/><circle cx="560" cy="1103" r="3.1"/><circle cx="567" cy="1109" r="3.7"/><circle cx="606" cy="1041" r="2.5"/><circle cx="600" cy="1099" r="3.0"/><circle cx="557" cy="1095" r="2.5"/><circle cx="564" cy="1049" r="3.9"/><circle cx="576" cy="1077" r="3.1"/><circle cx="586" cy="1072" r="3.0"/><circle cx="610" cy="1095" r="3.0"/><circle cx="630" cy="1099" r="3.2"/><circle cx="595" cy="1040" r="4.4"/><circle cx="603" cy="1025" r="2.8"/><circle cx="618" cy="1062" r="3.9"/><circle cx="564" cy="1106" r="4.1"/><circle cx="548" cy="1083" r="2.9"/><circle cx="620" cy="1107" r="4.1"/><circle cx="564" cy="1030" r="3.8"/><circle cx="603" cy="1035" r="2.9"/><circle cx="605" cy="1032" r="3.8"/><circle cx="565" cy="1048" r="3.3"/><circle cx="600" cy="1098" r="2.6"/><circle cx="622" cy="1044" r="3.1"/><circle cx="612" cy="1095" r="3.7"/><circle cx="574" cy="1092" r="3.0"/><circle cx="555" cy="1044" r="4.0"/><circle cx="634" cy="1098" r="4.4"/><circle cx="630" cy="1053" r="3.1"/><circle cx="622" cy="1026" r="3.7"/><circle cx="597" cy="1036" r="4.4"/><circle cx="640" cy="1070" r="2.9"/><circle cx="551" cy="1075" r="3.5"/><circle cx="580" cy="1098" r="3.6"/><circle cx="628" cy="1031" r="2.6"/><circle cx="582" cy="1072" r="3.0"/><circle cx="615" cy="1044" r="3.1"/><circle cx="593" cy="1097" r="4.0"/><circle cx="581" cy="1068" r="4.4"/><circle cx="647" cy="1087" r="2.7"/><circle cx="591" cy="1089" r="3.1"/><circle cx="592" cy="1087" r="3.1"/><circle cx="545" cy="1101" r="4.0"/><circle cx="588" cy="1029" r="3.3"/><circle cx="627" cy="1035" r="2.7"/><circle cx="599" cy="1110" r="2.8"/><circle cx="557" cy="1103" r="3.4"/><circle cx="577" cy="1033" r="3.0"/><circle cx="567" cy="1100" r="4.3"/><circle cx="643" cy="1071" r="4.4"/><circle cx="608" cy="1051" r="3.4"/><circle cx="621" cy="1099" r="2.8"/><circle cx="577" cy="1047" r="3.0"/><circle cx="592" cy="1127" r="2.8"/><circle cx="637" cy="1055" r="2.8"/><circle cx="624" cy="1057" r="2.9"/><circle cx="586" cy="1109" r="4.2"/><circle cx="604" cy="1021" r="4.0"/><circle cx="608" cy="1117" r="4.4"/><circle cx="575" cy="1112" r="4.1"/><circle cx="568" cy="1060" r="3.2"/><circle cx="578" cy="1061" r="2.7"/><circle cx="564" cy="1118" r="3.3"/><circle cx="612" cy="1116" r="4.0"/><circle cx="566" cy="1120" r="4.1"/><circle cx="626" cy="1108" r="3.0"/><circle cx="614" cy="1061" r="4.2"/><circle cx="553" cy="1078" r="3.2"/><circle cx="633" cy="1057" r="4.2"/><circle cx="624" cy="1093" r="3.8"/><circle cx="601" cy="1069" r="3.2"/><circle cx="629" cy="1105" r="4.2"/><circle cx="562" cy="1057" r="3.0"/><circle cx="549" cy="1055" r="2.6"/><circle cx="631" cy="1045" r="2.6"/><circle cx="545" cy="1100" r="2.9"/><circle cx="591" cy="1063" r="4.1"/><circle cx="649" cy="1053" r="3.8"/><circle cx="642" cy="1071" r="4.3"/><circle cx="623" cy="1054" r="4.2"/><circle cx="604" cy="1031" r="3.7"/><circle cx="634" cy="1076" r="3.5"/><circle cx="586" cy="1115" r="3.8"/><circle cx="561" cy="1059" r="3.2"/><circle cx="541" cy="1084" r="3.4"/><circle cx="621" cy="1066" r="2.7"/><circle cx="598" cy="1109" r="4.1"/><circle cx="579" cy="1044" r="4.0"/><circle cx="631" cy="1044" r="4.3"/><circle cx="582" cy="1097" r="4.4"/><circle cx="561" cy="1053" r="3.2"/><circle cx="623" cy="1040" r="3.6"/><circle cx="596" cy="1092" r="2.8"/><circle cx="603" cy="1106" r="2.9"/><circle cx="644" cy="1080" r="4.0"/><circle cx="639" cy="1059" r="4.3"/><circle cx="596" cy="1117" r="4.3"/><circle cx="649" cy="1075" r="4.4"/><circle cx="603" cy="1035" r="3.8"/><circle cx="631" cy="1066" r="3.7"/><circle cx="567" cy="1050" r="3.3"/><circle cx="597" cy="1071" r="2.7"/><circle cx="621" cy="1101" r="3.0"/><circle cx="567" cy="1076" r="2.9"/><circle cx="608" cy="1118" r="2.9"/><circle cx="606" cy="1098" r="4.0"/><circle cx="621" cy="1097" r="3.0"/><circle cx="589" cy="1029" r="2.6"/><circle cx="631" cy="1093" r="2.8"/><circle cx="591" cy="1089" r="4.5"/><circle cx="576" cy="1103" r="3.0"/><circle cx="560" cy="1037" r="3.3"/><circle cx="610" cy="1053" r="2.8"/><circle cx="560" cy="1054" r="3.5"/><circle cx="559" cy="1072" r="3.4"/><circle cx="651" cy="1073" r="4.4"/><circle cx="592" cy="1041" r="3.7"/><circle cx="554" cy="1038" r="2.6"/><circle cx="584" cy="1058" r="3.4"/><circle cx="578" cy="1095" r="3.3"/><circle cx="637" cy="1099" r="3.2"/><circle cx="611" cy="1120" r="3.3"/><circle cx="588" cy="1052" r="3.6"/><circle cx="615" cy="1100" r="4.4"/><circle cx="554" cy="1060" r="4.2"/><circle cx="630" cy="1084" r="3.9"/><circle cx="577" cy="1122" r="3.6"/><circle cx="584" cy="1040" r="2.7"/><circle cx="593" cy="1074" r="3.2"/><circle cx="642" cy="1058" r="3.6"/><circle cx="646" cy="1089" r="3.5"/><circle cx="576" cy="1062" r="3.7"/><circle cx="629" cy="1048" r="3.2"/><circle cx="583" cy="1059" r="4.3"/><circle cx="600" cy="1050" r="3.2"/><circle cx="633" cy="1037" r="3.9"/><circle cx="554" cy="1045" r="2.6"/><circle cx="568" cy="1099" r="3.9"/><circle cx="602" cy="1120" r="2.7"/><circle cx="646" cy="1067" r="2.9"/><circle cx="625" cy="1113" r="3.3"/><circle cx="625" cy="1085" r="4.5"/></g><polygon points="726,1160 724,1170 717,1180 705,1189 690,1195 673,1199 654,1200 636,1199 618,1195 603,1189 592,1180 585,1170 582,1160 585,1149 592,1140 603,1131 618,1125 636,1121 654,1119 673,1121 690,1125 705,1131 717,1140 724,1149" fill="#c4c4c4" fill-opacity="0.45"/><g fill="#606060" fill-opacity="0.5"><circle cx="684" cy="1170" r="2.7"/><circle cx="606" cy="1134" r="3.7"/><circle cx="645" cy="1151" r="3.0"/><circle cx="608" cy="1134" r="2.8"/><circle cx="633" cy="1179" r="2.6"/><circle cx="659" cy="1175" r="2.6"/><circle cx="646" cy="1184" r="3.7"/><circle cx="647" cy="1191" r="3.7"/><circle cx="631" cy="1151" r="4.4"/><circle cx="663" cy="1131" r="2.9"/><circle cx="638" cy="1175" r="2.5"/><circle cx="698" cy="1183" r="3.5"/><circle cx="642" cy="1174" r="3.6"/><circle cx="687" cy="1152" r="4.4"/><circle cx="671" cy="1145" r="3.3"/><circle cx="621" cy="1193" r="4.1"/><circle cx="696" cy="1186" r="4.5"/><circle cx="681" cy="1145" r="4.0"/><circle cx="620" cy="1169" r="2.8"/><circle cx="706" cy="1159" r="3.1"/><circle cx="604" cy="1181" r="3.6"/><circle cx="713" cy="1167" r="3.4"/><circle cx="694" cy="1128" r="3.1"/><circle cx="646" cy="1178" r="3.0"/><circle cx="688" cy="1172" r="2.7"/><circle cx="654" cy="1178" r="2.9"/><circle cx="677" cy="1142" r="3.2"/><circle cx="665" cy="1185" r="4.0"/><circle cx="648" cy="1189" r="3.3"/><circle cx="719" cy="1158" r="2.7"/><circle cx="690" cy="1131" r="3.9"/><circle cx="660" cy="1179" r="2.8"/><circle cx="674" cy="1150" r="3.0"/><circle cx="651" cy="1126" r="4.2"/><circle cx="649" cy="1157" r="3.9"/><circle cx="687" cy="1147" r="4.4"/><circle cx="609" cy="1130" r="4.1"/><circle cx="600" cy="1134" r="3.5"/><circle cx="631" cy="1133" r="4.4"/><circle cx="651" cy="1183" r="3.0"/><circle cx="713" cy="1169" r="4.4"/><circle cx="693" cy="1171" r="3.6"/><circle cx="705" cy="1155" r="2.7"/><circle cx="681" cy="1180" r="3.0"/><circle cx="649" cy="1186" r="4.4"/><circle cx="681" cy="1164" r="3.3"/><circle cx="607" cy="1130" r="3.4"/><circle cx="653" cy="1141" r="3.2"/><circle cx="662" cy="1181" r="3.7"/><circle cx="635" cy="1197" r="4.5"/><circle cx="603" cy="1167" r="4.4"/><circle cx="638" cy="1164" r="3.1"/><circle cx="600" cy="1142" r="3.8"/><circle cx="663" cy="1196" r="3.9"/><circle cx="635" cy="1196" r="3.8"/><circle cx="661" cy="1189" r="3.8"/><circle cx="634" cy="1168" r="3.1"/><circle cx="584" cy="1164" r="2.9"/><circle cx="655" cy="1129" r="4.2"/><circle cx="679" cy="1175" r="4.4"/><circle cx="589" cy="1154" r="4.4"/><circle cx="627" cy="1165" r="2.5"/><circle cx="642" cy="1193" r="3.7"/><circle cx="612" cy="1134" r="4.2"/><circle cx="621" cy="1191" r="3.5"/><circle cx="641" cy="1176" r="2.6"/><circle cx="598" cy="1180" r="3.0"/><circle cx="604" cy="1149" r="3.8"/><circle cx="676" cy="1132" r="4.0"/><circle cx="662" cy="1148" r="4.3"/><circle cx="619" cy="1131" r="2.8"/><circle cx="604" cy="1167" r="4.1"/><circle cx="605" cy="1160" r="3.6"/><circle cx="663" cy="1153" r="3.6"/><circle cx="643" cy="1139" r="4.0"/><circle cx="617" cy="1186" r="3.0"/><circle cx="596" cy="1158" r="3.3"/><circle cx="631" cy="1181" r="2.9"/><circle cx="679" cy="1187" r="3.4"/><circle cx="655" cy="1194" r="3.7"/><circle cx="594" cy="1146" r="2.7"/><circle cx="676" cy="1154" r="3.1"/><circle cx="656" cy="1195" r="3.0"/><circle cx="605" cy="1144" r="3.1"/><circle cx="713" cy="1177" r="3.4"/><circle cx="676" cy="1132" r="3.8"/><circle cx="591" cy="1160" r="3.2"/><circle cx="597" cy="1180" r="3.9"/><circle cx="656" cy="1133" r="3.8"/><circle cx="645" cy="1173" r="2.7"/><circle cx="614" cy="1152" r="2.9"/><circle cx="595" cy="1175" r="4.5"/><circle cx="631" cy="1141" r="3.8"/><circle cx="614" cy="1152" r="3.9"/><circle cx="644" cy="1132" r="2.6"/><circle cx="661" cy="1200" r="4.3"/><circle cx="597" cy="1160" r="3.5"/><circle cx="610" cy="1174" r="3.5"/><circle cx="699" cy="1143" r="4.4"/><circle cx="700" cy="1158" r="2.8"/><circle cx="652" cy="1130" r="3.9"/><circle cx="683" cy="1166" r="4.5"/><circle cx="698" cy="1128" r="3.1"/><circle cx="590" cy="1167" r="3.9"/><circle cx="633" cy="1176" r="3.2"/><circle cx="685" cy="1142" r="4.5"/><circle cx="596" cy="1178" r="4.2"/><circle cx="674" cy="1132" r="4.2"/><circle cx="686" cy="1129" r="3.3"/><circle cx="588" cy="1148" r="4.2"/><circle cx="707" cy="1167" r="4.4"/><circle cx="675" cy="1196" r="3.6"/><circle cx="611" cy="1161" r="3.5"/><circle cx="631" cy="1150" r="3.5"/><circle cx="667" cy="1137" r="3.1"/><circle cx="655" cy="1160" r="3.3"/><circle cx="678" cy="1134" r="3.6"/><circle cx="622" cy="1182" r="3.9"/><circle cx="695" cy="1161" r="3.0"/><circle cx="716" cy="1161" r="3.3"/><circle cx="624" cy="1152" r="3.9"/><circle cx="700" cy="1158" r="4.0"/><circle cx="613" cy="1156" r="3.2"/><circle cx="627" cy="1148" r="4.0"/><circle cx="688" cy="1136" r="3.0"/><circle cx="695" cy="1172" r="3.9"/><circle cx="674" cy="1176" r="3.0"/><circle cx="591" cy="1149" r="2.6"/><circle cx="721" cy="1162" r="3.8"/><circle cx="615" cy="1147" r="2.7"/><circle cx="697" cy="1179" r="3.5"/><circle cx="636" cy="1141" r="3.5"/><circle cx="685" cy="1192" r="4.2"/><circle cx="707" cy="1155" r="3.3"/><circle cx="609" cy="1132" r="3.1"/><circle cx="630" cy="1188" r="4.3"/><circle cx="644" cy="1135" r="4.0"/><circle cx="636" cy="1129" r="4.3"/><circle cx="646" cy="1152" r="3.7"/><circle cx="639" cy="1150" r="2.5"/><circle cx="636" cy="1181" r="3.2"/><circle cx="680" cy="1170" r="2.9"/><circle cx="670" cy="1143" r="2.9"/><circle cx="616" cy="1167" r="3.6"/><circle cx="629" cy="1172" r="3.7"/><circle cx="656" cy="1129" r="2.9"/><circle cx="627" cy="1153" r="3.2"/><circle cx="706" cy="1139" r="3.7"/><circle cx="637" cy="1122" r="4.1"/><circle cx="699" cy="1141" r="4.1"/><circle cx="651" cy="1199" r="2.6"/><circle cx="637" cy="1138" r="3.7"/><circle cx="694" cy="1188" r="3.6"/><circle cx="638" cy="1184" r="2.7"/><circle cx="620" cy="1180" r="3.4"/><circle cx="649" cy="1137" r="2.5"/><circle cx="636" cy="1154" r="3.5"/><circle cx="624" cy="1176" r="3.5"/><circle cx="656" cy="1159" r="3.2"/><circle cx="706" cy="1136" r="4.3"/><circle cx="634" cy="1147" r="3.7"/><circle cx="664" cy="1142" r="2.7"/><circle cx="720" cy="1149" r="2.7"/><circle cx="677" cy="1162" r="3.2"/><circle cx="630" cy="1188" r="3.2"/><circle cx="643" cy="1197" r="3.2"/><circle cx="640" cy="1132" r="3.8"/><circle cx="678" cy="1156" r="3.3"/><circle cx="616" cy="1183" r="3.4"/><circle cx="702" cy="1150" r="4.0"/><circle cx="721" cy="1175" r="3.9"/><circle cx="654" cy="1158" r="2.9"/><circle cx="607" cy="1172" r="3.9"/><circle cx="620" cy="1172" r="2.8"/><circle cx="671" cy="1133" r="3.5"/><circle cx="628" cy="1164" r="2.8"/><circle cx="652" cy="1169" r="2.8"/><circle cx="627" cy="1174" r="3.6"/><circle cx="671" cy="1183" r="3.6"/><circle cx="614" cy="1155" r="4.2"/><circle cx="664" cy="1180" r="3.2"/><circle cx="647" cy="1198" r="4.1"/><circle cx="676" cy="1128" r="3.7"/><circle cx="621" cy="1188" r="2.9"/><circle cx="702" cy="1162" r="2.5"/><circle cx="711" cy="1155" r="4.2"/><circle cx="682" cy="1163" r="4.2"/><circle cx="631" cy="1125" r="2.6"/><circle cx="672" cy="1129" r="2.8"/><circle cx="625" cy="1142" r="4.3"/></g><polygon points="575,1200 600,1195 610,1275 585,1275" fill="#c4c4c4" fill-opacity="0.45"/><g fill="#606060" fill-opacity="0.5"><circle cx="607" cy="1265" r="4.5"/><circle cx="590" cy="1259" r="3.1"/><circle cx="607" cy="1260" r="4.0"/><circle cx="583" cy="1202" r="4.4"/><circle cx="594" cy="1244" r="4.2"/><circle cx="591" cy="1258" r="3.4"/><circle cx="585" cy="1255" r="4.2"/><circle cx="584" cy="1251" r="3.3"/><circle cx="583" cy="1212" r="4.4"/><circle cx="588" cy="1236" r="3.5"/><circle cx="601" cy="1265" r="3.2"/><circle cx="582" cy="1223" r="4.0"/><circle cx="598" cy="1227" r="3.5"/><circle cx="592" cy="1236" r="4.1"/><circle cx="587" cy="1260" r="2.7"/><circle cx="585" cy="1246" r="3.5"/><circle cx="588" cy="1241" r="2.9"/><circle cx="604" cy="1239" r="3.7"/><circle cx="597" cy="1205" r="4.1"/><circle cx="585" cy="1264" r="4.1"/><circle cx="599" cy="1260" r="3.4"/><circle cx="599" cy="1271" r="2.9"/><circle cx="593" cy="1207" r="2.9"/><circle cx="580" cy="1210" r="3.7"/><circle cx="582" cy="1233" r="3.6"/><circle cx="590" cy="1235" r="4.2"/><circle cx="602" cy="1241" r="3.6"/><circle cx="586" cy="1253" r="3.0"/><circle cx="595" cy="1247" r="3.2"/><circle cx="592" cy="1200" r="3.8"/><circle cx="599" cy="1207" r="3.6"/><circle cx="601" cy="1203" r="4.2"/><circle cx="584" cy="1202" r="3.0"/><circle cx="584" cy="1219" r="3.4"/><circle cx="588" cy="1258" r="3.9"/><circle cx="579" cy="1213" r="2.5"/><circle cx="587" cy="1204" r="3.9"/><circle cx="602" cy="1275" r="2.9"/><circle cx="589" cy="1269" r="3.3"/><circle cx="586" cy="1201" r="4.4"/></g><polygon points="560,1220 735,1215 740,1245 565,1250" fill="#c4c4c4" fill-opacity="0.45"/><g fill="#606060" fill-opacity="0.5"><circle cx="652" cy="1230" r="3.4"/><circle cx="698" cy="1244" r="3.5"/><circle cx="592" cy="1229" r="4.3"/><circle cx="633" cy="1238" r="3.6"/><circle cx="643" cy="1235" r="3.0"/><circle cx="660" cy="1245" r="2.7"/><circle cx="626" cy="1246" r="4.5"/><circle cx="674" cy="1245" r="3.4"/><circle cx="584" cy="1226" r="3.9"/><circle cx="691" cy="1222" r="3.8"/><circle cx="678" cy="1238" r="2.5"/><circle cx="639" cy="1226" r="3.7"/><circle cx="621" cy="1219" r="3.8"/><circle cx="612" cy="1243" r="3.1"/><circle cx="658" cy="1243" r="2.7"/><circle cx="692" cy="1217" r="4.4"/><circle cx="565" cy="1240" r="3.2"/><circle cx="592" cy="1229" r="3.5"/><circle cx="635" cy="1219" r="3.5"/><circle cx="629" cy="1230" r="3.0"/><circle cx="734" cy="1226" r="3.8"/><circle cx="710" cy="1229" r="4.0"/><circle cx="610" cy="1219" r="2.6"/><circle cx="641" cy="1246" r="2.9"/><circle cx="639" cy="1242" r="3.1"/><circle cx="587" cy="1233" r="3.4"/><circle cx="603" cy="1235" r="3.3"/><circle cx="566" cy="1231" r="4.3"/><circle cx="615" cy="1236" r="3.9"/><circle cx="571" cy="1247" r="2.7"/><circle cx="614" cy="1240" r="2.5"/><circle cx="628" cy="1219" r="3.4"/><circle cx="563" cy="1220" r="2.9"/><circle cx="595" cy="1233" r="2.8"/><circle cx="708" cy="1230" r="3.0"/><circle cx="603" cy="1244" r="2.6"/><circle cx="694" cy="1218" r="4.4"/><circle cx="633" cy="1236" r="4.2"/><circle cx="685" cy="1236" r="3.9"/><circle cx="610" cy="1232" r="2.9"/><circle cx="639" cy="1225" r="3.7"/><circle cx="614" cy="1225" r="3.8"/><circle cx="575" cy="1243" r="3.5"/><circle cx="601" cy="1219" r="3.5"/><circle cx="651" cy="1240" r="3.2"/><circle cx="634" cy="1246" r="3.0"/><circle cx="606" cy="1244" r="3.7"/><circle cx="677" cy="1243" r="3.6"/><circle cx="574" cy="1245" r="2.9"/><circle cx="607" cy="1237" r="2.9"/><circle cx="643" cy="1240" r="2.7"/><circle cx="679" cy="1219" r="3.5"/><circle cx="677" cy="1239" r="2.6"/><circle cx="594" cy="1249" r="3.3"/><circle cx="636" cy="1228" r="3.9"/><circle cx="693" cy="1238" r="3.3"/><circle cx="663" cy="1233" r="2.9"/><circle cx="644" cy="1244" r="3.0"/><circle cx="694" cy="1240" r="4.4"/><circle cx="710" cy="1246" r="3.0"/><circle cx="702" cy="1232" r="3.1"/><circle cx="626" cy="1243" r="4.2"/><circle cx="712" cy="1238" r="2.8"/><circle cx="588" cy="1235" r="2.9"/><circle cx="621" cy="1219" r="2.8"/><circle cx="689" cy="1223" r="4.2"/><circle cx="619" cy="1245" r="3.1"/><circle cx="608" cy="1229" r="2.5"/><circle cx="638" cy="1228" r="2.5"/><circle cx="715" cy="1228" r="2.5"/></g><polygon points="660,1095 745,1075 748,1090 665,1110" fill="#c4c4c4" fill-opacity="0.45"/><g fill="#606060" fill-opacity="0.5"><circle cx="745" cy="1083" r="3.0"/><circle cx="722" cy="1095" r="3.5"/><circle cx="745" cy="1088" r="4.5"/><circle cx="738" cy="1079" r="4.2"/><circle cx="662" cy="1100" r="4.1"/><circle cx="721" cy="1094" r="4.1"/><circle cx="674" cy="1094" r="3.0"/><circle cx="722" cy="1095" r="4.1"/><circle cx="715" cy="1096" r="4.3"/><circle cx="689" cy="1100" r="4.4"/><circle cx="699" cy="1091" r="4.0"/><circle cx="682" cy="1099" r="4.3"/><circle cx="703" cy="1087" r="4.4"/><circle cx="702" cy="1089" r="4.4"/><circle cx="703" cy="1089" r="3.8"/><circle cx="704" cy="1086" r="3.7"/><circle cx="708" cy="1088" r="3.5"/><circle cx="664" cy="1106" r="3.8"/><circle cx="682" cy="1095" r="3.3"/><circle cx="686" cy="1102" r="3.7"/><circle cx="689" cy="1094" r="4.4"/><circle cx="702" cy="1097" r="3.6"/><circle cx="737" cy="1077" r="4.1"/><circle cx="663" cy="1098" r="4.1"/><circle cx="680" cy="1100" r="3.6"/></g><line x1="795" y1="960" x2="952.0" y2="960.0" stroke="#000" stroke-width="7"/><polygon points="990,960 952.0,980.0 952.0,940.0" fill="#000"/><polygon points="992,725 1322,828 1322,1098 992,1200" fill="#b4c7e7"/><text x="1145" y="945" class="tb">3D</text><text x="1145" y="1032" class="tb">Encoder</text><line x1="1325" y1="960" x2="1462.0" y2="960.0" stroke="#000" stroke-width="7"/><polygon points="1500,960 1462.0,980.0 1462.0,940.0" fill="#000"/><rect x="1452" y="35" width="343" height="1335" rx="70" fill="none" stroke="#548235" stroke-width="10" stroke-dasharray="42 28"/><rect x="1515" y="62" width="217" height="623" fill="#fff" stroke="#111" stroke-width="8"/><rect x="1515" y="718" width="227" height="624" fill="#fff" stroke="#111" stroke-width="8"/><rect x="1543" y="83" width="160" height="102" fill="#e7bdd5"/><text x="1580" y="163" class="zt">z</text><text x="1612" y="125" class="zs">p</text><text x="1608" y="178" class="zs">1</text><rect x="1543" y="212" width="160" height="102" fill="#e7bdd5"/><text x="1580" y="292" class="zt">z</text><text x="1612" y="254" class="zs">p</text><text x="1608" y="307" class="zs">2</text><rect x="1543" y="343" width="160" height="102" fill="#e7bdd5"/><text x="1580" y="423" class="zt">z</text><text x="1612" y="385" class="zs">p</text><text x="1608" y="438" class="zs">3</text><rect x="1543" y="562" width="160" height="102" fill="#e7bdd5"/><text x="1580" y="642" class="zt">z</text><text x="1612" y="604" class="zs">p</text><text x="1608" y="657" class="zs">c</text><rect x="1543" y="740" width="162" height="103" fill="#b4c7e7"/><text x="1580" y="820" class="zt">z</text><text x="1615" y="782" class="zs">f</text><text x="1608" y="835" class="zs">1</text><rect x="1543" y="870" width="162" height="103" fill="#b4c7e7"/><text x="1580" y="950" class="zt">z</text><text x="1615" y="912" class="zs">f</text><text x="1608" y="965" class="zs">2</text><rect x="1543" y="1000" width="162" height="103" fill="#b4c7e7"/><text x="1580" y="1080" class="zt">z</text><text x="1615" y="1042" class="zs">f</text><text x="1608" y="1095" class="zs">3</text><rect x="1543" y="1220" width="162" height="103" fill="#b4c7e7"/><text x="1580" y="1300" class="zt">z</text><text x="1615" y="1262" class="zs">f</text><text x="1608" y="1315" class="zs">i</text><circle cx="1580" cy="505" r="7" fill="#111"/><circle cx="1620" cy="505" r="7" fill="#111"/><circle cx="1660" cy="505" r="7" fill="#111"/><circle cx="1580" cy="1165" r="7" fill="#111"/><circle cx="1620" cy="1165" r="7" fill="#111"/><circle cx="1660" cy="1165" r="7" fill="#111"/><text x="1912" y="662" class="tb">KNN</text><text x="1912" y="752" class="tb">Graph</text><line x1="1795" y1="683" x2="2020.0" y2="683.0" stroke="#000" stroke-width="7"/><polygon points="2058,683 2020.0,703.0 2020.0,663.0" fill="#000"/></svg><svg class="sv" style="left:420px;top:555px" width="310" height="260" viewBox="0 0 1717 1440" preserveAspectRatio="none"><style>.tc{font:75px "Liberation Serif",serif;fill:#111}.tcm{font:75px "Liberation Serif",serif;fill:#111;text-anchor:middle}</style><rect x="55" y="50" width="1435" height="915" rx="110" fill="none" stroke="#548235" stroke-width="10" stroke-dasharray="42 28"/><ellipse cx="515" cy="380" rx="278" ry="200" fill="#e4eedb"/><ellipse cx="345" cy="770" rx="252" ry="175" fill="#e6edf8"/><ellipse cx="1035" cy="692" rx="245" ry="172" fill="#e6edf8"/><g stroke="#555" stroke-width="4.5"><line x1="378" y1="548" x2="287" y2="685"/><line x1="378" y1="548" x2="350" y2="770"/><line x1="378" y1="548" x2="398" y2="660"/><line x1="378" y1="548" x2="350" y2="750"/><line x1="550" y1="345" x2="440" y2="650"/><line x1="287" y1="685" x2="398" y2="660"/><line x1="287" y1="685" x2="215" y2="820"/><line x1="350" y1="770" x2="362" y2="900"/><line x1="398" y1="660" x2="470" y2="810"/><line x1="215" y1="820" x2="470" y2="810"/><line x1="215" y1="820" x2="362" y2="900"/><line x1="470" y1="810" x2="362" y2="900"/><line x1="350" y1="770" x2="398" y2="660"/><line x1="660" y1="490" x2="1072" y2="570"/><line x1="660" y1="490" x2="990" y2="668"/><line x1="660" y1="490" x2="855" y2="705"/><line x1="680" y1="295" x2="990" y2="668"/><line x1="1072" y1="570" x2="990" y2="668"/><line x1="1072" y1="570" x2="1115" y2="672"/><line x1="1072" y1="570" x2="1215" y2="605"/><line x1="990" y1="668" x2="1115" y2="672"/><line x1="990" y1="668" x2="945" y2="780"/><line x1="990" y1="668" x2="855" y2="705"/><line x1="1115" y1="672" x2="1045" y2="770"/><line x1="1115" y1="672" x2="1127" y2="808"/><line x1="1115" y1="672" x2="1215" y2="605"/><line x1="945" y1="780" x2="1045" y2="770"/><line x1="1045" y1="770" x2="1127" y2="808"/><line x1="855" y1="705" x2="945" y2="780"/><line x1="855" y1="705" x2="1045" y2="770"/></g><ellipse cx="728" cy="140" rx="145" ry="70" fill="none" stroke="#444" stroke-width="4.5" stroke-dasharray="14 10"/><ellipse cx="562" cy="282" rx="118" ry="62" fill="none" stroke="#444" stroke-width="4.5" stroke-dasharray="14 10"/><ellipse cx="420" cy="430" rx="70" ry="120" transform="rotate(12 420 430)" fill="none" stroke="#444" stroke-width="4.5" stroke-dasharray="14 10"/><ellipse cx="632" cy="430" rx="120" ry="66" transform="rotate(-15 632 430)" fill="none" stroke="#444" stroke-width="4.5" stroke-dasharray="14 10"/><circle cx="287" cy="685" r="34" fill="#b4c7e7" stroke="#888" stroke-width="5"/><circle cx="350" cy="770" r="34" fill="#b4c7e7" stroke="#888" stroke-width="5"/><circle cx="470" cy="810" r="34" fill="#b4c7e7" stroke="#888" stroke-width="5"/><circle cx="362" cy="900" r="34" fill="#b4c7e7" stroke="#888" stroke-width="5"/><circle cx="1072" cy="570" r="34" fill="#b4c7e7" stroke="#888" stroke-width="5"/><circle cx="990" cy="668" r="34" fill="#b4c7e7" stroke="#888" stroke-width="5"/><circle cx="1115" cy="672" r="34" fill="#b4c7e7" stroke="#888" stroke-width="5"/><circle cx="945" cy="780" r="34" fill="#b4c7e7" stroke="#888" stroke-width="5"/><circle cx="1045" cy="770" r="34" fill="#b4c7e7" stroke="#888" stroke-width="5"/><circle cx="1127" cy="808" r="34" fill="#b4c7e7" stroke="#888" stroke-width="5"/><circle cx="898" cy="460" r="38" fill="#b4c7e7" stroke="#777" stroke-width="5"/><polygon points="655.00,90.00 668.23,121.80 702.55,124.55 676.40,146.95 684.39,180.45 655.00,162.50 625.61,180.45 633.60,146.95 607.45,124.55 641.77,121.80" fill="#d5e2f5" stroke="#6d98d4" stroke-width="5" stroke-linejoin="miter"/><polygon points="780.00,90.00 793.23,121.80 827.55,124.55 801.40,146.95 809.39,180.45 780.00,162.50 750.61,180.45 758.60,146.95 732.45,124.55 766.77,121.80" fill="#d5e2f5" stroke="#6d98d4" stroke-width="5" stroke-linejoin="miter"/><polygon points="510.00,235.00 523.23,266.80 557.55,269.55 531.40,291.95 539.39,325.45 510.00,307.50 480.61,325.45 488.60,291.95 462.45,269.55 496.77,266.80" fill="#d5e2f5" stroke="#6d98d4" stroke-width="5" stroke-linejoin="miter"/><polygon points="610.00,242.00 623.23,273.80 657.55,276.55 631.40,298.95 639.39,332.45 610.00,314.50 580.61,332.45 588.60,298.95 562.45,276.55 596.77,273.80" fill="#d5e2f5" stroke="#6d98d4" stroke-width="5" stroke-linejoin="miter"/><polygon points="430.00,335.00 443.23,366.80 477.55,369.55 451.40,391.95 459.39,425.45 430.00,407.50 400.61,425.45 408.60,391.95 382.45,369.55 416.77,366.80" fill="#d5e2f5" stroke="#6d98d4" stroke-width="5" stroke-linejoin="miter"/><polygon points="398.00,428.00 411.23,459.80 445.55,462.55 419.40,484.95 427.39,518.45 398.00,500.50 368.61,518.45 376.60,484.95 350.45,462.55 384.77,459.80" fill="#d5e2f5" stroke="#6d98d4" stroke-width="5" stroke-linejoin="miter"/><polygon points="595.00,390.00 608.23,421.80 642.55,424.55 616.40,446.95 624.39,480.45 595.00,462.50 565.61,480.45 573.60,446.95 547.45,424.55 581.77,421.80" fill="#d5e2f5" stroke="#6d98d4" stroke-width="5" stroke-linejoin="miter"/><polygon points="695.00,355.00 708.23,386.80 742.55,389.55 716.40,411.95 724.39,445.45 695.00,427.50 665.61,445.45 673.60,411.95 647.45,389.55 681.77,386.80" fill="#d5e2f5" stroke="#6d98d4" stroke-width="5" stroke-linejoin="miter"/><polygon points="398.00,610.00 411.23,641.80 445.55,644.55 419.40,666.95 427.39,700.45 398.00,682.50 368.61,700.45 376.60,666.95 350.45,644.55 384.77,641.80" fill="#d5e2f5" stroke="#6d98d4" stroke-width="5" stroke-linejoin="miter"/><polygon points="855.00,655.00 868.23,686.80 902.55,689.55 876.40,711.95 884.39,745.45 855.00,727.50 825.61,745.45 833.60,711.95 807.45,689.55 841.77,686.80" fill="#d5e2f5" stroke="#6d98d4" stroke-width="5" stroke-linejoin="miter"/><polygon points="898.00,200.00 911.23,231.80 945.55,234.55 919.40,256.95 927.39,290.45 898.00,272.50 868.61,290.45 876.60,256.95 850.45,234.55 884.77,231.80" fill="#d5e2f5" stroke="#6d98d4" stroke-width="5" stroke-linejoin="miter"/><polygon points="215.00,770.00 228.23,801.80 262.55,804.55 236.40,826.95 244.39,860.45 215.00,842.50 185.61,860.45 193.60,826.95 167.45,804.55 201.77,801.80" fill="#fff6dc" stroke="#e0a82a" stroke-width="5" stroke-linejoin="miter"/><polygon points="1215.00,555.00 1228.23,586.80 1262.55,589.55 1236.40,611.95 1244.39,645.45 1215.00,627.50 1185.61,645.45 1193.60,611.95 1167.45,589.55 1201.77,586.80" fill="#fff6dc" stroke="#e0a82a" stroke-width="5" stroke-linejoin="miter"/><polygon points="898.00,305.00 911.23,336.80 945.55,339.55 919.40,361.95 927.39,395.45 898.00,377.50 868.61,395.45 876.60,361.95 850.45,339.55 884.77,336.80" fill="#fff6dc" stroke="#e0a82a" stroke-width="5" stroke-linejoin="miter"/><text x="900" y="162" class="tc">prompt clustering</text><text x="970" y="270" class="tc">positive prompt</text><text x="970" y="377" class="tc">negative prompt</text><text x="970" y="482" class="tc">test samples</text><text x="578" y="937" class="tc">Multi-modal Feature Space</text><line x1="772" y1="1150" x2="772.0" y2="1008.0" stroke="#000" stroke-width="7"/><polygon points="772,968 792.0,1008.0 752.0,1008.0" fill="#000"/><text x="812" y="1090" class="tc">Adding in Graph</text><rect x="48" y="1148" width="1437" height="267" rx="80" fill="none" stroke="#548235" stroke-width="10" stroke-dasharray="42 28"/><rect x="185" y="1175" width="503" height="210" fill="#b4c7e7"/><rect x="848" y="1175" width="502" height="210" fill="#ffe699"/><text x="437" y="1265" class="tcm">Positive</text><text x="437" y="1352" class="tcm">prompt</text><text x="1100" y="1260" class="tcm">Negative</text><text x="1100" y="1352" class="tcm">prompt</text><line x1="1495" y1="718" x2="1635.0" y2="718.0" stroke="#000" stroke-width="7"/><polygon points="1675,718 1635.0,738.0 1635.0,698.0" fill="#000"/><line x1="1690" y1="1270" x2="1530.0" y2="1274.8" stroke="#000" stroke-width="7"/><polygon points="1490,1276 1529.4,1254.8 1530.6,1294.8" fill="#000"/></svg><svg class="sv" style="left:720px;top:555px" width="390" height="260" viewBox="0 0 2058 1372" preserveAspectRatio="none"><style>.td{font:72px "Liberation Serif",serif;fill:#111;text-anchor:middle}.tdi{font-style:italic}</style><rect x="35" y="80" width="995" height="1255" rx="130" fill="none" stroke="#548235" stroke-width="10" stroke-dasharray="42 28"/><rect x="88" y="190" width="887" height="130" fill="#e2efd9" stroke="#70ad47" stroke-width="7"/><rect x="88" y="343" width="890" height="127" fill="#e2efd9" stroke="#70ad47" stroke-width="7"/><rect x="88" y="492" width="890" height="130" fill="#e2efd9" stroke="#70ad47" stroke-width="7"/><rect x="85" y="782" width="890" height="130" fill="#e2efd9" stroke="#70ad47" stroke-width="7"/><rect x="85" y="1058" width="890" height="132" fill="#e2efd9" stroke="#70ad47" stroke-width="7"/><text x="530" y="282" class="td">compute weights <tspan class="tdi">W</tspan></text><text x="530" y="437" class="td" style="font-size:76px"><tspan class="tdi">S</tspan><tspan font-size="54" baseline-shift="-16">0</tspan> =  [1, 1, 1…0, 0, 0]</text><text x="531" y="582" class="td" style="font-size:82px"><tspan class="tdi">W&#771;</tspan> = <tspan class="tdi">D</tspan><tspan font-size="52" baseline-shift="30">−1/2</tspan><tspan class="tdi">WD</tspan><tspan font-size="52" baseline-shift="30">−1/2</tspan></text><text x="525" y="870" class="td" style="font-size:82px"><tspan class="tdi">S</tspan><tspan font-size="54" baseline-shift="-16">1</tspan>=<tspan class="tdi">αW&#771;S</tspan><tspan font-size="54" baseline-shift="-16">0</tspan> + (1 − <tspan class="tdi">α</tspan>)<tspan class="tdi">S</tspan><tspan font-size="54" baseline-shift="-16">0</tspan></text><text x="525" y="1152" class="td" style="font-size:84px"><tspan class="tdi">S</tspan><tspan font-size="54" baseline-shift="-16">t+1</tspan>=<tspan class="tdi">αW&#771;S</tspan><tspan font-size="54" baseline-shift="-16">t</tspan> + (1 − <tspan class="tdi">α</tspan>)<tspan class="tdi">S</tspan><tspan font-size="54" baseline-shift="-16">0</tspan></text><line x1="535" y1="632" x2="535.0" y2="730.0" stroke="#c9961a" stroke-width="6"/><polygon points="535,765 517.0,730.0 553.0,730.0" fill="#c9961a"/><rect x="462" y="983" width="14" height="14" fill="#d4a017"/><rect x="491" y="983" width="14" height="14" fill="#d4a017"/><rect x="520" y="983" width="14" height="14" fill="#d4a017"/><rect x="549" y="983" width="14" height="14" fill="#d4a017"/><rect x="578" y="983" width="14" height="14" fill="#d4a017"/><rect x="607" y="983" width="14" height="14" fill="#d4a017"/><text x="567" y="1283" class="td">Label&#160; Propagation</text><line x1="1055" y1="703" x2="1187.0" y2="703.0" stroke="#000" stroke-width="7"/><polygon points="1225,703 1187.0,723.0 1187.0,683.0" fill="#000"/><rect x="1508" y="143" width="232" height="100" fill="#fdf0c8"/><rect x="1508" y="285" width="232" height="100" fill="#dce8f5"/><text x="1768" y="222" style="font:72px Liberation Serif,serif;fill:#111">OOD</text><text x="1785" y="360" style="font:72px Liberation Serif,serif;fill:#111">ID</text><polygon points="1240.0,1048.0 1242.7,1034.1 1245.4,1019.5 1248.1,1004.0 1250.8,987.8 1253.4,970.9 1256.1,953.2 1258.8,934.8 1261.5,915.8 1264.2,896.1 1266.9,876.0 1269.6,855.3 1272.2,834.2 1274.9,812.8 1277.6,791.2 1280.3,769.4 1283.0,747.6 1285.7,725.8 1288.4,704.3 1291.1,683.1 1293.8,662.3 1296.4,642.0 1299.1,622.5 1301.8,603.8 1304.5,586.0 1307.2,569.2 1309.9,553.6 1312.6,539.3 1315.2,526.3 1317.9,514.8 1320.6,504.9 1323.3,496.5 1326.0,489.8 1328.7,484.8 1331.4,481.6 1334.1,480.1 1336.8,480.4 1339.4,482.4 1342.1,486.1 1344.8,491.5 1347.5,498.6 1350.2,507.2 1352.9,517.3 1355.6,528.8 1358.2,541.6 1360.9,555.6 1363.6,570.8 1366.3,586.9 1369.0,603.8 1371.7,621.5 1374.4,639.8 1377.1,658.6 1379.8,677.8 1382.4,697.2 1385.1,716.7 1387.8,736.3 1390.5,755.7 1393.2,774.9 1395.9,793.9 1398.6,812.5 1401.2,830.6 1403.9,848.2 1406.6,865.2 1409.3,881.6 1412.0,897.2 1414.7,912.2 1417.4,926.5 1420.1,939.9 1422.8,952.6 1425.4,964.5 1428.1,975.7 1430.8,986.0 1433.5,995.6 1436.2,1004.5 1438.9,1012.7 1441.6,1020.1 1444.2,1026.9 1446.9,1033.1 1449.6,1038.6 1452.3,1043.6 1455.0,1048.0" fill="#fdf0c8"/><polygon points="1425.0,1048.0 1432.4,1046.5 1439.8,1043.7 1447.1,1040.1 1454.5,1036.0 1461.9,1031.3 1469.2,1026.2 1476.6,1020.8 1484.0,1015.1 1491.4,1009.2 1498.8,1003.0 1506.1,996.7 1513.5,990.3 1520.9,983.9 1528.2,977.3 1535.6,970.8 1543.0,964.4 1550.4,957.9 1557.8,951.6 1565.1,945.4 1572.5,939.4 1579.9,933.5 1587.2,927.9 1594.6,922.4 1602.0,917.3 1609.4,912.4 1616.8,907.8 1624.1,903.5 1631.5,899.5 1638.9,895.8 1646.2,892.5 1653.6,889.6 1661.0,887.1 1668.4,884.9 1675.8,883.1 1683.1,881.8 1690.5,880.8 1697.9,880.2 1705.2,880.0 1712.6,880.2 1720.0,880.8 1727.4,881.8 1734.8,883.2 1742.1,885.0 1749.5,887.1 1756.9,889.6 1764.2,892.4 1771.6,895.5 1779.0,899.0 1786.4,902.8 1793.8,906.9 1801.1,911.2 1808.5,915.8 1815.9,920.6 1823.2,925.6 1830.6,930.9 1838.0,936.2 1845.4,941.8 1852.8,947.4 1860.1,953.2 1867.5,959.0 1874.9,964.8 1882.2,970.7 1889.6,976.6 1897.0,982.4 1904.4,988.2 1911.8,994.0 1919.1,999.6 1926.5,1005.0 1933.9,1010.3 1941.2,1015.4 1948.6,1020.3 1956.0,1024.9 1963.4,1029.3 1970.8,1033.3 1978.1,1037.0 1985.5,1040.3 1992.9,1043.1 2000.2,1045.4 2007.6,1047.2 2015.0,1048.0" fill="#dce8f5" fill-opacity="0.95"/><line x1="1218" y1="1048" x2="2058" y2="1048" stroke="#555" stroke-width="6"/><text x="1642" y="1140" class="td">OOD score distribution</text></svg>
<svg class="sv" style="left:1170px;top:615px" width="860" height="345" viewBox="1170 615 860 345"><g font-family="Liberation Serif, DejaVu Serif, serif" font-size="11.7" fill="#1a1a1a" class="tbt1"><rect x="1197" y="823.3" width="820" height="35.8" fill="#e6e6e6"/><rect x="1197" y="940.0" width="820" height="11.6" fill="#e6e6e6"/><rect x="1182" y="620.10" width="835" height="1.6" fill="#222"/><rect x="1182" y="664.90" width="835" height="1.0" fill="#666"/><rect x="1182" y="861.45" width="835" height="1.7" fill="#555"/><rect x="1182" y="952.65" width="835" height="1.7" fill="#444"/><rect x="1196.50" y="626.5" width="1.0" height="37.0" fill="#555"/><rect x="1269.50" y="626.5" width="1.0" height="37.0" fill="#555"/><rect x="1643.50" y="626.5" width="1.0" height="37.0" fill="#555"/><rect x="1363.30" y="651.5" width="1.0" height="12.0" fill="#555"/><rect x="1456.50" y="651.5" width="1.0" height="12.0" fill="#555"/><rect x="1550.20" y="651.5" width="1.0" height="12.0" fill="#555"/><rect x="1736.80" y="651.5" width="1.0" height="12.0" fill="#555"/><rect x="1830.30" y="651.5" width="1.0" height="12.0" fill="#555"/><rect x="1924.00" y="651.5" width="1.0" height="12.0" fill="#555"/><rect x="1196.50" y="668.0" width="1.0" height="191.29999999999995" fill="#555"/><rect x="1196.50" y="866.8" width="1.0" height="84.70000000000005" fill="#555"/><rect x="1269.50" y="668.0" width="1.0" height="191.29999999999995" fill="#555"/><rect x="1269.50" y="866.8" width="1.0" height="84.70000000000005" fill="#555"/><rect x="1363.30" y="668.0" width="1.0" height="191.29999999999995" fill="#555"/><rect x="1363.30" y="866.8" width="1.0" height="84.70000000000005" fill="#555"/><rect x="1456.50" y="668.0" width="1.0" height="191.29999999999995" fill="#555"/><rect x="1456.50" y="866.8" width="1.0" height="84.70000000000005" fill="#555"/><rect x="1550.20" y="668.0" width="1.0" height="191.29999999999995" fill="#555"/><rect x="1550.20" y="866.8" width="1.0" height="84.70000000000005" fill="#555"/><rect x="1643.50" y="668.0" width="1.0" height="191.29999999999995" fill="#555"/><rect x="1643.50" y="866.8" width="1.0" height="84.70000000000005" fill="#555"/><rect x="1736.80" y="668.0" width="1.0" height="191.29999999999995" fill="#555"/><rect x="1736.80" y="866.8" width="1.0" height="84.70000000000005" fill="#555"/><rect x="1830.30" y="668.0" width="1.0" height="191.29999999999995" fill="#555"/><rect x="1830.30" y="866.8" width="1.0" height="84.70000000000005" fill="#555"/><rect x="1924.00" y="668.0" width="1.0" height="191.29999999999995" fill="#555"/><rect x="1924.00" y="866.8" width="1.0" height="84.70000000000005" fill="#555"/><text x="1457.0" y="635.3" text-anchor="middle" font-weight="bold">ScanObjNN</text><text x="1830.8" y="634.6" text-anchor="middle" font-weight="bold">ShapeNetCore</text><text x="1317.6" y="646.9" text-anchor="middle">SR3</text><text x="1410.9" y="646.9" text-anchor="middle">SR2</text><text x="1503.9" y="646.9" text-anchor="middle">SR1</text><text x="1597.3" y="646.9" text-anchor="middle">Average</text><text x="1690.8" y="646.9" text-anchor="middle">SN1</text><text x="1784.3" y="646.9" text-anchor="middle">SN2</text><text x="1877.8" y="646.9" text-anchor="middle">SN3</text><text x="1971.0" y="646.9" text-anchor="middle">Average</text><text x="1199.2" y="659.1" text-anchor="start">Method</text><text x="1296.8" y="659.1" text-anchor="middle">AUROC↑</text><text x="1341.8" y="659.1" text-anchor="middle">FPR95↓</text><text x="1390.2" y="659.1" text-anchor="middle">AUROC↑</text><text x="1435.3" y="659.1" text-anchor="middle">FPR95↓</text><text x="1484.0" y="659.1" text-anchor="middle">AUROC↑</text><text x="1528.7" y="659.1" text-anchor="middle">FPR95↓</text><text x="1577.2" y="659.1" text-anchor="middle">AUROC↑</text><text x="1622.1" y="659.1" text-anchor="middle">FPR95↓</text><text x="1670.6" y="659.1" text-anchor="middle">AUROC↑</text><text x="1715.5" y="659.1" text-anchor="middle">FPR95↓</text><text x="1763.9" y="659.1" text-anchor="middle">AUROC↑</text><text x="1808.3" y="659.1" text-anchor="middle">FPR95↓</text><text x="1857.3" y="659.1" text-anchor="middle">AUROC↑</text><text x="1902.2" y="659.1" text-anchor="middle">FPR95↓</text><text x="1950.6" y="659.1" text-anchor="middle">AUROC↑</text><text x="1995.5" y="659.1" text-anchor="middle">FPR95↓</text><text x="1199.2" y="677.3" text-anchor="start">MSP</text><text x="1295.8" y="677.3" text-anchor="middle">88.1</text><text x="1342.3" y="677.3" text-anchor="middle">67.3</text><text x="1389.2" y="677.3" text-anchor="middle">80.6</text><text x="1435.8" y="677.3" text-anchor="middle">84.0</text><text x="1483.0" y="677.3" text-anchor="middle">73.7</text><text x="1529.2" y="677.3" text-anchor="middle">80.3</text><text x="1576.2" y="677.3" text-anchor="middle">80.8</text><text x="1622.6" y="677.3" text-anchor="middle">77.2</text><text x="1669.6" y="677.3" text-anchor="middle">74.3</text><text x="1716.0" y="677.3" text-anchor="middle">82.8</text><text x="1762.9" y="677.3" text-anchor="middle">80.0</text><text x="1808.8" y="677.3" text-anchor="middle">78.1</text><text x="1856.3" y="677.3" text-anchor="middle">89.7</text><text x="1902.7" y="677.3" text-anchor="middle">52.2</text><text x="1949.6" y="677.3" text-anchor="middle">81.3</text><text x="1996.0" y="677.3" text-anchor="middle">71.0</text><text x="1199.2" y="689.2" text-anchor="start">MLS</text><text x="1295.8" y="689.2" text-anchor="middle">89.4</text><text x="1342.3" y="689.2" text-anchor="middle">53.8</text><text x="1389.2" y="689.2" text-anchor="middle">83.4</text><text x="1435.8" y="689.2" text-anchor="middle">73.1</text><text x="1483.0" y="689.2" text-anchor="middle">76.4</text><text x="1529.2" y="689.2" text-anchor="middle">75.3</text><text x="1576.2" y="689.2" text-anchor="middle">83.0</text><text x="1622.6" y="689.2" text-anchor="middle">67.4</text><text x="1669.6" y="689.2" text-anchor="middle">72.0</text><text x="1716.0" y="689.2" text-anchor="middle">80.8</text><text x="1762.9" y="689.2" text-anchor="middle">83.9</text><text x="1808.8" y="689.2" text-anchor="middle">64.1</text><text x="1856.3" y="689.2" text-anchor="middle">89.8</text><text x="1902.7" y="689.2" text-anchor="middle">40.5</text><text x="1949.6" y="689.2" text-anchor="middle">81.9</text><text x="1996.0" y="689.2" text-anchor="middle">61.8</text><text x="1199.2" y="701.1" text-anchor="start">ODIN</text><text x="1295.8" y="701.1" text-anchor="middle">90.2</text><text x="1342.3" y="701.1" text-anchor="middle">47.9</text><text x="1389.2" y="701.1" text-anchor="middle">83.3</text><text x="1435.8" y="701.1" text-anchor="middle">71.7</text><text x="1483.0" y="701.1" text-anchor="middle">76.3</text><text x="1529.2" y="701.1" text-anchor="middle">76.8</text><text x="1576.2" y="701.1" text-anchor="middle">83.3</text><text x="1622.6" y="701.1" text-anchor="middle">65.5</text><text x="1669.6" y="701.1" text-anchor="middle">74.2</text><text x="1716.0" y="701.1" text-anchor="middle">79.4</text><text x="1762.9" y="701.1" text-anchor="middle">79.4</text><text x="1808.8" y="701.1" text-anchor="middle">71.7</text><text x="1856.3" y="701.1" text-anchor="middle">87.8</text><text x="1902.7" y="701.1" text-anchor="middle">41.8</text><text x="1949.6" y="701.1" text-anchor="middle">80.5</text><text x="1996.0" y="701.1" text-anchor="middle">64.3</text><text x="1199.2" y="713.1" text-anchor="start">Energy</text><text x="1295.8" y="713.1" text-anchor="middle">89.5</text><text x="1342.3" y="713.1" text-anchor="middle">50.6</text><text x="1389.2" y="713.1" text-anchor="middle">81.6</text><text x="1435.8" y="713.1" text-anchor="middle">75.8</text><text x="1483.0" y="713.1" text-anchor="middle">76.6</text><text x="1529.2" y="713.1" text-anchor="middle">75.5</text><text x="1576.2" y="713.1" text-anchor="middle">82.6</text><text x="1622.6" y="713.1" text-anchor="middle">67.3</text><text x="1669.6" y="713.1" text-anchor="middle">72.1</text><text x="1716.0" y="713.1" text-anchor="middle">81.2</text><text x="1762.9" y="713.1" text-anchor="middle">83.0</text><text x="1808.8" y="713.1" text-anchor="middle">64.7</text><text x="1856.3" y="713.1" text-anchor="middle">89.8</text><text x="1902.7" y="713.1" text-anchor="middle">39.4</text><text x="1949.6" y="713.1" text-anchor="middle">82.0</text><text x="1996.0" y="713.1" text-anchor="middle">61.8</text><text x="1199.2" y="725.0" text-anchor="start">GradNorm</text><text x="1295.8" y="725.0" text-anchor="middle">88.5</text><text x="1342.3" y="725.0" text-anchor="middle">50.7</text><text x="1389.2" y="725.0" text-anchor="middle">77.4</text><text x="1435.8" y="725.0" text-anchor="middle">75.3</text><text x="1483.0" y="725.0" text-anchor="middle">75.2</text><text x="1529.2" y="725.0" text-anchor="middle">76.8</text><text x="1576.2" y="725.0" text-anchor="middle">80.4</text><text x="1622.6" y="725.0" text-anchor="middle">67.6</text><text x="1669.6" y="725.0" text-anchor="middle">72.1</text><text x="1716.0" y="725.0" text-anchor="middle">81.8</text><text x="1762.9" y="725.0" text-anchor="middle">57.7</text><text x="1808.8" y="725.0" text-anchor="middle">88.9</text><text x="1856.3" y="725.0" text-anchor="middle">57.8</text><text x="1902.7" y="725.0" text-anchor="middle">79.0</text><text x="1949.6" y="725.0" text-anchor="middle">62.6</text><text x="1996.0" y="725.0" text-anchor="middle">83.3</text><text x="1199.2" y="736.9" text-anchor="start">ReAct</text><text x="1295.8" y="736.9" text-anchor="middle">90.3</text><text x="1342.3" y="736.9" text-anchor="middle">48.9</text><text x="1389.2" y="736.9" text-anchor="middle">82.4</text><text x="1435.8" y="736.9" text-anchor="middle">75.8</text><text x="1483.0" y="736.9" text-anchor="middle">75.4</text><text x="1529.2" y="736.9" text-anchor="middle">77.6</text><text x="1576.2" y="736.9" text-anchor="middle">82.7</text><text x="1622.6" y="736.9" text-anchor="middle">67.4</text><text x="1669.6" y="736.9" text-anchor="middle">73.7</text><text x="1716.0" y="736.9" text-anchor="middle">79.4</text><text x="1762.9" y="736.9" text-anchor="middle">89.6</text><text x="1808.8" y="736.9" text-anchor="middle">52.1</text><text x="1856.3" y="736.9" text-anchor="middle">95.0</text><text x="1902.7" y="736.9" text-anchor="middle">27.2</text><text x="1949.6" y="736.9" text-anchor="middle">86.1</text><text x="1996.0" y="736.9" text-anchor="middle">52.9</text><text x="1199.2" y="748.8" text-anchor="start">NF</text><text x="1295.8" y="748.8" text-anchor="middle">88.0</text><text x="1342.3" y="748.8" text-anchor="middle">47.7</text><text x="1389.2" y="748.8" text-anchor="middle">80.6</text><text x="1435.8" y="748.8" text-anchor="middle">68.2</text><text x="1483.0" y="748.8" text-anchor="middle">75.6</text><text x="1529.2" y="748.8" text-anchor="middle">81.4</text><text x="1576.2" y="748.8" text-anchor="middle">81.4</text><text x="1622.6" y="748.8" text-anchor="middle">65.8</text><text x="1669.6" y="748.8" text-anchor="middle">81.5</text><text x="1716.0" y="748.8" text-anchor="middle">72.5</text><text x="1762.9" y="748.8" text-anchor="middle">71.1</text><text x="1808.8" y="748.8" text-anchor="middle">78.0</text><text x="1856.3" y="748.8" text-anchor="middle">91.0</text><text x="1902.7" y="748.8" text-anchor="middle">49.6</text><text x="1949.6" y="748.8" text-anchor="middle">81.2</text><text x="1996.0" y="748.8" text-anchor="middle">66.7</text><text x="1199.2" y="760.7" text-anchor="start">OE+mixup</text><text x="1295.8" y="760.7" text-anchor="middle">72.6</text><text x="1342.3" y="760.7" text-anchor="middle">83.5</text><text x="1389.2" y="760.7" text-anchor="middle">72.0</text><text x="1435.8" y="760.7" text-anchor="middle">88.5</text><text x="1483.0" y="760.7" text-anchor="middle">62.5</text><text x="1529.2" y="760.7" text-anchor="middle">87.8</text><text x="1576.2" y="760.7" text-anchor="middle">69.0</text><text x="1622.6" y="760.7" text-anchor="middle">86.6</text><text x="1669.6" y="760.7" text-anchor="middle">72.7</text><text x="1716.0" y="760.7" text-anchor="middle">78.9</text><text x="1762.9" y="760.7" text-anchor="middle">80.3</text><text x="1808.8" y="760.7" text-anchor="middle">68.8</text><text x="1856.3" y="760.7" text-anchor="middle">87.3</text><text x="1902.7" y="760.7" text-anchor="middle">62.2</text><text x="1949.6" y="760.7" text-anchor="middle">80.1</text><text x="1996.0" y="760.7" text-anchor="middle">69.9</text><text x="1199.2" y="772.7" text-anchor="start">ARPL+CS</text><text x="1295.8" y="772.7" text-anchor="middle">-</text><text x="1342.3" y="772.7" text-anchor="middle">-</text><text x="1389.2" y="772.7" text-anchor="middle">-</text><text x="1435.8" y="772.7" text-anchor="middle">-</text><text x="1483.0" y="772.7" text-anchor="middle">-</text><text x="1529.2" y="772.7" text-anchor="middle">-</text><text x="1576.2" y="772.7" text-anchor="middle">-</text><text x="1622.6" y="772.7" text-anchor="middle">-</text><text x="1669.6" y="772.7" text-anchor="middle">74.8</text><text x="1716.0" y="772.7" text-anchor="middle">80.3</text><text x="1762.9" y="772.7" text-anchor="middle">80.7</text><text x="1808.8" y="772.7" text-anchor="middle">72.4</text><text x="1856.3" y="772.7" text-anchor="middle">85.4</text><text x="1902.7" y="772.7" text-anchor="middle">50.8</text><text x="1949.6" y="772.7" text-anchor="middle">80.3</text><text x="1996.0" y="772.7" text-anchor="middle">67.8</text><text x="1199.2" y="784.6" text-anchor="start">Cosine proto</text><text x="1295.8" y="784.6" text-anchor="middle" font-weight="bold">91.0</text><text x="1342.3" y="784.6" text-anchor="middle">41.0</text><text x="1389.2" y="784.6" text-anchor="middle">82.1</text><text x="1435.8" y="784.6" text-anchor="middle">78.2</text><text x="1483.0" y="784.6" text-anchor="middle">77.6</text><text x="1529.2" y="784.6" text-anchor="middle">75.6</text><text x="1576.2" y="784.6" text-anchor="middle">83.6</text><text x="1622.6" y="784.6" text-anchor="middle">64.9</text><text x="1669.6" y="784.6" text-anchor="middle">80.3</text><text x="1716.0" y="784.6" text-anchor="middle">68.3</text><text x="1762.9" y="784.6" text-anchor="middle">88.7</text><text x="1808.8" y="784.6" text-anchor="middle">60.8</text><text x="1856.3" y="784.6" text-anchor="middle">91.9</text><text x="1902.7" y="784.6" text-anchor="middle">38.0</text><text x="1949.6" y="784.6" text-anchor="middle">86.9</text><text x="1996.0" y="784.6" text-anchor="middle">55.7</text><text x="1199.2" y="796.5" text-anchor="start">CE</text><text x="1295.8" y="796.5" text-anchor="middle">85.1</text><text x="1342.3" y="796.5" text-anchor="middle">64.4</text><text x="1389.2" y="796.5" text-anchor="middle">78.9</text><text x="1435.8" y="796.5" text-anchor="middle">83.9</text><text x="1483.0" y="796.5" text-anchor="middle">73.2</text><text x="1529.2" y="796.5" text-anchor="middle">79.1</text><text x="1576.2" y="796.5" text-anchor="middle">79.1</text><text x="1622.6" y="796.5" text-anchor="middle">75.8</text><text x="1669.6" y="796.5" text-anchor="middle">83.4</text><text x="1716.0" y="796.5" text-anchor="middle">66.8</text><text x="1762.9" y="796.5" text-anchor="middle">89.5</text><text x="1808.8" y="796.5" text-anchor="middle">37.7</text><text x="1856.3" y="796.5" text-anchor="middle">92.9</text><text x="1902.7" y="796.5" text-anchor="middle">28.1</text><text x="1949.6" y="796.5" text-anchor="middle">88.6</text><text x="1996.0" y="796.5" text-anchor="middle">44.2</text><text x="1199.2" y="808.4" text-anchor="start">SupCon</text><text x="1295.8" y="808.4" text-anchor="middle">-</text><text x="1342.3" y="808.4" text-anchor="middle">-</text><text x="1389.2" y="808.4" text-anchor="middle">-</text><text x="1435.8" y="808.4" text-anchor="middle">-</text><text x="1483.0" y="808.4" text-anchor="middle">-</text><text x="1529.2" y="808.4" text-anchor="middle">-</text><text x="1576.2" y="808.4" text-anchor="middle">-</text><text x="1622.6" y="808.4" text-anchor="middle">-</text><text x="1669.6" y="808.4" text-anchor="middle">80.9</text><text x="1716.0" y="808.4" text-anchor="middle">75.5</text><text x="1762.9" y="808.4" text-anchor="middle">83.5</text><text x="1808.8" y="808.4" text-anchor="middle">68.2</text><text x="1856.3" y="808.4" text-anchor="middle">85.1</text><text x="1902.7" y="808.4" text-anchor="middle">45.1</text><text x="1949.6" y="808.4" text-anchor="middle">83.2</text><text x="1996.0" y="808.4" text-anchor="middle">62.9</text><text x="1199.2" y="820.3" text-anchor="start">SubArcface</text><text x="1295.8" y="820.3" text-anchor="middle">87.1</text><text x="1342.3" y="820.3" text-anchor="middle">61.3</text><text x="1389.2" y="820.3" text-anchor="middle">78.9</text><text x="1435.8" y="820.3" text-anchor="middle">76.9</text><text x="1483.0" y="820.3" text-anchor="middle">73.7</text><text x="1529.2" y="820.3" text-anchor="middle">81.4</text><text x="1576.2" y="820.3" text-anchor="middle">79.9</text><text x="1622.6" y="820.3" text-anchor="middle">73.2</text><text x="1669.6" y="820.3" text-anchor="middle">79.0</text><text x="1716.0" y="820.3" text-anchor="middle">81.2</text><text x="1762.9" y="820.3" text-anchor="middle">82.9</text><text x="1808.8" y="820.3" text-anchor="middle">60.3</text><text x="1856.3" y="820.3" text-anchor="middle">89.1</text><text x="1902.7" y="820.3" text-anchor="middle">32.8</text><text x="1949.6" y="820.3" text-anchor="middle">83.7</text><text x="1996.0" y="820.3" text-anchor="middle">58.1</text><text x="1199.2" y="832.3" text-anchor="start">GSP(1-shot)</text><text x="1295.8" y="832.3" text-anchor="middle">79.3</text><text x="1342.3" y="832.3" text-anchor="middle">61.3</text><text x="1389.2" y="832.3" text-anchor="middle">80.9</text><text x="1435.8" y="832.3" text-anchor="middle">84.1</text><text x="1483.0" y="832.3" text-anchor="middle">88.6</text><text x="1529.2" y="832.3" text-anchor="middle">51.7</text><text x="1576.2" y="832.3" text-anchor="middle">82.9</text><text x="1622.6" y="832.3" text-anchor="middle">65.7</text><text x="1669.6" y="832.3" text-anchor="middle">91.3</text><text x="1716.0" y="832.3" text-anchor="middle">44.0</text><text x="1762.9" y="832.3" text-anchor="middle">86.4</text><text x="1808.8" y="832.3" text-anchor="middle">43.1</text><text x="1856.3" y="832.3" text-anchor="middle">83.8</text><text x="1902.7" y="832.3" text-anchor="middle">91.4</text><text x="1949.6" y="832.3" text-anchor="middle">87.2</text><text x="1996.0" y="832.3" text-anchor="middle">59.5</text><text x="1199.2" y="844.2" text-anchor="start">GSP(5-shot)</text><text x="1295.8" y="844.2" text-anchor="middle">80.7</text><text x="1342.3" y="844.2" text-anchor="middle">54.8</text><text x="1389.2" y="844.2" text-anchor="middle">90.1</text><text x="1435.8" y="844.2" text-anchor="middle">47.2</text><text x="1483.0" y="844.2" text-anchor="middle">89.1</text><text x="1529.2" y="844.2" text-anchor="middle">40.2</text><text x="1576.2" y="844.2" text-anchor="middle">86.6</text><text x="1622.6" y="844.2" text-anchor="middle">47.4</text><text x="1669.6" y="844.2" text-anchor="middle">95.6</text><text x="1716.0" y="844.2" text-anchor="middle">19.2</text><text x="1762.9" y="844.2" text-anchor="middle">94.6</text><text x="1808.8" y="844.2" text-anchor="middle">22.1</text><text x="1856.3" y="844.2" text-anchor="middle">97.0</text><text x="1902.7" y="844.2" text-anchor="middle">12.5</text><text x="1949.6" y="844.2" text-anchor="middle">95.7</text><text x="1996.0" y="844.2" text-anchor="middle">17.9</text><text x="1199.2" y="856.1" text-anchor="start">GSP(full-shot)</text><text x="1295.8" y="856.1" text-anchor="middle">90.1</text><text x="1342.3" y="856.1" text-anchor="middle" font-weight="bold">33.0</text><text x="1389.2" y="856.1" text-anchor="middle" font-weight="bold">93.0</text><text x="1435.8" y="856.1" text-anchor="middle" font-weight="bold">30.5</text><text x="1483.0" y="856.1" text-anchor="middle" font-weight="bold">92.2</text><text x="1529.2" y="856.1" text-anchor="middle" font-weight="bold">34.4</text><text x="1576.2" y="856.1" text-anchor="middle" font-weight="bold">91.8</text><text x="1622.6" y="856.1" text-anchor="middle" font-weight="bold">22.6</text><text x="1669.6" y="856.1" text-anchor="middle" font-weight="bold">97.9</text><text x="1716.0" y="856.1" text-anchor="middle" font-weight="bold">10.1</text><text x="1762.9" y="856.1" text-anchor="middle" font-weight="bold">97.9</text><text x="1808.8" y="856.1" text-anchor="middle" font-weight="bold">7.9</text><text x="1856.3" y="856.1" text-anchor="middle" font-weight="bold">98.8</text><text x="1902.7" y="856.1" text-anchor="middle" font-weight="bold">6.0</text><text x="1949.6" y="856.1" text-anchor="middle" font-weight="bold">98.2</text><text x="1996.0" y="856.1" text-anchor="middle" font-weight="bold">8.0</text><text x="1199.2" y="875.1" text-anchor="start">ULIP</text><text x="1295.8" y="875.1" text-anchor="middle" font-weight="bold">79.9</text><text x="1342.3" y="875.1" text-anchor="middle">82.7</text><text x="1389.2" y="875.1" text-anchor="middle">62.3</text><text x="1435.8" y="875.1" text-anchor="middle">87.5</text><text x="1483.0" y="875.1" text-anchor="middle">57.4</text><text x="1529.2" y="875.1" text-anchor="middle">92.3</text><text x="1576.2" y="875.1" text-anchor="middle">66.5</text><text x="1622.6" y="875.1" text-anchor="middle">87.5</text><text x="1669.6" y="875.1" text-anchor="middle">88.0</text><text x="1716.0" y="875.1" text-anchor="middle">57.1</text><text x="1762.9" y="875.1" text-anchor="middle">76.4</text><text x="1808.8" y="875.1" text-anchor="middle">48.7</text><text x="1856.3" y="875.1" text-anchor="middle">75.2</text><text x="1902.7" y="875.1" text-anchor="middle">51.3</text><text x="1949.6" y="875.1" text-anchor="middle">79.9</text><text x="1996.0" y="875.1" text-anchor="middle" font-weight="bold">52.4</text><text x="1199.2" y="887.0" text-anchor="start">ULIP2&amp; 65.7</text><text x="1295.8" y="887.0" text-anchor="middle">80.8</text><text x="1342.3" y="887.0" text-anchor="middle">76.4</text><text x="1389.2" y="887.0" text-anchor="middle" font-weight="bold">71.2</text><text x="1435.8" y="887.0" text-anchor="middle">77.4</text><text x="1483.0" y="887.0" text-anchor="middle">78.0</text><text x="1529.2" y="887.0" text-anchor="middle">73.2</text><text x="1576.2" y="887.0" text-anchor="middle">76.7</text><text x="1622.6" y="887.0" text-anchor="middle">85.7</text><text x="1669.6" y="887.0" text-anchor="middle">52.5</text><text x="1716.0" y="887.0" text-anchor="middle" font-weight="bold">84.1</text><text x="1762.9" y="887.0" text-anchor="middle" font-weight="bold">44.3</text><text x="1808.8" y="887.0" text-anchor="middle">67.6</text><text x="1856.3" y="887.0" text-anchor="middle">74.4</text><text x="1902.7" y="887.0" text-anchor="middle">79.1</text><text x="1949.6" y="887.0" text-anchor="middle">57.1</text><text x="1199.2" y="898.9" text-anchor="start">DDCS</text><text x="1295.8" y="898.9" text-anchor="middle">63.3</text><text x="1342.3" y="898.9" text-anchor="middle">90.5</text><text x="1389.2" y="898.9" text-anchor="middle">62.4</text><text x="1435.8" y="898.9" text-anchor="middle">80.0</text><text x="1483.0" y="898.9" text-anchor="middle">64.4</text><text x="1529.2" y="898.9" text-anchor="middle">96.2</text><text x="1576.2" y="898.9" text-anchor="middle">63.4</text><text x="1622.6" y="898.9" text-anchor="middle">88.9</text><text x="1669.6" y="898.9" text-anchor="middle">61.1</text><text x="1716.0" y="898.9" text-anchor="middle">86.7</text><text x="1762.9" y="898.9" text-anchor="middle">66.8</text><text x="1808.8" y="898.9" text-anchor="middle">86.5</text><text x="1856.3" y="898.9" text-anchor="middle">77.2</text><text x="1902.7" y="898.9" text-anchor="middle">76.2</text><text x="1949.6" y="898.9" text-anchor="middle">68.4</text><text x="1996.0" y="898.9" text-anchor="middle">83.1</text><text x="1199.2" y="910.9" text-anchor="start">MCM</text><text x="1295.8" y="910.9" text-anchor="middle">52.0</text><text x="1342.3" y="910.9" text-anchor="middle">92.3</text><text x="1389.2" y="910.9" text-anchor="middle">62.3</text><text x="1435.8" y="910.9" text-anchor="middle">91.3</text><text x="1483.0" y="910.9" text-anchor="middle">81.3</text><text x="1529.2" y="910.9" text-anchor="middle">80.4</text><text x="1576.2" y="910.9" text-anchor="middle">65.2</text><text x="1622.6" y="910.9" text-anchor="middle">88.0</text><text x="1669.6" y="910.9" text-anchor="middle">85.1</text><text x="1716.0" y="910.9" text-anchor="middle">51.6</text><text x="1762.9" y="910.9" text-anchor="middle">83.2</text><text x="1808.8" y="910.9" text-anchor="middle">46.1</text><text x="1856.3" y="910.9" text-anchor="middle">66.4</text><text x="1902.7" y="910.9" text-anchor="middle">75.8</text><text x="1949.6" y="910.9" text-anchor="middle">78.2</text><text x="1996.0" y="910.9" text-anchor="middle">57.8</text><text x="1199.2" y="922.8" text-anchor="start">NegLabel</text><text x="1295.8" y="922.8" text-anchor="middle">65.7</text><text x="1342.3" y="922.8" text-anchor="middle">85.5</text><text x="1389.2" y="922.8" text-anchor="middle">66.8</text><text x="1435.8" y="922.8" text-anchor="middle">91.3</text><text x="1483.0" y="922.8" text-anchor="middle">67.4</text><text x="1529.2" y="922.8" text-anchor="middle">88.2</text><text x="1576.2" y="922.8" text-anchor="middle">66.6</text><text x="1622.6" y="922.8" text-anchor="middle">88.3</text><text x="1669.6" y="922.8" text-anchor="middle">60.6</text><text x="1716.0" y="922.8" text-anchor="middle">87.8</text><text x="1762.9" y="922.8" text-anchor="middle">80.6</text><text x="1808.8" y="922.8" text-anchor="middle">78.6</text><text x="1856.3" y="922.8" text-anchor="middle" font-weight="bold">88.0</text><text x="1902.7" y="922.8" text-anchor="middle" font-weight="bold">48.3</text><text x="1949.6" y="922.8" text-anchor="middle">76.4</text><text x="1996.0" y="922.8" text-anchor="middle">71.6</text><text x="1199.2" y="934.7" text-anchor="start">ZLaP</text><text x="1295.8" y="934.7" text-anchor="middle">70.1</text><text x="1342.3" y="934.7" text-anchor="middle">81.7</text><text x="1389.2" y="934.7" text-anchor="middle">67.0</text><text x="1435.8" y="934.7" text-anchor="middle">84.7</text><text x="1483.0" y="934.7" text-anchor="middle">67.8</text><text x="1529.2" y="934.7" text-anchor="middle">83.6</text><text x="1576.2" y="934.7" text-anchor="middle">68.3</text><text x="1622.6" y="934.7" text-anchor="middle">83.3</text><text x="1669.6" y="934.7" text-anchor="middle">88.2</text><text x="1716.0" y="934.7" text-anchor="middle">52.8</text><text x="1762.9" y="934.7" text-anchor="middle">72.3</text><text x="1808.8" y="934.7" text-anchor="middle">66.4</text><text x="1856.3" y="934.7" text-anchor="middle">77.4</text><text x="1902.7" y="934.7" text-anchor="middle">90.0</text><text x="1949.6" y="934.7" text-anchor="middle">79.3</text><text x="1996.0" y="934.7" text-anchor="middle">69.7</text><text x="1199.2" y="946.6" text-anchor="start">GSP</text><text x="1295.8" y="946.6" text-anchor="middle">75.8</text><text x="1342.3" y="946.6" text-anchor="middle" font-weight="bold">63.0</text><text x="1389.2" y="946.6" text-anchor="middle" font-weight="bold">76.5</text><text x="1435.8" y="946.6" text-anchor="middle">77.6</text><text x="1483.0" y="946.6" text-anchor="middle" font-weight="bold">83.6</text><text x="1529.2" y="946.6" text-anchor="middle" font-weight="bold">61.6</text><text x="1576.2" y="946.6" text-anchor="middle" font-weight="bold">78.6</text><text x="1622.6" y="946.6" text-anchor="middle" font-weight="bold">67.4</text><text x="1669.6" y="946.6" text-anchor="middle" font-weight="bold">90.6</text><text x="1716.0" y="946.6" text-anchor="middle" font-weight="bold">38.9</text><text x="1762.9" y="946.6" text-anchor="middle">70.7</text><text x="1808.8" y="946.6" text-anchor="middle">64.0</text><text x="1856.3" y="946.6" text-anchor="middle">79.7</text><text x="1902.7" y="946.6" text-anchor="middle">93.7</text><text x="1949.6" y="946.6" text-anchor="middle" font-weight="bold">80.4</text><text x="1996.0" y="946.6" text-anchor="middle">65.5</text><text transform="translate(1193.2 764) rotate(-90)" text-anchor="middle" font-weight="bold">Requiring training dataset</text><text transform="translate(1193.2 903) rotate(-90)" text-anchor="middle" font-weight="bold">Zero-shot</text></g></svg>
<svg class="sv" style="left:1200px;top:1035px" width="360" height="130" viewBox="1200 1035 360 130"><g font-family="Liberation Serif, DejaVu Serif, serif" font-size="11" fill="#1a1a1a" class="tbt2"><rect x="1209.3" y="1144.8" width="339" height="11.4" fill="#e6e6e6"/><rect x="1209.3" y="1039.50" width="338.9000000000001" height="1.6" fill="#222"/><rect x="1209.3" y="1070.50" width="338.9000000000001" height="1.0" fill="#666"/><rect x="1209.3" y="1156.90" width="338.9000000000001" height="1.6" fill="#333"/><rect x="1259.80" y="1045.5" width="1.0" height="23.0" fill="#555"/><rect x="1259.80" y="1075.5" width="1.0" height="80.29999999999995" fill="#555"/><rect x="1355.50" y="1045.5" width="1.0" height="23.0" fill="#555"/><rect x="1355.50" y="1075.5" width="1.0" height="80.29999999999995" fill="#555"/><rect x="1452.00" y="1045.5" width="1.0" height="23.0" fill="#555"/><rect x="1452.00" y="1075.5" width="1.0" height="80.29999999999995" fill="#555"/><text x="1308.2" y="1053.3" text-anchor="middle" font-weight="bold">Sydney</text><text x="1404.2" y="1053.3" text-anchor="middle" font-weight="bold">nuScenes</text><text x="1500.3" y="1053.3" text-anchor="middle" font-weight="bold">S3DIS</text><text x="1234.8" y="1064.4" text-anchor="middle">Method</text><text x="1286.0" y="1064.4" text-anchor="middle">AUROC↑</text><text x="1334.0" y="1064.4" text-anchor="middle">FPR95↓</text><text x="1382.0" y="1064.4" text-anchor="middle">AUROC↑</text><text x="1430.0" y="1064.4" text-anchor="middle">FPR95↓</text><text x="1478.0" y="1064.4" text-anchor="middle">AUROC↑</text><text x="1526.0" y="1064.4" text-anchor="middle">FPR95↓</text><text x="1234.8" y="1083.6" text-anchor="middle">ULIP</text><text x="1286.0" y="1083.6" text-anchor="middle">63.4</text><text x="1334.0" y="1083.6" text-anchor="middle">81.7</text><text x="1382.0" y="1083.6" text-anchor="middle">53.2</text><text x="1430.0" y="1083.6" text-anchor="middle">93.3</text><text x="1478.0" y="1083.6" text-anchor="middle">53.1</text><text x="1526.0" y="1083.6" text-anchor="middle">95.1</text><text x="1234.8" y="1094.8" text-anchor="middle">ULIP2</text><text x="1286.0" y="1094.8" text-anchor="middle">66.2</text><text x="1334.0" y="1094.8" text-anchor="middle">83.7</text><text x="1382.0" y="1094.8" text-anchor="middle">64.2</text><text x="1430.0" y="1094.8" text-anchor="middle">93.0</text><text x="1478.0" y="1094.8" text-anchor="middle">62.5</text><text x="1526.0" y="1094.8" text-anchor="middle">92.3</text><text x="1234.8" y="1106.1" text-anchor="middle">DDCS</text><text x="1286.0" y="1106.1" text-anchor="middle">61.8</text><text x="1334.0" y="1106.1" text-anchor="middle">87.3</text><text x="1382.0" y="1106.1" text-anchor="middle">62.2</text><text x="1430.0" y="1106.1" text-anchor="middle">91.2</text><text x="1478.0" y="1106.1" text-anchor="middle">62.5</text><text x="1526.0" y="1106.1" text-anchor="middle">92.5</text><text x="1234.8" y="1117.3" text-anchor="middle">MCM</text><text x="1286.0" y="1117.3" text-anchor="middle">65.7</text><text x="1334.0" y="1117.3" text-anchor="middle">82.4</text><text x="1382.0" y="1117.3" text-anchor="middle">57.1</text><text x="1430.0" y="1117.3" text-anchor="middle">82.3</text><text x="1478.0" y="1117.3" text-anchor="middle">65.2</text><text x="1526.0" y="1117.3" text-anchor="middle">88.1</text><text x="1234.8" y="1128.6" text-anchor="middle">NegLabel</text><text x="1286.0" y="1128.6" text-anchor="middle">58.4</text><text x="1334.0" y="1128.6" text-anchor="middle">92.7</text><text x="1382.0" y="1128.6" text-anchor="middle">69.7</text><text x="1430.0" y="1128.6" text-anchor="middle">81.6</text><text x="1478.0" y="1128.6" text-anchor="middle">55.4</text><text x="1526.0" y="1128.6" text-anchor="middle" font-weight="bold">85.4</text><text x="1234.8" y="1139.8" text-anchor="middle">ZLaP</text><text x="1286.0" y="1139.8" text-anchor="middle">58.5</text><text x="1334.0" y="1139.8" text-anchor="middle">80.6</text><text x="1382.0" y="1139.8" text-anchor="middle">70.0</text><text x="1430.0" y="1139.8" text-anchor="middle">87.9</text><text x="1478.0" y="1139.8" text-anchor="middle">71.3</text><text x="1526.0" y="1139.8" text-anchor="middle">88.4</text><text x="1234.8" y="1151.1" text-anchor="middle">GSP</text><text x="1286.0" y="1151.1" text-anchor="middle" font-weight="bold">72.5</text><text x="1334.0" y="1151.1" text-anchor="middle" font-weight="bold">68.9</text><text x="1382.0" y="1151.1" text-anchor="middle" font-weight="bold">80.8</text><text x="1430.0" y="1151.1" text-anchor="middle" font-weight="bold">80.7</text><text x="1478.0" y="1151.1" text-anchor="middle" font-weight="bold">77.6</text><text x="1526.0" y="1151.1" text-anchor="middle">94.0</text></g></svg>
<svg class="sv" style="left:1615px;top:1040px" width="390" height="120" viewBox="1615 1040 390 120"><g font-family="Liberation Serif, DejaVu Serif, serif" font-size="13" fill="#1a1a1a" class="tbt3"><rect x="1622.6" y="1044.10" width="371.3000000000002" height="1.6" fill="#222"/><rect x="1622.6" y="1066.50" width="371.3000000000002" height="1.0" fill="#555"/><rect x="1622.6" y="1153.30" width="371.3000000000002" height="1.6" fill="#333"/><rect x="1720.70" y="1072.0" width="1.0" height="79.5" fill="#555"/><rect x="1879.50" y="1072.0" width="1.0" height="79.5" fill="#555"/><text x="1627.0" y="1060.2" text-anchor="start" textLength="363" lengthAdjust="spacing">OOD Det. Mthd. | Prompt Clust.&#160;&#160; Neg. Prompt | AUROC↑&#160;&#160; FPR95↓</text><text x="1671.0" y="1081.1" text-anchor="middle">Cosine Dist.</text><text x="1762.0" y="1081.1" text-anchor="middle">-</text><text x="1841.3" y="1081.1" text-anchor="middle">-</text><text x="1911.0" y="1081.1" text-anchor="middle">73.2</text><text x="1967.7" y="1081.1" text-anchor="middle">76.7</text><text x="1671.0" y="1094.2" text-anchor="middle">Manifold Dist.</text><text x="1762.0" y="1094.2" text-anchor="middle">-</text><text x="1841.3" y="1094.2" text-anchor="middle">-</text><text x="1911.0" y="1094.2" text-anchor="middle">74.1</text><text x="1967.7" y="1094.2" text-anchor="middle">73.0</text><text x="1671.0" y="1107.3" text-anchor="middle">Score Prop.</text><text x="1762.0" y="1107.3" text-anchor="middle">-</text><text x="1841.3" y="1107.3" text-anchor="middle">-</text><text x="1911.0" y="1107.3" text-anchor="middle">76.4</text><text x="1967.7" y="1107.3" text-anchor="middle">72.6</text><text x="1671.0" y="1120.3" text-anchor="middle">Score Prop.</text><text x="1762.0" y="1120.3" text-anchor="middle"><tspan font-family="DejaVu Sans" font-size="12">✓</tspan></text><text x="1841.3" y="1120.3" text-anchor="middle">-</text><text x="1911.0" y="1120.3" text-anchor="middle">77.2</text><text x="1967.7" y="1120.3" text-anchor="middle">73.6</text><text x="1671.0" y="1133.4" text-anchor="middle">Score Prop.</text><text x="1762.0" y="1133.4" text-anchor="middle">-</text><text x="1841.3" y="1133.4" text-anchor="middle"><tspan font-family="DejaVu Sans" font-size="12">✓</tspan></text><text x="1911.0" y="1133.4" text-anchor="middle">77.3</text><text x="1967.7" y="1133.4" text-anchor="middle">71.4</text><text x="1671.0" y="1146.5" text-anchor="middle">Score Prop.</text><text x="1762.0" y="1146.5" text-anchor="middle"><tspan font-family="DejaVu Sans" font-size="12">✓</tspan></text><text x="1841.3" y="1146.5" text-anchor="middle"><tspan font-family="DejaVu Sans" font-size="12">✓</tspan></text><text x="1911.0" y="1146.5" text-anchor="middle" font-weight="bold">78.6</text><text x="1967.7" y="1146.5" text-anchor="middle" font-weight="bold">67.4</text></g></svg>
<svg class="sv" style="left:1180px;top:1235px" width="280" height="180" viewBox="0 0 2058 1323" preserveAspectRatio="none"><g class="ch735" font-family="Liberation Serif, serif" font-weight="bold" fill="#262626" stroke="#262626" stroke-width="0"><style>.ch735 text{stroke:#262626;stroke-width:2.06px}</style><rect x="348" y="201.7" width="1562" height="6.6" fill="#d9d9d9"/><rect x="348" y="361.7" width="1562" height="6.6" fill="#d9d9d9"/><rect x="348" y="521.7" width="1562" height="6.6" fill="#d9d9d9"/><rect x="348" y="679.7" width="1562" height="6.6" fill="#d9d9d9"/><rect x="348" y="839.7" width="1562" height="6.6" fill="#d9d9d9"/><rect x="348" y="999.7" width="1562" height="6.6" fill="#d9d9d9"/><text x="298" y="224.4" font-size="58.8" text-anchor="end">80</text><text x="1955" y="224.4" font-size="58.8" text-anchor="start">80</text><text x="298" y="384.4" font-size="58.8" text-anchor="end">79</text><text x="1955" y="384.4" font-size="58.8" text-anchor="start">76</text><text x="298" y="544.4" font-size="58.8" text-anchor="end">78</text><text x="1955" y="544.4" font-size="58.8" text-anchor="start">72</text><text x="298" y="702.4" font-size="58.8" text-anchor="end">77</text><text x="1955" y="702.4" font-size="58.8" text-anchor="start">68</text><text x="298" y="862.4" font-size="58.8" text-anchor="end">76</text><text x="1955" y="862.4" font-size="58.8" text-anchor="start">64</text><text x="298" y="1022.4" font-size="58.8" text-anchor="end">75</text><text x="1955" y="1022.4" font-size="58.8" text-anchor="start">60</text><text x="445" y="1097" font-size="58.8" text-anchor="middle">6</text><text x="640" y="1097" font-size="58.8" text-anchor="middle">8</text><text x="836" y="1097" font-size="58.8" text-anchor="middle">10</text><text x="1030" y="1097" font-size="58.8" text-anchor="middle">12</text><text x="1226" y="1097" font-size="58.8" text-anchor="middle">14</text><text x="1420" y="1097" font-size="58.8" text-anchor="middle">16</text><text x="1616" y="1097" font-size="58.8" text-anchor="middle">18</text><text x="1810" y="1097" font-size="58.8" text-anchor="middle">20</text><polyline points="445,717 640,430 836,430 1030,365 1226,365 1420,318 1616,365 1810,430" fill="none" stroke="#4472c4" stroke-width="12.5" stroke-linejoin="round"/><polyline points="445,665 640,815 836,708 1030,453 1226,560 1420,643 1616,553 1810,460" fill="none" stroke="#ed7d31" stroke-width="12.5" stroke-linejoin="round"/><circle cx="445" cy="717" r="22.8" fill="#4472c4"/><circle cx="640" cy="430" r="22.8" fill="#4472c4"/><circle cx="836" cy="430" r="22.8" fill="#4472c4"/><circle cx="1030" cy="365" r="22.8" fill="#4472c4"/><circle cx="1226" cy="365" r="22.8" fill="#4472c4"/><circle cx="1420" cy="318" r="22.8" fill="#4472c4"/><circle cx="1616" cy="365" r="22.8" fill="#4472c4"/><circle cx="1810" cy="430" r="22.8" fill="#4472c4"/><circle cx="445" cy="665" r="22.8" fill="#ed7d31"/><circle cx="640" cy="815" r="22.8" fill="#ed7d31"/><circle cx="836" cy="708" r="22.8" fill="#ed7d31"/><circle cx="1030" cy="453" r="22.8" fill="#ed7d31"/><circle cx="1226" cy="560" r="22.8" fill="#ed7d31"/><circle cx="1420" cy="643" r="22.8" fill="#ed7d31"/><circle cx="1616" cy="553" r="22.8" fill="#ed7d31"/><circle cx="1810" cy="460" r="22.8" fill="#ed7d31"/><line x1="655" y1="128" x2="770" y2="128" stroke="#4472c4" stroke-width="12.5"/><circle cx="712.5" cy="128" r="22.8" fill="#4472c4"/><text x="785" y="149.6" font-size="61.7">Avg AUROC</text><line x1="1180" y1="128" x2="1295" y2="128" stroke="#ed7d31" stroke-width="12.5"/><circle cx="1237.5" cy="128" r="22.8" fill="#ed7d31"/><text x="1310" y="149.6" font-size="61.7">Avg FPR95</text><text transform="translate(212 612) rotate(-90)" font-size="61.7" text-anchor="middle">AUROC↑</text><text transform="translate(2082 612) rotate(-90)" font-size="61.7" text-anchor="middle">FPR95↓</text><text x="1122" y="1227" font-size="105.8" fill="#111" text-anchor="middle">(a) <tspan font-style="italic">N</tspan><tspan font-style="italic" font-size="75" baseline-shift="-22">k</tspan> Nearest Neighbors</text></g></svg><svg class="sv" style="left:1460px;top:1235px" width="280" height="180" viewBox="0 0 2058 1323" preserveAspectRatio="none"><g class="ch735" font-family="Liberation Serif, serif" font-weight="bold" fill="#262626" stroke="#262626" stroke-width="0"><style>.ch735 text{stroke:#262626;stroke-width:2.06px}</style><rect x="305" y="201.7" width="1553" height="6.6" fill="#d9d9d9"/><rect x="305" y="361.7" width="1553" height="6.6" fill="#d9d9d9"/><rect x="305" y="521.7" width="1553" height="6.6" fill="#d9d9d9"/><rect x="305" y="683.7" width="1553" height="6.6" fill="#d9d9d9"/><rect x="305" y="844.7" width="1553" height="6.6" fill="#d9d9d9"/><rect x="305" y="1004.7" width="1553" height="6.6" fill="#d9d9d9"/><text x="252" y="224.4" font-size="58.8" text-anchor="end">80</text><text x="1908" y="224.4" font-size="58.8" text-anchor="start">80</text><text x="252" y="384.4" font-size="58.8" text-anchor="end">79</text><text x="1908" y="384.4" font-size="58.8" text-anchor="start">76</text><text x="252" y="544.4" font-size="58.8" text-anchor="end">78</text><text x="1908" y="544.4" font-size="58.8" text-anchor="start">72</text><text x="252" y="706.4" font-size="58.8" text-anchor="end">77</text><text x="1908" y="706.4" font-size="58.8" text-anchor="start">68</text><text x="252" y="867.4" font-size="58.8" text-anchor="end">76</text><text x="1908" y="867.4" font-size="58.8" text-anchor="start">64</text><text x="252" y="1027.4" font-size="58.8" text-anchor="end">75</text><text x="1908" y="1027.4" font-size="58.8" text-anchor="start">60</text><text x="380" y="1100" font-size="58.8" text-anchor="middle">1</text><text x="535" y="1100" font-size="58.8" text-anchor="middle">2</text><text x="690" y="1100" font-size="58.8" text-anchor="middle">3</text><text x="847" y="1100" font-size="58.8" text-anchor="middle">4</text><text x="1003" y="1100" font-size="58.8" text-anchor="middle">5</text><text x="1158" y="1100" font-size="58.8" text-anchor="middle">6</text><text x="1315" y="1100" font-size="58.8" text-anchor="middle">7</text><text x="1470" y="1100" font-size="58.8" text-anchor="middle">8</text><text x="1625" y="1100" font-size="58.8" text-anchor="middle">9</text><text x="1780" y="1100" font-size="58.8" text-anchor="middle">10</text><polyline points="380,607 535,543 690,512 847,462 1003,432 1158,415 1315,432 1470,543 1625,560 1780,527" fill="none" stroke="#4472c4" stroke-width="12.5" stroke-linejoin="round"/><polyline points="380,550 535,603 690,590 847,655 1003,712 1158,723 1315,743 1470,743 1625,720 1780,712" fill="none" stroke="#ed7d31" stroke-width="12.5" stroke-linejoin="round"/><circle cx="380" cy="607" r="22.8" fill="#4472c4"/><circle cx="535" cy="543" r="22.8" fill="#4472c4"/><circle cx="690" cy="512" r="22.8" fill="#4472c4"/><circle cx="847" cy="462" r="22.8" fill="#4472c4"/><circle cx="1003" cy="432" r="22.8" fill="#4472c4"/><circle cx="1158" cy="415" r="22.8" fill="#4472c4"/><circle cx="1315" cy="432" r="22.8" fill="#4472c4"/><circle cx="1470" cy="543" r="22.8" fill="#4472c4"/><circle cx="1625" cy="560" r="22.8" fill="#4472c4"/><circle cx="1780" cy="527" r="22.8" fill="#4472c4"/><circle cx="380" cy="550" r="22.8" fill="#ed7d31"/><circle cx="535" cy="603" r="22.8" fill="#ed7d31"/><circle cx="690" cy="590" r="22.8" fill="#ed7d31"/><circle cx="847" cy="655" r="22.8" fill="#ed7d31"/><circle cx="1003" cy="712" r="22.8" fill="#ed7d31"/><circle cx="1158" cy="723" r="22.8" fill="#ed7d31"/><circle cx="1315" cy="743" r="22.8" fill="#ed7d31"/><circle cx="1470" cy="743" r="22.8" fill="#ed7d31"/><circle cx="1625" cy="720" r="22.8" fill="#ed7d31"/><circle cx="1780" cy="712" r="22.8" fill="#ed7d31"/><line x1="628" y1="118" x2="742" y2="118" stroke="#4472c4" stroke-width="12.5"/><circle cx="685.0" cy="118" r="22.8" fill="#4472c4"/><text x="755" y="139.6" font-size="61.7">Avg AUROC</text><line x1="1180" y1="118" x2="1295" y2="118" stroke="#ed7d31" stroke-width="12.5"/><circle cx="1237.5" cy="118" r="22.8" fill="#ed7d31"/><text x="1308" y="139.6" font-size="61.7">Avg FPR95</text><text transform="translate(165 612) rotate(-90)" font-size="61.7" text-anchor="middle">AUROC↑</text><text transform="translate(2040 612) rotate(-90)" font-size="61.7" text-anchor="middle">FPR95↓</text><text x="1178" y="1230" font-size="105.8" fill="#111" text-anchor="middle">(b) Number of negative prompt <tspan font-style="italic">m</tspan></text></g></svg><svg class="sv" style="left:1740px;top:1235px" width="300" height="180" viewBox="0 0 2058 1235" preserveAspectRatio="none"><g class="ch686" font-family="Liberation Serif, serif" font-weight="bold" fill="#262626" stroke="#262626" stroke-width="0"><style>.ch686 text{stroke:#262626;stroke-width:1.92px}</style><rect x="235" y="186.9" width="1453" height="6.2" fill="#d9d9d9"/><rect x="235" y="336.9" width="1453" height="6.2" fill="#d9d9d9"/><rect x="235" y="488.9" width="1453" height="6.2" fill="#d9d9d9"/><rect x="235" y="638.9" width="1453" height="6.2" fill="#d9d9d9"/><rect x="235" y="789.9" width="1453" height="6.2" fill="#d9d9d9"/><rect x="235" y="941.9" width="1453" height="6.2" fill="#d9d9d9"/><text x="187" y="208.1" font-size="54.9" text-anchor="end">80</text><text x="1733" y="208.1" font-size="54.9" text-anchor="start">80</text><text x="187" y="358.1" font-size="54.9" text-anchor="end">79</text><text x="1733" y="358.1" font-size="54.9" text-anchor="start">76</text><text x="187" y="510.1" font-size="54.9" text-anchor="end">78</text><text x="1733" y="510.1" font-size="54.9" text-anchor="start">72</text><text x="187" y="660.1" font-size="54.9" text-anchor="end">77</text><text x="1733" y="660.1" font-size="54.9" text-anchor="start">68</text><text x="187" y="811.1" font-size="54.9" text-anchor="end">76</text><text x="1733" y="811.1" font-size="54.9" text-anchor="start">64</text><text x="187" y="963.1" font-size="54.9" text-anchor="end">75</text><text x="1733" y="963.1" font-size="54.9" text-anchor="start">60</text><text x="340" y="1032" font-size="54.9" text-anchor="middle">1</text><text x="545" y="1032" font-size="54.9" text-anchor="middle">2</text><text x="752" y="1032" font-size="54.9" text-anchor="middle">3</text><text x="960" y="1032" font-size="54.9" text-anchor="middle">4</text><text x="1168" y="1032" font-size="54.9" text-anchor="middle">5</text><text x="1375" y="1032" font-size="54.9" text-anchor="middle">6</text><text x="1582" y="1032" font-size="54.9" text-anchor="middle">7</text><polyline points="340,628 545,490 752,400 960,568 1168,520 1375,672 1582,703" fill="none" stroke="#4472c4" stroke-width="11.7" stroke-linejoin="round"/><polyline points="340,590 545,612 752,665 960,530 1168,553 1375,458 1582,490" fill="none" stroke="#ed7d31" stroke-width="11.7" stroke-linejoin="round"/><circle cx="340" cy="628" r="21.3" fill="#4472c4"/><circle cx="545" cy="490" r="21.3" fill="#4472c4"/><circle cx="752" cy="400" r="21.3" fill="#4472c4"/><circle cx="960" cy="568" r="21.3" fill="#4472c4"/><circle cx="1168" cy="520" r="21.3" fill="#4472c4"/><circle cx="1375" cy="672" r="21.3" fill="#4472c4"/><circle cx="1582" cy="703" r="21.3" fill="#4472c4"/><circle cx="340" cy="590" r="21.3" fill="#ed7d31"/><circle cx="545" cy="612" r="21.3" fill="#ed7d31"/><circle cx="752" cy="665" r="21.3" fill="#ed7d31"/><circle cx="960" cy="530" r="21.3" fill="#ed7d31"/><circle cx="1168" cy="553" r="21.3" fill="#ed7d31"/><circle cx="1375" cy="458" r="21.3" fill="#ed7d31"/><circle cx="1582" cy="490" r="21.3" fill="#ed7d31"/><line x1="548" y1="110" x2="660" y2="110" stroke="#4472c4" stroke-width="11.7"/><circle cx="604.0" cy="110" r="21.3" fill="#4472c4"/><text x="670" y="130.2" font-size="57.6">Avg AUROC</text><line x1="1062" y1="110" x2="1172" y2="110" stroke="#ed7d31" stroke-width="11.7"/><circle cx="1117.0" cy="110" r="21.3" fill="#ed7d31"/><text x="1185" y="130.2" font-size="57.6">Avg FPR95</text><text transform="translate(100 572) rotate(-90)" font-size="57.6" text-anchor="middle">AUROC↑</text><text transform="translate(1858 572) rotate(-90)" font-size="57.6" text-anchor="middle">FPR95↓</text><text x="995" y="1150" font-size="98.8" fill="#111" text-anchor="middle">(c) Cluster Number <tspan font-style="italic">N</tspan><tspan font-style="italic" font-size="70" baseline-shift="-20">c</tspan></text></g></svg>
<svg class="sv" style="left:0px;top:0px" width="1160" height="1440" viewBox="0 0 1160 1440"><g font-family="Liberation Serif, DejaVu Serif, serif" fill="#111"><text x="110.6" y="964.6" font-size="24.5" font-style="italic">S<tspan font-size="17" baseline-shift="-5">t</tspan></text><text x="139.5" y="964.6" font-size="24.5">=</text><text x="165.0" y="964.6" font-size="24.5" font-style="italic">W&#771;</text><text x="191.5" y="964.6" font-size="24.5" font-style="italic">S<tspan font-size="17" baseline-shift="-5">t</tspan><tspan font-style="normal" font-size="17" baseline-shift="-5">−1</tspan></text><text x="244.5" y="964.6" font-size="24.5">+</text><text x="268.0" y="964.6" font-size="24.5" font-style="italic">αS<tspan font-style="normal" font-size="17" baseline-shift="-5">0</tspan><tspan font-style="normal">,</tspan></text><text x="342.0" y="964.6" font-size="21.5">s.t.</text><text x="384.5" y="964.6" font-size="24.5" font-style="italic">W&#771;</text><text x="409.0" y="964.6" font-size="24.5">=</text><text x="433.5" y="964.6" font-size="24.5" font-style="italic" textLength="109.5" lengthAdjust="spacingAndGlyphs">D<tspan font-style="normal" font-size="13" baseline-shift="9">−½</tspan>WD<tspan font-style="normal" font-size="13" baseline-shift="9">−½</tspan><tspan font-style="normal">,</tspan></text><text x="555.5" y="964.6" font-size="24.5" font-style="italic">D</text><text x="575.0" y="964.6" font-size="24.5">=</text><text x="598.0" y="964.6" font-size="24.5" font-weight="bold" textLength="41.5" lengthAdjust="spacingAndGlyphs">diag(</text><text transform="translate(637.5 968.8) scale(1.220 1)" font-size="32.9">∑</text><text x="655.0" y="986.0" font-size="14" font-style="italic">j</text><text x="668.0" y="964.6" font-size="24.5" font-style="italic" textLength="52" lengthAdjust="spacingAndGlyphs">W<tspan font-size="17" baseline-shift="-5">ij</tspan><tspan font-style="normal">),</tspan></text><text x="781.8" y="958.0" font-size="17" font-style="italic" textLength="44" lengthAdjust="spacingAndGlyphs">S<tspan font-style="normal" font-size="12" baseline-shift="-4">0</tspan><tspan font-style="normal"> = [</tspan></text><text x="845.3" y="958.0" font-size="17" textLength="55" lengthAdjust="spacingAndGlyphs">1, · · · , 1</text><text x="920.5" y="958.0" font-size="17">,</text><text x="934.5" y="958.0" font-size="17" textLength="56" lengthAdjust="spacingAndGlyphs">0, · · · , 0</text><text x="997.0" y="958.0" font-size="17">],</text><path d="M845.5,961.5 q0,4.2 5.6000000000000005,4.2 L867.9,965.7 q5.6000000000000005,0 5.6000000000000005,3.8500000000000005 q0,-3.8500000000000005 5.6000000000000005,-3.8500000000000005 L895.9,965.7 q5.6000000000000005,0 5.6000000000000005,-4.2" fill="none" stroke="#111" stroke-width="1.1"/><path d="M934.5,961.5 q0,4.2 5.6000000000000005,4.2 L957.4,965.7 q5.6000000000000005,0 5.6000000000000005,3.8500000000000005 q0,-3.8500000000000005 5.6000000000000005,-3.8500000000000005 L985.9,965.7 q5.6000000000000005,0 5.6000000000000005,-4.2" fill="none" stroke="#111" stroke-width="1.1"/><text x="825.5" y="984.0" font-size="11.5" textLength="94.5" lengthAdjust="spacingAndGlyphs">|<tspan font-style="italic">P</tspan>|+|<tspan font-style="italic">D<tspan font-size="8" baseline-shift="-3">l</tspan></tspan>| elements</text><text x="928.4" y="984.0" font-size="11.5" textLength="69" lengthAdjust="spacingAndGlyphs">|<tspan font-style="italic">D<tspan font-size="8" baseline-shift="-3">u</tspan></tspan>| elements</text><text x="1071.0" y="963.6" font-size="22">(1)</text><text x="215.8" y="1258.5" font-size="24.5" font-style="italic">P&#771;<tspan font-size="16" baseline-shift="-5">c</tspan></text><text x="244.0" y="1258.5" font-size="24.5">=</text><text x="265.0" y="1258.5" font-size="24.5" textLength="27" lengthAdjust="spacingAndGlyphs">arg</text><text x="304.5" y="1258.5" font-size="24.5" textLength="32" lengthAdjust="spacingAndGlyphs">min</text><text x="297.0" y="1272.5" font-size="15" textLength="46" lengthAdjust="spacingAndGlyphs">{<tspan font-style="italic">μ<tspan font-size="10" baseline-shift="-3">k</tspan></tspan>},<tspan font-style="italic">γ</tspan></text><text transform="translate(347.2 1260.4) scale(1.294 1)" font-size="34.1">∑</text><text x="353.0" y="1280.7" font-size="15" font-style="italic">N<tspan font-size="10" baseline-shift="-3">c</tspan></text><text transform="translate(389.8 1260.4) scale(1.314 1)" font-size="34.1">∑</text><text x="381.0" y="1281.0" font-size="15" font-style="italic" textLength="48.5" lengthAdjust="spacingAndGlyphs">z<tspan font-size="9" baseline-shift="5">p</tspan><tspan font-size="9" baseline-shift="-4" dx="-5">cj</tspan><tspan font-style="normal">∈</tspan>P<tspan font-size="10" baseline-shift="-3">c</tspan></text><text x="434.4" y="1258.5" font-size="24.5" font-style="italic" textLength="131" lengthAdjust="spacingAndGlyphs">γ<tspan font-size="16" baseline-shift="-5">jk</tspan><tspan font-style="normal">‖</tspan>z<tspan font-size="16" baseline-shift="8">p</tspan><tspan font-size="16" baseline-shift="-6" dx="-8">cj</tspan><tspan font-style="normal"> − </tspan>μ<tspan font-size="16" baseline-shift="-5">k</tspan><tspan font-style="normal">‖<tspan font-size="16" baseline-shift="9">2</tspan>,</tspan></text><text x="607.0" y="1260.5" font-size="21.5">s.t.</text><text x="658.0" y="1258.5" font-size="24.5" font-style="italic" textLength="175" lengthAdjust="spacingAndGlyphs">γ <tspan font-style="normal">∈ {0, 1}</tspan><tspan font-size="16" baseline-shift="10"><tspan font-style="normal">|</tspan>T<tspan font-style="normal">|×</tspan>N<tspan font-size="11" baseline-shift="-3">c</tspan></tspan><tspan font-style="normal">,</tspan></text><text transform="translate(842.4 1262.7) scale(1.418 1)" font-size="36.5">∑</text><text x="856.5" y="1287.0" font-size="15" font-style="italic">k</text><text x="876.6" y="1258.5" font-size="24.5" font-style="italic" textLength="88.5" lengthAdjust="spacingAndGlyphs">γ<tspan font-size="16" baseline-shift="-5">jk</tspan><tspan font-style="normal"> = 1,</tspan></text><text x="1070.4" y="1257.0" font-size="22">(2)</text><text x="239.3" y="1401.8" font-size="23" font-style="italic" textLength="300.4" lengthAdjust="spacingAndGlyphs">I<tspan font-size="15" baseline-shift="-5">pos</tspan><tspan font-style="normal"> = {</tspan>i<tspan font-style="normal"> | </tspan>S<tspan font-size="15" baseline-shift="-4">T</tspan><tspan font-style="normal">[</tspan>i<tspan font-style="normal">] &gt; top(</tspan>S<tspan font-size="15" baseline-shift="-4">T</tspan><tspan font-style="normal">, </tspan>m<tspan font-style="normal">%)},</tspan></text><text x="597.0" y="1401.8" font-size="23" font-style="italic" textLength="311.5" lengthAdjust="spacingAndGlyphs">I<tspan font-size="15" baseline-shift="-5">neg</tspan><tspan font-style="normal"> = {</tspan>i<tspan font-style="normal"> | </tspan>S<tspan font-size="15" baseline-shift="-4">T</tspan><tspan font-style="normal">[</tspan>i<tspan font-style="normal">] &lt; top(</tspan>S<tspan font-size="15" baseline-shift="-4">T</tspan><tspan font-style="normal">, 1 − </tspan>m<tspan font-style="normal">%)}</tspan></text><text x="1070.8" y="1401.8" font-size="22">(3)</text></g></svg>
<svg class="sv" style="left:15px;top:65px" width="260" height="120" viewBox="0 0 2058 950" preserveAspectRatio="none"><defs><linearGradient id="scg" x1="0" y1="0" x2="0" y2="1"><stop offset="0" stop-color="#1877bd"/><stop offset="0.55" stop-color="#5d9fd4"/><stop offset="0.85" stop-color="#d8e8f5"/><stop offset="1" stop-color="#ffffff"/></linearGradient><path id="arcTop" d="M1110,520 A372,372 0 0 1 1850,520"/><path id="arcBot" d="M1075,470 A405,405 0 0 0 1885,470"/></defs><path d="M85,165 L190,62 L715,62 L820,165 L820,560 Q800,760 455,882 Q110,760 85,560 Z" fill="none" stroke="#a9cde3" stroke-width="9"/><path d="M100,170 L198,78 L707,78 L805,170 L805,555 Q785,745 455,866 Q125,745 100,555 Z" fill="#1d6aa5"/><path d="M125,182 L210,105 L695,105 L780,182 L780,550 Q760,725 455,836 Q150,725 125,550 Z" fill="#fff"/><rect x="410" y="100" width="90" height="740" fill="#1d6aa5"/><rect x="110" y="330" width="690" height="95" fill="#1d6aa5"/><polygon points="455,112 690,112 765,228 455,228" fill="#1d6aa5"/><rect x="500" y="250" width="280" height="42" fill="#1d6aa5"/><rect x="568" y="256" width="130" height="30" fill="#fff"/><text x="633" y="283" font-family="Liberation Serif,serif" font-weight="bold" font-size="38" fill="#1d6aa5" text-anchor="middle">1896</text><text x="565" y="210" font-family="WenQuanYi Zen Hei,Noto Sans CJK SC,sans-serif" font-size="70" fill="#fff" text-anchor="middle">山</text><text x="650" y="210" font-family="WenQuanYi Zen Hei,Noto Sans CJK SC,sans-serif" font-size="70" fill="#fff" text-anchor="middle">斋</text><line x1="155" y1="300" x2="370" y2="165" stroke="#1d6aa5" stroke-width="36" stroke-linecap="round"/><path d="M320,125 Q400,170 415,295" fill="none" stroke="#1d6aa5" stroke-width="34" stroke-linecap="round"/><text x="445" y="405" font-family="WenQuanYi Zen Hei,Noto Sans CJK SC,sans-serif" font-style="italic" font-size="68" fill="#fff" text-anchor="middle" textLength="460" lengthAdjust="spacingAndGlyphs">西南交通大学</text><circle cx="235" cy="500" r="48" fill="#fff" stroke="#1d6aa5" stroke-width="14"/><circle cx="300" cy="470" r="50" fill="#fff" stroke="#1d6aa5" stroke-width="14"/><circle cx="350" cy="520" r="45" fill="#fff" stroke="#1d6aa5" stroke-width="14"/><circle cx="210" cy="570" r="50" fill="#fff" stroke="#1d6aa5" stroke-width="14"/><circle cx="280" cy="560" r="55" fill="#fff" stroke="#1d6aa5" stroke-width="14"/><circle cx="350" cy="600" r="45" fill="#fff" stroke="#1d6aa5" stroke-width="14"/><circle cx="240" cy="630" r="45" fill="#fff" stroke="#1d6aa5" stroke-width="14"/><circle cx="320" cy="650" r="42" fill="#fff" stroke="#1d6aa5" stroke-width="14"/><path d="M270,640 L265,720 M320,650 L330,720 M245,720 L350,720" stroke="#1d6aa5" stroke-width="18" fill="none"/><rect x="525" y="468" width="212" height="20" fill="#1d6aa5"/><rect x="595" y="495" width="70" height="45" fill="none" stroke="#1d6aa5" stroke-width="14"/><path d="M625,545 L565,705 M630,545 L640,730 M635,545 L680,690" stroke="#1d6aa5" stroke-width="14" fill="none"/><path d="M430,480 Q455,520 480,480 M455,500 L455,600 M430,640 Q455,700 480,640 M455,660 L455,760" stroke="#fff" stroke-width="8" fill="none"/><circle cx="1480" cy="472" r="428" fill="#fff" stroke="#1f4f9e" stroke-width="10"/><circle cx="1480" cy="472" r="272" fill="url(#scg)" stroke="#1f4f9e" stroke-width="9"/><text font-family="WenQuanYi Zen Hei,Noto Sans CJK SC,sans-serif" font-size="100" font-weight="bold" fill="#1f4f9e" font-style="italic"><textPath href="#arcTop" startOffset="50%" text-anchor="middle" textLength="980" lengthAdjust="spacing">华南理工大学</textPath></text><text font-family="Liberation Sans,sans-serif" font-size="82" fill="#1f4f9e"><textPath href="#arcBot" startOffset="50%" text-anchor="middle" textLength="1080" lengthAdjust="spacingAndGlyphs">SOUTH CHINA UNIVERSITY OF TECHNOLOGY</textPath></text><text x="1480" y="755" font-family="Liberation Serif,serif" font-size="40" fill="#1f4f9e" text-anchor="middle" letter-spacing="10">1918</text><g fill="none" stroke="#fff" stroke-width="9"><circle cx="1478" cy="300" r="40"/><circle cx="1535" cy="331" r="40"/><circle cx="1513" cy="381" r="40"/><circle cx="1443" cy="381" r="40"/><circle cx="1421" cy="331" r="40"/></g><g fill="#fff" fill-opacity="0.9"><rect x="1310" y="490" width="20" height="145"/><polygon points="1308,490 1320,465 1332,490"/><rect x="1365" y="490" width="20" height="145"/><polygon points="1363,490 1375,465 1387,490"/><rect x="1425" y="490" width="20" height="145"/><polygon points="1423,490 1435,465 1447,490"/><rect x="1512" y="490" width="20" height="145"/><polygon points="1510,490 1522,465 1534,490"/><rect x="1570" y="490" width="20" height="145"/><polygon points="1568,490 1580,465 1592,490"/><rect x="1625" y="490" width="20" height="145"/><polygon points="1623,490 1635,465 1647,490"/><rect x="1300" y="630" width="360" height="12"/><rect x="1330" y="530" width="300" height="14"/></g></svg><svg class="sv" style="left:275px;top:65px" width="280" height="120" viewBox="0 0 2058 882" preserveAspectRatio="none"><path fill-rule="evenodd" fill="#0b3290" d="M612,248 C560,232 430,238 300,300 C170,370 70,480 55,590 C45,680 100,732 175,728 C260,722 360,640 470,500 C540,410 590,330 640,268 C650,255 635,245 612,248 Z M520,315 C450,318 350,360 260,450 C180,530 140,600 150,650 C158,688 200,680 245,645 C320,585 420,460 520,315 Z"/><path fill="#0b3290" d="M575,260 C610,240 665,250 655,300 C630,380 560,500 525,585 C505,640 520,665 560,640 C650,585 730,500 800,430 L815,450 C760,540 690,640 610,700 C550,745 470,740 468,670 C466,600 520,480 575,260 Z"/><polygon points="860,88 865,188 948,170 885,246 890,342 829,281 750,338 791,253 737,215 815,185" fill="#e0281c"/><path d="M858,140 L840,200 M872,262 L862,300" stroke="#fff" stroke-width="9"/><text x="1025" y="375" font-family="Liberation Sans,sans-serif" font-weight="bold" font-size="100" fill="#2a4f9f" textLength="580" lengthAdjust="spacingAndGlyphs">Institute for</text><text x="1025" y="512" font-family="Liberation Sans,sans-serif" font-weight="bold" font-size="100" fill="#2a4f9f" textLength="955" lengthAdjust="spacingAndGlyphs">Infocomm Research</text><rect x="1025" y="584" width="520" height="9" fill="#8fa8d8"/><text x="1025" y="725" font-family="Liberation Sans,sans-serif" font-size="76" fill="#3a5ea8" textLength="520" lengthAdjust="spacing">A*STAR I²R</text></svg><svg class="sv" style="left:1700px;top:70px" width="340" height="110" viewBox="0 0 2058 666" preserveAspectRatio="none"><defs><linearGradient id="hib" gradientUnits="userSpaceOnUse" x1="755" y1="0" x2="1235" y2="0"><stop offset="0" stop-color="#a3225f"/><stop offset="0.5" stop-color="#d8463f"/><stop offset="1" stop-color="#f4622a"/></linearGradient></defs><text x="88" y="420" font-family="Liberation Sans,sans-serif" font-weight="bold" font-size="462" fill="#9c1c64" textLength="647" lengthAdjust="spacingAndGlyphs">ICCV</text><text x="88" y="550" font-family="Liberation Sans,sans-serif" font-weight="bold" font-size="124" fill="#9c1c64" textLength="647" lengthAdjust="spacingAndGlyphs">OCT 19-23, 2025</text><text x="1285" y="255" font-family="Liberation Sans,sans-serif" font-weight="bold" font-size="233" fill="#9c1c64" textLength="680" lengthAdjust="spacingAndGlyphs">HONOLULU</text><text x="1285" y="555" font-family="Liberation Sans,sans-serif" font-weight="bold" font-size="342" fill="#9c1c64" textLength="680" lengthAdjust="spacingAndGlyphs">HAWAII</text><g fill="url(#hib)"><circle cx="1039" cy="215" r="118"/><circle cx="1123" cy="339" r="118"/><circle cx="1030" cy="458" r="118"/><circle cx="889" cy="407" r="118"/><circle cx="894" cy="256" r="118"/><circle cx="995" cy="335" r="150"/></g><path d="M1012,324 L1107,260 M1028,313 L1062,261 M1028,313 L1089,301 M1011,347 L1101,418 M1027,360 L1086,376 M1027,360 L1057,414 M988,354 L949,462 M981,373 L985,434 M981,373 L939,418 M975,334 L860,330 M955,334 L897,356 M955,334 L899,307 M989,316 L958,205 M984,297 L945,248 M984,297 L992,235" stroke="#fff" stroke-width="10" stroke-linecap="round" fill="none"/><path d="M990,330 L1200,110" stroke="#e8532f" stroke-width="16"/><circle cx="1150" cy="120" r="11" fill="#e8532f"/><circle cx="1172" cy="100" r="11" fill="#e8532f"/><circle cx="1195" cy="90" r="11" fill="#e8532f"/><circle cx="1218" cy="92" r="11" fill="#e8532f"/><circle cx="1225" cy="118" r="11" fill="#e8532f"/><circle cx="1208" cy="130" r="11" fill="#e8532f"/><circle cx="1185" cy="145" r="11" fill="#e8532f"/></svg>
<div style="position:absolute;left:0;top:1439px;width:2058px;height:1px;background:#eef0f1"></div>
</body></html>
